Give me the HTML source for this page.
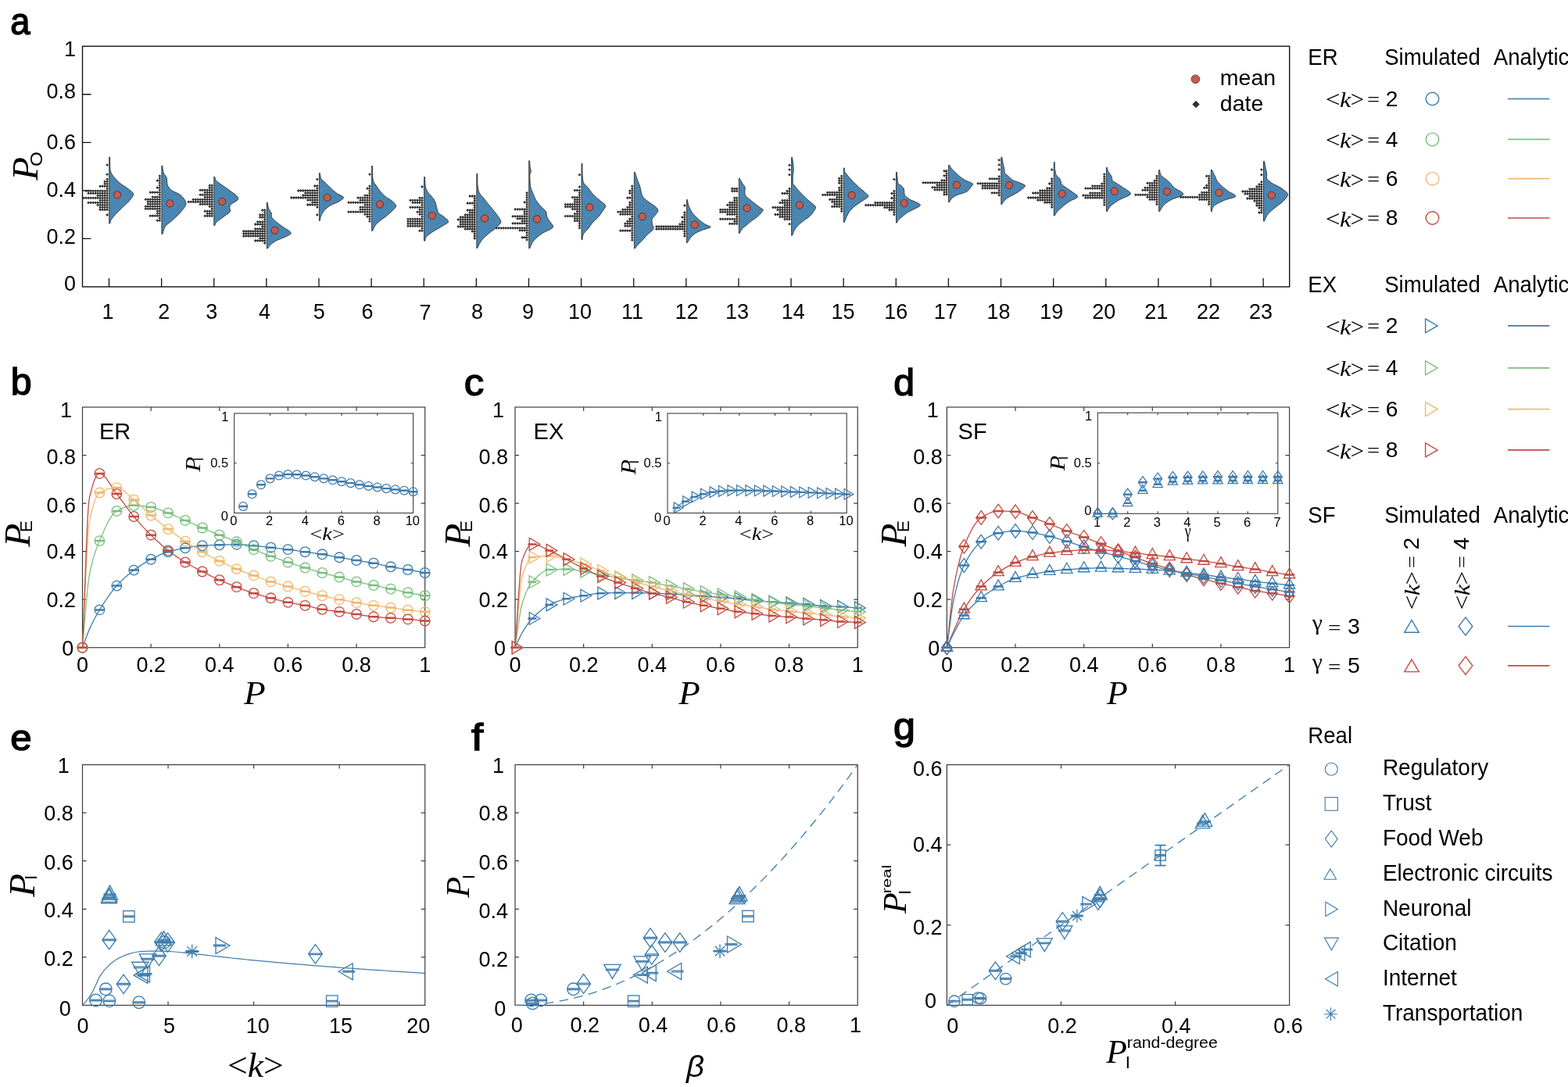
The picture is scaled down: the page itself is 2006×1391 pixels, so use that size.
<!DOCTYPE html>
<html><head><meta charset="utf-8"><title>Figure</title>
<style>
html,body{margin:0;padding:0;background:#fff;}
svg{display:block;}
.vf{fill:#4a86b1;stroke:#2e2e2e;stroke-width:0.9;stroke-linejoin:round}
.md{fill:#c95a4c;stroke:#3a2a2a;stroke-width:0.8}
.dt{fill:#333}
text{fill:#000}
</style></head><body>
<svg xmlns="http://www.w3.org/2000/svg" width="2006" height="1391" viewBox="0 0 2006 1391">
<rect width="2006" height="1391" fill="#fff"/>
<rect x="105.5" y="59.2" width="1544.2" height="307.8" fill="none" stroke="#111" stroke-width="1.4"/>
<path d="M105.5 305.44H116.5M105.5 243.88H116.5M105.5 182.32H116.5M105.5 120.76H116.5M139.5 367V356M206.62 367V356M273.74 367V356M340.86 367V356M407.98 367V356M475.1 367V356M542.22 367V356M609.34 367V356M676.46 367V356M743.58 367V356M810.7 367V356M877.82 367V356M944.94 367V356M1012.06 367V356M1079.18 367V356M1146.3 367V356M1213.42 367V356M1280.54 367V356M1347.66 367V356M1414.78 367V356M1481.9 367V356M1549.02 367V356M1616.14 367V356" stroke="#111" stroke-width="1.3" fill="none"/>
<text transform="translate(97,372.2) scale(1,1.04)" font-size="27" text-anchor="end" font-family='"Liberation Sans", Arial, sans-serif'>0</text>
<text transform="translate(97,312.3) scale(1,1.04)" font-size="27" text-anchor="end" font-family='"Liberation Sans", Arial, sans-serif'>0.2</text>
<text transform="translate(97,251.6) scale(1,1.04)" font-size="27" text-anchor="end" font-family='"Liberation Sans", Arial, sans-serif'>0.4</text>
<text transform="translate(97,190.6) scale(1,1.04)" font-size="27" text-anchor="end" font-family='"Liberation Sans", Arial, sans-serif'>0.6</text>
<text transform="translate(97,126) scale(1,1.04)" font-size="27" text-anchor="end" font-family='"Liberation Sans", Arial, sans-serif'>0.8</text>
<text transform="translate(97,71.8) scale(1,1.04)" font-size="27" text-anchor="end" font-family='"Liberation Sans", Arial, sans-serif'>1</text>
<text transform="translate(137.9,407.8) scale(1,1.04)" font-size="27" text-anchor="middle" font-family='"Liberation Sans", Arial, sans-serif'>1</text>
<text transform="translate(209.7,407.8) scale(1,1.04)" font-size="27" text-anchor="middle" font-family='"Liberation Sans", Arial, sans-serif'>2</text>
<text transform="translate(270.7,407.8) scale(1,1.04)" font-size="27" text-anchor="middle" font-family='"Liberation Sans", Arial, sans-serif'>3</text>
<text transform="translate(338.5,407.8) scale(1,1.04)" font-size="27" text-anchor="middle" font-family='"Liberation Sans", Arial, sans-serif'>4</text>
<text transform="translate(408.3,407.8) scale(1,1.04)" font-size="27" text-anchor="middle" font-family='"Liberation Sans", Arial, sans-serif'>5</text>
<text transform="translate(470.1,407.8) scale(1,1.04)" font-size="27" text-anchor="middle" font-family='"Liberation Sans", Arial, sans-serif'>6</text>
<text transform="translate(543.9,408.8) scale(1,1.04)" font-size="27" text-anchor="middle" font-family='"Liberation Sans", Arial, sans-serif'>7</text>
<text transform="translate(610.5,407.8) scale(1,1.04)" font-size="27" text-anchor="middle" font-family='"Liberation Sans", Arial, sans-serif'>8</text>
<text transform="translate(675.5,407.8) scale(1,1.04)" font-size="27" text-anchor="middle" font-family='"Liberation Sans", Arial, sans-serif'>9</text>
<text transform="translate(742.1,407.8) scale(1,1.04)" font-size="27" text-anchor="middle" font-family='"Liberation Sans", Arial, sans-serif'>10</text>
<text transform="translate(809.1,407.8) scale(1,1.04)" font-size="27" text-anchor="middle" font-family='"Liberation Sans", Arial, sans-serif'>11</text>
<text transform="translate(878.4,407.8) scale(1,1.04)" font-size="27" text-anchor="middle" font-family='"Liberation Sans", Arial, sans-serif'>12</text>
<text transform="translate(942.9,407.8) scale(1,1.04)" font-size="27" text-anchor="middle" font-family='"Liberation Sans", Arial, sans-serif'>13</text>
<text transform="translate(1014.7,407.8) scale(1,1.04)" font-size="27" text-anchor="middle" font-family='"Liberation Sans", Arial, sans-serif'>14</text>
<text transform="translate(1078.5,407.8) scale(1,1.04)" font-size="27" text-anchor="middle" font-family='"Liberation Sans", Arial, sans-serif'>15</text>
<text transform="translate(1146.3,407.8) scale(1,1.04)" font-size="27" text-anchor="middle" font-family='"Liberation Sans", Arial, sans-serif'>16</text>
<text transform="translate(1209.7,407.8) scale(1,1.04)" font-size="27" text-anchor="middle" font-family='"Liberation Sans", Arial, sans-serif'>17</text>
<text transform="translate(1277.5,407.8) scale(1,1.04)" font-size="27" text-anchor="middle" font-family='"Liberation Sans", Arial, sans-serif'>18</text>
<text transform="translate(1345.3,407.8) scale(1,1.04)" font-size="27" text-anchor="middle" font-family='"Liberation Sans", Arial, sans-serif'>19</text>
<text transform="translate(1412.3,407.8) scale(1,1.04)" font-size="27" text-anchor="middle" font-family='"Liberation Sans", Arial, sans-serif'>20</text>
<text transform="translate(1479.3,407.8) scale(1,1.04)" font-size="27" text-anchor="middle" font-family='"Liberation Sans", Arial, sans-serif'>21</text>
<text transform="translate(1545.9,407.8) scale(1,1.04)" font-size="27" text-anchor="middle" font-family='"Liberation Sans", Arial, sans-serif'>22</text>
<text transform="translate(1612.9,407.8) scale(1,1.04)" font-size="27" text-anchor="middle" font-family='"Liberation Sans", Arial, sans-serif'>23</text>
<path class="dt" d="M137.1 227.4l1.9 1.9-1.9 1.9-1.9-1.9zM137.1 230.4l1.9 1.9-1.9 1.9-1.9-1.9zM134.1 230.4l1.9 1.9-1.9 1.9-1.9-1.9zM137.1 233.4l1.9 1.9-1.9 1.9-1.9-1.9zM134.1 233.4l1.9 1.9-1.9 1.9-1.9-1.9zM137.1 236.4l1.9 1.9-1.9 1.9-1.9-1.9zM134.1 236.4l1.9 1.9-1.9 1.9-1.9-1.9zM131.1 236.4l1.9 1.9-1.9 1.9-1.9-1.9zM128.1 236.4l1.9 1.9-1.9 1.9-1.9-1.9zM137.1 239.4l1.9 1.9-1.9 1.9-1.9-1.9zM137.1 242.4l1.9 1.9-1.9 1.9-1.9-1.9zM134.1 242.4l1.9 1.9-1.9 1.9-1.9-1.9zM131.1 242.4l1.9 1.9-1.9 1.9-1.9-1.9zM128.1 242.4l1.9 1.9-1.9 1.9-1.9-1.9zM125.1 242.4l1.9 1.9-1.9 1.9-1.9-1.9zM122.1 242.4l1.9 1.9-1.9 1.9-1.9-1.9zM119.1 242.4l1.9 1.9-1.9 1.9-1.9-1.9zM116.1 242.4l1.9 1.9-1.9 1.9-1.9-1.9zM113.1 242.4l1.9 1.9-1.9 1.9-1.9-1.9zM110.1 242.4l1.9 1.9-1.9 1.9-1.9-1.9zM137.1 245.4l1.9 1.9-1.9 1.9-1.9-1.9zM134.1 245.4l1.9 1.9-1.9 1.9-1.9-1.9zM131.1 245.4l1.9 1.9-1.9 1.9-1.9-1.9zM128.1 245.4l1.9 1.9-1.9 1.9-1.9-1.9zM125.1 245.4l1.9 1.9-1.9 1.9-1.9-1.9zM122.1 245.4l1.9 1.9-1.9 1.9-1.9-1.9zM119.1 245.4l1.9 1.9-1.9 1.9-1.9-1.9zM116.1 245.4l1.9 1.9-1.9 1.9-1.9-1.9zM113.1 245.4l1.9 1.9-1.9 1.9-1.9-1.9zM137.1 248.4l1.9 1.9-1.9 1.9-1.9-1.9zM134.1 248.4l1.9 1.9-1.9 1.9-1.9-1.9zM131.1 248.4l1.9 1.9-1.9 1.9-1.9-1.9zM128.1 248.4l1.9 1.9-1.9 1.9-1.9-1.9zM125.1 248.4l1.9 1.9-1.9 1.9-1.9-1.9zM137.1 251.4l1.9 1.9-1.9 1.9-1.9-1.9zM134.1 251.4l1.9 1.9-1.9 1.9-1.9-1.9zM131.1 251.4l1.9 1.9-1.9 1.9-1.9-1.9zM128.1 251.4l1.9 1.9-1.9 1.9-1.9-1.9zM125.1 251.4l1.9 1.9-1.9 1.9-1.9-1.9zM122.1 251.4l1.9 1.9-1.9 1.9-1.9-1.9zM119.1 251.4l1.9 1.9-1.9 1.9-1.9-1.9zM116.1 251.4l1.9 1.9-1.9 1.9-1.9-1.9zM113.1 251.4l1.9 1.9-1.9 1.9-1.9-1.9zM110.1 251.4l1.9 1.9-1.9 1.9-1.9-1.9zM107.1 251.4l1.9 1.9-1.9 1.9-1.9-1.9zM137.1 254.4l1.9 1.9-1.9 1.9-1.9-1.9zM134.1 254.4l1.9 1.9-1.9 1.9-1.9-1.9zM131.1 254.4l1.9 1.9-1.9 1.9-1.9-1.9zM128.1 254.4l1.9 1.9-1.9 1.9-1.9-1.9zM137.1 257.4l1.9 1.9-1.9 1.9-1.9-1.9zM134.1 257.4l1.9 1.9-1.9 1.9-1.9-1.9zM131.1 257.4l1.9 1.9-1.9 1.9-1.9-1.9zM128.1 257.4l1.9 1.9-1.9 1.9-1.9-1.9zM125.1 257.4l1.9 1.9-1.9 1.9-1.9-1.9zM122.1 257.4l1.9 1.9-1.9 1.9-1.9-1.9zM119.1 257.4l1.9 1.9-1.9 1.9-1.9-1.9zM116.1 257.4l1.9 1.9-1.9 1.9-1.9-1.9zM113.1 257.4l1.9 1.9-1.9 1.9-1.9-1.9zM137.1 260.4l1.9 1.9-1.9 1.9-1.9-1.9zM134.1 260.4l1.9 1.9-1.9 1.9-1.9-1.9zM131.1 260.4l1.9 1.9-1.9 1.9-1.9-1.9zM128.1 260.4l1.9 1.9-1.9 1.9-1.9-1.9zM125.1 260.4l1.9 1.9-1.9 1.9-1.9-1.9zM137.1 263.4l1.9 1.9-1.9 1.9-1.9-1.9zM134.1 263.4l1.9 1.9-1.9 1.9-1.9-1.9zM131.1 263.4l1.9 1.9-1.9 1.9-1.9-1.9zM128.1 263.4l1.9 1.9-1.9 1.9-1.9-1.9zM137.1 266.4l1.9 1.9-1.9 1.9-1.9-1.9zM134.1 266.4l1.9 1.9-1.9 1.9-1.9-1.9zM131.1 266.4l1.9 1.9-1.9 1.9-1.9-1.9zM128.1 266.4l1.9 1.9-1.9 1.9-1.9-1.9zM137.1 209.2l1.9 1.9-1.9 1.9-1.9-1.9zM137.1 221.3l1.9 1.9-1.9 1.9-1.9-1.9zM137.1 273.1l1.9 1.9-1.9 1.9-1.9-1.9zM204.3 223.3l1.9 1.9-1.9 1.9-1.9-1.9zM204.3 226.3l1.9 1.9-1.9 1.9-1.9-1.9zM204.3 229.3l1.9 1.9-1.9 1.9-1.9-1.9zM201.3 229.3l1.9 1.9-1.9 1.9-1.9-1.9zM204.3 232.3l1.9 1.9-1.9 1.9-1.9-1.9zM204.3 235.3l1.9 1.9-1.9 1.9-1.9-1.9zM204.3 238.3l1.9 1.9-1.9 1.9-1.9-1.9zM201.3 238.3l1.9 1.9-1.9 1.9-1.9-1.9zM204.3 241.3l1.9 1.9-1.9 1.9-1.9-1.9zM204.3 244.3l1.9 1.9-1.9 1.9-1.9-1.9zM201.3 244.3l1.9 1.9-1.9 1.9-1.9-1.9zM198.3 244.3l1.9 1.9-1.9 1.9-1.9-1.9zM195.3 244.3l1.9 1.9-1.9 1.9-1.9-1.9zM192.3 244.3l1.9 1.9-1.9 1.9-1.9-1.9zM204.3 247.3l1.9 1.9-1.9 1.9-1.9-1.9zM204.3 250.3l1.9 1.9-1.9 1.9-1.9-1.9zM201.3 250.3l1.9 1.9-1.9 1.9-1.9-1.9zM198.3 250.3l1.9 1.9-1.9 1.9-1.9-1.9zM195.3 250.3l1.9 1.9-1.9 1.9-1.9-1.9zM204.3 253.3l1.9 1.9-1.9 1.9-1.9-1.9zM201.3 253.3l1.9 1.9-1.9 1.9-1.9-1.9zM198.3 253.3l1.9 1.9-1.9 1.9-1.9-1.9zM195.3 253.3l1.9 1.9-1.9 1.9-1.9-1.9zM192.3 253.3l1.9 1.9-1.9 1.9-1.9-1.9zM189.3 253.3l1.9 1.9-1.9 1.9-1.9-1.9zM186.3 253.3l1.9 1.9-1.9 1.9-1.9-1.9zM204.3 256.3l1.9 1.9-1.9 1.9-1.9-1.9zM201.3 256.3l1.9 1.9-1.9 1.9-1.9-1.9zM198.3 256.3l1.9 1.9-1.9 1.9-1.9-1.9zM195.3 256.3l1.9 1.9-1.9 1.9-1.9-1.9zM192.3 256.3l1.9 1.9-1.9 1.9-1.9-1.9zM189.3 256.3l1.9 1.9-1.9 1.9-1.9-1.9zM204.3 259.3l1.9 1.9-1.9 1.9-1.9-1.9zM201.3 259.3l1.9 1.9-1.9 1.9-1.9-1.9zM198.3 259.3l1.9 1.9-1.9 1.9-1.9-1.9zM195.3 259.3l1.9 1.9-1.9 1.9-1.9-1.9zM192.3 259.3l1.9 1.9-1.9 1.9-1.9-1.9zM189.3 259.3l1.9 1.9-1.9 1.9-1.9-1.9zM204.3 262.3l1.9 1.9-1.9 1.9-1.9-1.9zM201.3 262.3l1.9 1.9-1.9 1.9-1.9-1.9zM198.3 262.3l1.9 1.9-1.9 1.9-1.9-1.9zM195.3 262.3l1.9 1.9-1.9 1.9-1.9-1.9zM192.3 262.3l1.9 1.9-1.9 1.9-1.9-1.9zM189.3 262.3l1.9 1.9-1.9 1.9-1.9-1.9zM186.3 262.3l1.9 1.9-1.9 1.9-1.9-1.9zM204.3 265.3l1.9 1.9-1.9 1.9-1.9-1.9zM201.3 265.3l1.9 1.9-1.9 1.9-1.9-1.9zM198.3 265.3l1.9 1.9-1.9 1.9-1.9-1.9zM195.3 265.3l1.9 1.9-1.9 1.9-1.9-1.9zM192.3 265.3l1.9 1.9-1.9 1.9-1.9-1.9zM189.3 265.3l1.9 1.9-1.9 1.9-1.9-1.9zM186.3 265.3l1.9 1.9-1.9 1.9-1.9-1.9zM204.3 268.3l1.9 1.9-1.9 1.9-1.9-1.9zM201.3 268.3l1.9 1.9-1.9 1.9-1.9-1.9zM204.3 271.3l1.9 1.9-1.9 1.9-1.9-1.9zM201.3 271.3l1.9 1.9-1.9 1.9-1.9-1.9zM204.3 274.3l1.9 1.9-1.9 1.9-1.9-1.9zM201.3 274.3l1.9 1.9-1.9 1.9-1.9-1.9zM198.3 274.3l1.9 1.9-1.9 1.9-1.9-1.9zM195.3 274.3l1.9 1.9-1.9 1.9-1.9-1.9zM192.3 274.3l1.9 1.9-1.9 1.9-1.9-1.9zM204.3 277.3l1.9 1.9-1.9 1.9-1.9-1.9zM204.3 280.3l1.9 1.9-1.9 1.9-1.9-1.9zM201.3 280.3l1.9 1.9-1.9 1.9-1.9-1.9zM271.2 235.4l1.9 1.9-1.9 1.9-1.9-1.9zM268.2 235.4l1.9 1.9-1.9 1.9-1.9-1.9zM271.2 238.4l1.9 1.9-1.9 1.9-1.9-1.9zM268.2 238.4l1.9 1.9-1.9 1.9-1.9-1.9zM271.2 241.4l1.9 1.9-1.9 1.9-1.9-1.9zM268.2 241.4l1.9 1.9-1.9 1.9-1.9-1.9zM265.2 241.4l1.9 1.9-1.9 1.9-1.9-1.9zM262.2 241.4l1.9 1.9-1.9 1.9-1.9-1.9zM259.2 241.4l1.9 1.9-1.9 1.9-1.9-1.9zM256.2 241.4l1.9 1.9-1.9 1.9-1.9-1.9zM271.2 244.4l1.9 1.9-1.9 1.9-1.9-1.9zM268.2 244.4l1.9 1.9-1.9 1.9-1.9-1.9zM265.2 244.4l1.9 1.9-1.9 1.9-1.9-1.9zM262.2 244.4l1.9 1.9-1.9 1.9-1.9-1.9zM271.2 247.4l1.9 1.9-1.9 1.9-1.9-1.9zM268.2 247.4l1.9 1.9-1.9 1.9-1.9-1.9zM265.2 247.4l1.9 1.9-1.9 1.9-1.9-1.9zM262.2 247.4l1.9 1.9-1.9 1.9-1.9-1.9zM259.2 247.4l1.9 1.9-1.9 1.9-1.9-1.9zM256.2 247.4l1.9 1.9-1.9 1.9-1.9-1.9zM271.2 250.4l1.9 1.9-1.9 1.9-1.9-1.9zM268.2 250.4l1.9 1.9-1.9 1.9-1.9-1.9zM265.2 250.4l1.9 1.9-1.9 1.9-1.9-1.9zM262.2 250.4l1.9 1.9-1.9 1.9-1.9-1.9zM271.2 253.4l1.9 1.9-1.9 1.9-1.9-1.9zM268.2 253.4l1.9 1.9-1.9 1.9-1.9-1.9zM265.2 253.4l1.9 1.9-1.9 1.9-1.9-1.9zM262.2 253.4l1.9 1.9-1.9 1.9-1.9-1.9zM259.2 253.4l1.9 1.9-1.9 1.9-1.9-1.9zM256.2 253.4l1.9 1.9-1.9 1.9-1.9-1.9zM253.2 253.4l1.9 1.9-1.9 1.9-1.9-1.9zM250.2 253.4l1.9 1.9-1.9 1.9-1.9-1.9zM247.2 253.4l1.9 1.9-1.9 1.9-1.9-1.9zM271.2 256.4l1.9 1.9-1.9 1.9-1.9-1.9zM268.2 256.4l1.9 1.9-1.9 1.9-1.9-1.9zM265.2 256.4l1.9 1.9-1.9 1.9-1.9-1.9zM262.2 256.4l1.9 1.9-1.9 1.9-1.9-1.9zM259.2 256.4l1.9 1.9-1.9 1.9-1.9-1.9zM256.2 256.4l1.9 1.9-1.9 1.9-1.9-1.9zM253.2 256.4l1.9 1.9-1.9 1.9-1.9-1.9zM250.2 256.4l1.9 1.9-1.9 1.9-1.9-1.9zM247.2 256.4l1.9 1.9-1.9 1.9-1.9-1.9zM244.2 256.4l1.9 1.9-1.9 1.9-1.9-1.9zM241.2 256.4l1.9 1.9-1.9 1.9-1.9-1.9zM271.2 259.4l1.9 1.9-1.9 1.9-1.9-1.9zM268.2 259.4l1.9 1.9-1.9 1.9-1.9-1.9zM265.2 259.4l1.9 1.9-1.9 1.9-1.9-1.9zM262.2 259.4l1.9 1.9-1.9 1.9-1.9-1.9zM259.2 259.4l1.9 1.9-1.9 1.9-1.9-1.9zM256.2 259.4l1.9 1.9-1.9 1.9-1.9-1.9zM271.2 262.4l1.9 1.9-1.9 1.9-1.9-1.9zM268.2 262.4l1.9 1.9-1.9 1.9-1.9-1.9zM271.2 265.4l1.9 1.9-1.9 1.9-1.9-1.9zM271.2 268.4l1.9 1.9-1.9 1.9-1.9-1.9zM268.2 268.4l1.9 1.9-1.9 1.9-1.9-1.9zM265.2 268.4l1.9 1.9-1.9 1.9-1.9-1.9zM262.2 268.4l1.9 1.9-1.9 1.9-1.9-1.9zM271.2 271.4l1.9 1.9-1.9 1.9-1.9-1.9zM268.2 271.4l1.9 1.9-1.9 1.9-1.9-1.9zM265.2 271.4l1.9 1.9-1.9 1.9-1.9-1.9zM271.2 274.4l1.9 1.9-1.9 1.9-1.9-1.9zM268.2 274.4l1.9 1.9-1.9 1.9-1.9-1.9zM265.2 274.4l1.9 1.9-1.9 1.9-1.9-1.9zM262.2 274.4l1.9 1.9-1.9 1.9-1.9-1.9zM338.7 267.1l1.9 1.9-1.9 1.9-1.9-1.9zM335.7 267.1l1.9 1.9-1.9 1.9-1.9-1.9zM338.7 270.1l1.9 1.9-1.9 1.9-1.9-1.9zM338.7 273.1l1.9 1.9-1.9 1.9-1.9-1.9zM335.7 273.1l1.9 1.9-1.9 1.9-1.9-1.9zM332.7 273.1l1.9 1.9-1.9 1.9-1.9-1.9zM338.7 276.1l1.9 1.9-1.9 1.9-1.9-1.9zM335.7 276.1l1.9 1.9-1.9 1.9-1.9-1.9zM332.7 276.1l1.9 1.9-1.9 1.9-1.9-1.9zM338.7 279.1l1.9 1.9-1.9 1.9-1.9-1.9zM338.7 282.1l1.9 1.9-1.9 1.9-1.9-1.9zM335.7 282.1l1.9 1.9-1.9 1.9-1.9-1.9zM332.7 282.1l1.9 1.9-1.9 1.9-1.9-1.9zM329.7 282.1l1.9 1.9-1.9 1.9-1.9-1.9zM338.7 285.1l1.9 1.9-1.9 1.9-1.9-1.9zM335.7 285.1l1.9 1.9-1.9 1.9-1.9-1.9zM332.7 285.1l1.9 1.9-1.9 1.9-1.9-1.9zM329.7 285.1l1.9 1.9-1.9 1.9-1.9-1.9zM326.7 285.1l1.9 1.9-1.9 1.9-1.9-1.9zM338.7 288.1l1.9 1.9-1.9 1.9-1.9-1.9zM335.7 288.1l1.9 1.9-1.9 1.9-1.9-1.9zM338.7 291.1l1.9 1.9-1.9 1.9-1.9-1.9zM335.7 291.1l1.9 1.9-1.9 1.9-1.9-1.9zM332.7 291.1l1.9 1.9-1.9 1.9-1.9-1.9zM329.7 291.1l1.9 1.9-1.9 1.9-1.9-1.9zM326.7 291.1l1.9 1.9-1.9 1.9-1.9-1.9zM338.7 294.1l1.9 1.9-1.9 1.9-1.9-1.9zM335.7 294.1l1.9 1.9-1.9 1.9-1.9-1.9zM332.7 294.1l1.9 1.9-1.9 1.9-1.9-1.9zM329.7 294.1l1.9 1.9-1.9 1.9-1.9-1.9zM326.7 294.1l1.9 1.9-1.9 1.9-1.9-1.9zM323.7 294.1l1.9 1.9-1.9 1.9-1.9-1.9zM320.7 294.1l1.9 1.9-1.9 1.9-1.9-1.9zM317.7 294.1l1.9 1.9-1.9 1.9-1.9-1.9zM314.7 294.1l1.9 1.9-1.9 1.9-1.9-1.9zM311.7 294.1l1.9 1.9-1.9 1.9-1.9-1.9zM338.7 297.1l1.9 1.9-1.9 1.9-1.9-1.9zM335.7 297.1l1.9 1.9-1.9 1.9-1.9-1.9zM332.7 297.1l1.9 1.9-1.9 1.9-1.9-1.9zM329.7 297.1l1.9 1.9-1.9 1.9-1.9-1.9zM326.7 297.1l1.9 1.9-1.9 1.9-1.9-1.9zM323.7 297.1l1.9 1.9-1.9 1.9-1.9-1.9zM320.7 297.1l1.9 1.9-1.9 1.9-1.9-1.9zM317.7 297.1l1.9 1.9-1.9 1.9-1.9-1.9zM314.7 297.1l1.9 1.9-1.9 1.9-1.9-1.9zM311.7 297.1l1.9 1.9-1.9 1.9-1.9-1.9zM338.7 300.1l1.9 1.9-1.9 1.9-1.9-1.9zM335.7 300.1l1.9 1.9-1.9 1.9-1.9-1.9zM332.7 300.1l1.9 1.9-1.9 1.9-1.9-1.9zM329.7 300.1l1.9 1.9-1.9 1.9-1.9-1.9zM326.7 300.1l1.9 1.9-1.9 1.9-1.9-1.9zM323.7 300.1l1.9 1.9-1.9 1.9-1.9-1.9zM320.7 300.1l1.9 1.9-1.9 1.9-1.9-1.9zM317.7 300.1l1.9 1.9-1.9 1.9-1.9-1.9zM314.7 300.1l1.9 1.9-1.9 1.9-1.9-1.9zM311.7 300.1l1.9 1.9-1.9 1.9-1.9-1.9zM338.7 303.1l1.9 1.9-1.9 1.9-1.9-1.9zM335.7 303.1l1.9 1.9-1.9 1.9-1.9-1.9zM332.7 303.1l1.9 1.9-1.9 1.9-1.9-1.9zM338.7 306.1l1.9 1.9-1.9 1.9-1.9-1.9zM335.7 306.1l1.9 1.9-1.9 1.9-1.9-1.9zM332.7 306.1l1.9 1.9-1.9 1.9-1.9-1.9zM329.7 306.1l1.9 1.9-1.9 1.9-1.9-1.9zM326.7 306.1l1.9 1.9-1.9 1.9-1.9-1.9zM338.7 309.1l1.9 1.9-1.9 1.9-1.9-1.9zM405.8 236.1l1.9 1.9-1.9 1.9-1.9-1.9zM402.8 236.1l1.9 1.9-1.9 1.9-1.9-1.9zM405.8 239.1l1.9 1.9-1.9 1.9-1.9-1.9zM405.8 242.1l1.9 1.9-1.9 1.9-1.9-1.9zM402.8 242.1l1.9 1.9-1.9 1.9-1.9-1.9zM399.8 242.1l1.9 1.9-1.9 1.9-1.9-1.9zM396.8 242.1l1.9 1.9-1.9 1.9-1.9-1.9zM393.8 242.1l1.9 1.9-1.9 1.9-1.9-1.9zM390.8 242.1l1.9 1.9-1.9 1.9-1.9-1.9zM387.8 242.1l1.9 1.9-1.9 1.9-1.9-1.9zM384.8 242.1l1.9 1.9-1.9 1.9-1.9-1.9zM381.8 242.1l1.9 1.9-1.9 1.9-1.9-1.9zM405.8 245.1l1.9 1.9-1.9 1.9-1.9-1.9zM402.8 245.1l1.9 1.9-1.9 1.9-1.9-1.9zM399.8 245.1l1.9 1.9-1.9 1.9-1.9-1.9zM396.8 245.1l1.9 1.9-1.9 1.9-1.9-1.9zM393.8 245.1l1.9 1.9-1.9 1.9-1.9-1.9zM390.8 245.1l1.9 1.9-1.9 1.9-1.9-1.9zM405.8 248.1l1.9 1.9-1.9 1.9-1.9-1.9zM402.8 248.1l1.9 1.9-1.9 1.9-1.9-1.9zM399.8 248.1l1.9 1.9-1.9 1.9-1.9-1.9zM396.8 248.1l1.9 1.9-1.9 1.9-1.9-1.9zM393.8 248.1l1.9 1.9-1.9 1.9-1.9-1.9zM390.8 248.1l1.9 1.9-1.9 1.9-1.9-1.9zM387.8 248.1l1.9 1.9-1.9 1.9-1.9-1.9zM405.8 251.1l1.9 1.9-1.9 1.9-1.9-1.9zM402.8 251.1l1.9 1.9-1.9 1.9-1.9-1.9zM399.8 251.1l1.9 1.9-1.9 1.9-1.9-1.9zM396.8 251.1l1.9 1.9-1.9 1.9-1.9-1.9zM393.8 251.1l1.9 1.9-1.9 1.9-1.9-1.9zM390.8 251.1l1.9 1.9-1.9 1.9-1.9-1.9zM387.8 251.1l1.9 1.9-1.9 1.9-1.9-1.9zM384.8 251.1l1.9 1.9-1.9 1.9-1.9-1.9zM381.8 251.1l1.9 1.9-1.9 1.9-1.9-1.9zM378.8 251.1l1.9 1.9-1.9 1.9-1.9-1.9zM375.8 251.1l1.9 1.9-1.9 1.9-1.9-1.9zM372.8 251.1l1.9 1.9-1.9 1.9-1.9-1.9zM405.8 254.1l1.9 1.9-1.9 1.9-1.9-1.9zM402.8 254.1l1.9 1.9-1.9 1.9-1.9-1.9zM399.8 254.1l1.9 1.9-1.9 1.9-1.9-1.9zM396.8 254.1l1.9 1.9-1.9 1.9-1.9-1.9zM393.8 254.1l1.9 1.9-1.9 1.9-1.9-1.9zM405.8 257.1l1.9 1.9-1.9 1.9-1.9-1.9zM402.8 257.1l1.9 1.9-1.9 1.9-1.9-1.9zM399.8 257.1l1.9 1.9-1.9 1.9-1.9-1.9zM405.8 260.1l1.9 1.9-1.9 1.9-1.9-1.9zM402.8 260.1l1.9 1.9-1.9 1.9-1.9-1.9zM399.8 260.1l1.9 1.9-1.9 1.9-1.9-1.9zM396.8 260.1l1.9 1.9-1.9 1.9-1.9-1.9zM393.8 260.1l1.9 1.9-1.9 1.9-1.9-1.9zM405.8 263.1l1.9 1.9-1.9 1.9-1.9-1.9zM405.8 227.5l1.9 1.9-1.9 1.9-1.9-1.9zM405.8 273l1.9 1.9-1.9 1.9-1.9-1.9zM473 236.3l1.9 1.9-1.9 1.9-1.9-1.9zM473 239.3l1.9 1.9-1.9 1.9-1.9-1.9zM470 239.3l1.9 1.9-1.9 1.9-1.9-1.9zM473 242.3l1.9 1.9-1.9 1.9-1.9-1.9zM473 245.3l1.9 1.9-1.9 1.9-1.9-1.9zM473 248.3l1.9 1.9-1.9 1.9-1.9-1.9zM470 248.3l1.9 1.9-1.9 1.9-1.9-1.9zM467 248.3l1.9 1.9-1.9 1.9-1.9-1.9zM473 251.3l1.9 1.9-1.9 1.9-1.9-1.9zM470 251.3l1.9 1.9-1.9 1.9-1.9-1.9zM467 251.3l1.9 1.9-1.9 1.9-1.9-1.9zM464 251.3l1.9 1.9-1.9 1.9-1.9-1.9zM461 251.3l1.9 1.9-1.9 1.9-1.9-1.9zM458 251.3l1.9 1.9-1.9 1.9-1.9-1.9zM473 254.3l1.9 1.9-1.9 1.9-1.9-1.9zM470 254.3l1.9 1.9-1.9 1.9-1.9-1.9zM467 254.3l1.9 1.9-1.9 1.9-1.9-1.9zM464 254.3l1.9 1.9-1.9 1.9-1.9-1.9zM461 254.3l1.9 1.9-1.9 1.9-1.9-1.9zM473 257.3l1.9 1.9-1.9 1.9-1.9-1.9zM470 257.3l1.9 1.9-1.9 1.9-1.9-1.9zM467 257.3l1.9 1.9-1.9 1.9-1.9-1.9zM464 257.3l1.9 1.9-1.9 1.9-1.9-1.9zM461 257.3l1.9 1.9-1.9 1.9-1.9-1.9zM458 257.3l1.9 1.9-1.9 1.9-1.9-1.9zM455 257.3l1.9 1.9-1.9 1.9-1.9-1.9zM452 257.3l1.9 1.9-1.9 1.9-1.9-1.9zM449 257.3l1.9 1.9-1.9 1.9-1.9-1.9zM446 257.3l1.9 1.9-1.9 1.9-1.9-1.9zM473 260.3l1.9 1.9-1.9 1.9-1.9-1.9zM470 260.3l1.9 1.9-1.9 1.9-1.9-1.9zM467 260.3l1.9 1.9-1.9 1.9-1.9-1.9zM473 263.3l1.9 1.9-1.9 1.9-1.9-1.9zM470 263.3l1.9 1.9-1.9 1.9-1.9-1.9zM467 263.3l1.9 1.9-1.9 1.9-1.9-1.9zM464 263.3l1.9 1.9-1.9 1.9-1.9-1.9zM461 263.3l1.9 1.9-1.9 1.9-1.9-1.9zM473 266.3l1.9 1.9-1.9 1.9-1.9-1.9zM470 266.3l1.9 1.9-1.9 1.9-1.9-1.9zM467 266.3l1.9 1.9-1.9 1.9-1.9-1.9zM464 266.3l1.9 1.9-1.9 1.9-1.9-1.9zM461 266.3l1.9 1.9-1.9 1.9-1.9-1.9zM473 269.3l1.9 1.9-1.9 1.9-1.9-1.9zM470 269.3l1.9 1.9-1.9 1.9-1.9-1.9zM467 269.3l1.9 1.9-1.9 1.9-1.9-1.9zM464 269.3l1.9 1.9-1.9 1.9-1.9-1.9zM461 269.3l1.9 1.9-1.9 1.9-1.9-1.9zM458 269.3l1.9 1.9-1.9 1.9-1.9-1.9zM455 269.3l1.9 1.9-1.9 1.9-1.9-1.9zM452 269.3l1.9 1.9-1.9 1.9-1.9-1.9zM449 269.3l1.9 1.9-1.9 1.9-1.9-1.9zM446 269.3l1.9 1.9-1.9 1.9-1.9-1.9zM473 272.3l1.9 1.9-1.9 1.9-1.9-1.9zM470 272.3l1.9 1.9-1.9 1.9-1.9-1.9zM467 272.3l1.9 1.9-1.9 1.9-1.9-1.9zM473 275.3l1.9 1.9-1.9 1.9-1.9-1.9zM470 275.3l1.9 1.9-1.9 1.9-1.9-1.9zM473 278.3l1.9 1.9-1.9 1.9-1.9-1.9zM473 281.3l1.9 1.9-1.9 1.9-1.9-1.9zM473 221.2l1.9 1.9-1.9 1.9-1.9-1.9zM540 251.4l1.9 1.9-1.9 1.9-1.9-1.9zM537 251.4l1.9 1.9-1.9 1.9-1.9-1.9zM540 254.4l1.9 1.9-1.9 1.9-1.9-1.9zM537 254.4l1.9 1.9-1.9 1.9-1.9-1.9zM534 254.4l1.9 1.9-1.9 1.9-1.9-1.9zM531 254.4l1.9 1.9-1.9 1.9-1.9-1.9zM528 254.4l1.9 1.9-1.9 1.9-1.9-1.9zM525 254.4l1.9 1.9-1.9 1.9-1.9-1.9zM540 257.4l1.9 1.9-1.9 1.9-1.9-1.9zM537 257.4l1.9 1.9-1.9 1.9-1.9-1.9zM534 257.4l1.9 1.9-1.9 1.9-1.9-1.9zM531 257.4l1.9 1.9-1.9 1.9-1.9-1.9zM528 257.4l1.9 1.9-1.9 1.9-1.9-1.9zM540 260.4l1.9 1.9-1.9 1.9-1.9-1.9zM540 263.4l1.9 1.9-1.9 1.9-1.9-1.9zM537 263.4l1.9 1.9-1.9 1.9-1.9-1.9zM534 263.4l1.9 1.9-1.9 1.9-1.9-1.9zM531 263.4l1.9 1.9-1.9 1.9-1.9-1.9zM528 263.4l1.9 1.9-1.9 1.9-1.9-1.9zM525 263.4l1.9 1.9-1.9 1.9-1.9-1.9zM540 266.4l1.9 1.9-1.9 1.9-1.9-1.9zM537 266.4l1.9 1.9-1.9 1.9-1.9-1.9zM540 269.4l1.9 1.9-1.9 1.9-1.9-1.9zM537 269.4l1.9 1.9-1.9 1.9-1.9-1.9zM534 269.4l1.9 1.9-1.9 1.9-1.9-1.9zM540 272.4l1.9 1.9-1.9 1.9-1.9-1.9zM537 272.4l1.9 1.9-1.9 1.9-1.9-1.9zM540 275.4l1.9 1.9-1.9 1.9-1.9-1.9zM540 278.4l1.9 1.9-1.9 1.9-1.9-1.9zM537 278.4l1.9 1.9-1.9 1.9-1.9-1.9zM534 278.4l1.9 1.9-1.9 1.9-1.9-1.9zM531 278.4l1.9 1.9-1.9 1.9-1.9-1.9zM528 278.4l1.9 1.9-1.9 1.9-1.9-1.9zM525 278.4l1.9 1.9-1.9 1.9-1.9-1.9zM522 278.4l1.9 1.9-1.9 1.9-1.9-1.9zM540 281.4l1.9 1.9-1.9 1.9-1.9-1.9zM537 281.4l1.9 1.9-1.9 1.9-1.9-1.9zM534 281.4l1.9 1.9-1.9 1.9-1.9-1.9zM531 281.4l1.9 1.9-1.9 1.9-1.9-1.9zM528 281.4l1.9 1.9-1.9 1.9-1.9-1.9zM525 281.4l1.9 1.9-1.9 1.9-1.9-1.9zM522 281.4l1.9 1.9-1.9 1.9-1.9-1.9zM540 284.4l1.9 1.9-1.9 1.9-1.9-1.9zM537 284.4l1.9 1.9-1.9 1.9-1.9-1.9zM534 284.4l1.9 1.9-1.9 1.9-1.9-1.9zM531 284.4l1.9 1.9-1.9 1.9-1.9-1.9zM528 284.4l1.9 1.9-1.9 1.9-1.9-1.9zM525 284.4l1.9 1.9-1.9 1.9-1.9-1.9zM522 284.4l1.9 1.9-1.9 1.9-1.9-1.9zM540 287.4l1.9 1.9-1.9 1.9-1.9-1.9zM537 287.4l1.9 1.9-1.9 1.9-1.9-1.9zM534 287.4l1.9 1.9-1.9 1.9-1.9-1.9zM531 287.4l1.9 1.9-1.9 1.9-1.9-1.9zM528 287.4l1.9 1.9-1.9 1.9-1.9-1.9zM525 287.4l1.9 1.9-1.9 1.9-1.9-1.9zM522 287.4l1.9 1.9-1.9 1.9-1.9-1.9zM540 290.4l1.9 1.9-1.9 1.9-1.9-1.9zM540 293.4l1.9 1.9-1.9 1.9-1.9-1.9zM537 293.4l1.9 1.9-1.9 1.9-1.9-1.9zM540 237.1l1.9 1.9-1.9 1.9-1.9-1.9zM607.2 249.1l1.9 1.9-1.9 1.9-1.9-1.9zM604.2 249.1l1.9 1.9-1.9 1.9-1.9-1.9zM601.2 249.1l1.9 1.9-1.9 1.9-1.9-1.9zM607.2 252.1l1.9 1.9-1.9 1.9-1.9-1.9zM607.2 255.1l1.9 1.9-1.9 1.9-1.9-1.9zM607.2 258.1l1.9 1.9-1.9 1.9-1.9-1.9zM604.2 258.1l1.9 1.9-1.9 1.9-1.9-1.9zM601.2 258.1l1.9 1.9-1.9 1.9-1.9-1.9zM598.2 258.1l1.9 1.9-1.9 1.9-1.9-1.9zM607.2 261.1l1.9 1.9-1.9 1.9-1.9-1.9zM607.2 264.1l1.9 1.9-1.9 1.9-1.9-1.9zM607.2 267.1l1.9 1.9-1.9 1.9-1.9-1.9zM604.2 267.1l1.9 1.9-1.9 1.9-1.9-1.9zM601.2 267.1l1.9 1.9-1.9 1.9-1.9-1.9zM598.2 267.1l1.9 1.9-1.9 1.9-1.9-1.9zM607.2 270.1l1.9 1.9-1.9 1.9-1.9-1.9zM604.2 270.1l1.9 1.9-1.9 1.9-1.9-1.9zM601.2 270.1l1.9 1.9-1.9 1.9-1.9-1.9zM607.2 273.1l1.9 1.9-1.9 1.9-1.9-1.9zM604.2 273.1l1.9 1.9-1.9 1.9-1.9-1.9zM601.2 273.1l1.9 1.9-1.9 1.9-1.9-1.9zM598.2 273.1l1.9 1.9-1.9 1.9-1.9-1.9zM595.2 273.1l1.9 1.9-1.9 1.9-1.9-1.9zM607.2 276.1l1.9 1.9-1.9 1.9-1.9-1.9zM604.2 276.1l1.9 1.9-1.9 1.9-1.9-1.9zM601.2 276.1l1.9 1.9-1.9 1.9-1.9-1.9zM598.2 276.1l1.9 1.9-1.9 1.9-1.9-1.9zM595.2 276.1l1.9 1.9-1.9 1.9-1.9-1.9zM592.2 276.1l1.9 1.9-1.9 1.9-1.9-1.9zM589.2 276.1l1.9 1.9-1.9 1.9-1.9-1.9zM607.2 279.1l1.9 1.9-1.9 1.9-1.9-1.9zM604.2 279.1l1.9 1.9-1.9 1.9-1.9-1.9zM601.2 279.1l1.9 1.9-1.9 1.9-1.9-1.9zM598.2 279.1l1.9 1.9-1.9 1.9-1.9-1.9zM595.2 279.1l1.9 1.9-1.9 1.9-1.9-1.9zM592.2 279.1l1.9 1.9-1.9 1.9-1.9-1.9zM589.2 279.1l1.9 1.9-1.9 1.9-1.9-1.9zM586.2 279.1l1.9 1.9-1.9 1.9-1.9-1.9zM607.2 282.1l1.9 1.9-1.9 1.9-1.9-1.9zM604.2 282.1l1.9 1.9-1.9 1.9-1.9-1.9zM601.2 282.1l1.9 1.9-1.9 1.9-1.9-1.9zM598.2 282.1l1.9 1.9-1.9 1.9-1.9-1.9zM595.2 282.1l1.9 1.9-1.9 1.9-1.9-1.9zM592.2 282.1l1.9 1.9-1.9 1.9-1.9-1.9zM589.2 282.1l1.9 1.9-1.9 1.9-1.9-1.9zM607.2 285.1l1.9 1.9-1.9 1.9-1.9-1.9zM604.2 285.1l1.9 1.9-1.9 1.9-1.9-1.9zM601.2 285.1l1.9 1.9-1.9 1.9-1.9-1.9zM598.2 285.1l1.9 1.9-1.9 1.9-1.9-1.9zM595.2 285.1l1.9 1.9-1.9 1.9-1.9-1.9zM592.2 285.1l1.9 1.9-1.9 1.9-1.9-1.9zM589.2 285.1l1.9 1.9-1.9 1.9-1.9-1.9zM607.2 288.1l1.9 1.9-1.9 1.9-1.9-1.9zM604.2 288.1l1.9 1.9-1.9 1.9-1.9-1.9zM601.2 288.1l1.9 1.9-1.9 1.9-1.9-1.9zM598.2 288.1l1.9 1.9-1.9 1.9-1.9-1.9zM595.2 288.1l1.9 1.9-1.9 1.9-1.9-1.9zM592.2 288.1l1.9 1.9-1.9 1.9-1.9-1.9zM589.2 288.1l1.9 1.9-1.9 1.9-1.9-1.9zM586.2 288.1l1.9 1.9-1.9 1.9-1.9-1.9zM607.2 291.1l1.9 1.9-1.9 1.9-1.9-1.9zM604.2 291.1l1.9 1.9-1.9 1.9-1.9-1.9zM601.2 291.1l1.9 1.9-1.9 1.9-1.9-1.9zM598.2 291.1l1.9 1.9-1.9 1.9-1.9-1.9zM595.2 291.1l1.9 1.9-1.9 1.9-1.9-1.9zM607.2 294.1l1.9 1.9-1.9 1.9-1.9-1.9zM604.2 294.1l1.9 1.9-1.9 1.9-1.9-1.9zM607.2 297.1l1.9 1.9-1.9 1.9-1.9-1.9zM607.2 300.1l1.9 1.9-1.9 1.9-1.9-1.9zM607.2 303.1l1.9 1.9-1.9 1.9-1.9-1.9zM674.1 244.9l1.9 1.9-1.9 1.9-1.9-1.9zM674.1 247.9l1.9 1.9-1.9 1.9-1.9-1.9zM674.1 250.9l1.9 1.9-1.9 1.9-1.9-1.9zM674.1 253.9l1.9 1.9-1.9 1.9-1.9-1.9zM674.1 256.9l1.9 1.9-1.9 1.9-1.9-1.9zM671.1 256.9l1.9 1.9-1.9 1.9-1.9-1.9zM674.1 259.9l1.9 1.9-1.9 1.9-1.9-1.9zM674.1 262.9l1.9 1.9-1.9 1.9-1.9-1.9zM674.1 265.9l1.9 1.9-1.9 1.9-1.9-1.9zM671.1 265.9l1.9 1.9-1.9 1.9-1.9-1.9zM668.1 265.9l1.9 1.9-1.9 1.9-1.9-1.9zM665.1 265.9l1.9 1.9-1.9 1.9-1.9-1.9zM662.1 265.9l1.9 1.9-1.9 1.9-1.9-1.9zM659.1 265.9l1.9 1.9-1.9 1.9-1.9-1.9zM674.1 268.9l1.9 1.9-1.9 1.9-1.9-1.9zM671.1 268.9l1.9 1.9-1.9 1.9-1.9-1.9zM674.1 271.9l1.9 1.9-1.9 1.9-1.9-1.9zM671.1 271.9l1.9 1.9-1.9 1.9-1.9-1.9zM674.1 274.9l1.9 1.9-1.9 1.9-1.9-1.9zM671.1 274.9l1.9 1.9-1.9 1.9-1.9-1.9zM668.1 274.9l1.9 1.9-1.9 1.9-1.9-1.9zM665.1 274.9l1.9 1.9-1.9 1.9-1.9-1.9zM662.1 274.9l1.9 1.9-1.9 1.9-1.9-1.9zM659.1 274.9l1.9 1.9-1.9 1.9-1.9-1.9zM656.1 274.9l1.9 1.9-1.9 1.9-1.9-1.9zM674.1 277.9l1.9 1.9-1.9 1.9-1.9-1.9zM671.1 277.9l1.9 1.9-1.9 1.9-1.9-1.9zM668.1 277.9l1.9 1.9-1.9 1.9-1.9-1.9zM665.1 277.9l1.9 1.9-1.9 1.9-1.9-1.9zM662.1 277.9l1.9 1.9-1.9 1.9-1.9-1.9zM674.1 280.9l1.9 1.9-1.9 1.9-1.9-1.9zM671.1 280.9l1.9 1.9-1.9 1.9-1.9-1.9zM668.1 280.9l1.9 1.9-1.9 1.9-1.9-1.9zM674.1 283.9l1.9 1.9-1.9 1.9-1.9-1.9zM671.1 283.9l1.9 1.9-1.9 1.9-1.9-1.9zM668.1 283.9l1.9 1.9-1.9 1.9-1.9-1.9zM665.1 283.9l1.9 1.9-1.9 1.9-1.9-1.9zM662.1 283.9l1.9 1.9-1.9 1.9-1.9-1.9zM659.1 283.9l1.9 1.9-1.9 1.9-1.9-1.9zM656.1 283.9l1.9 1.9-1.9 1.9-1.9-1.9zM674.1 286.9l1.9 1.9-1.9 1.9-1.9-1.9zM674.1 289.9l1.9 1.9-1.9 1.9-1.9-1.9zM671.1 289.9l1.9 1.9-1.9 1.9-1.9-1.9zM668.1 289.9l1.9 1.9-1.9 1.9-1.9-1.9zM665.1 289.9l1.9 1.9-1.9 1.9-1.9-1.9zM662.1 289.9l1.9 1.9-1.9 1.9-1.9-1.9zM659.1 289.9l1.9 1.9-1.9 1.9-1.9-1.9zM656.1 289.9l1.9 1.9-1.9 1.9-1.9-1.9zM653.1 289.9l1.9 1.9-1.9 1.9-1.9-1.9zM650.1 289.9l1.9 1.9-1.9 1.9-1.9-1.9zM647.1 289.9l1.9 1.9-1.9 1.9-1.9-1.9zM644.1 289.9l1.9 1.9-1.9 1.9-1.9-1.9zM641.1 289.9l1.9 1.9-1.9 1.9-1.9-1.9zM638.1 289.9l1.9 1.9-1.9 1.9-1.9-1.9zM635.1 289.9l1.9 1.9-1.9 1.9-1.9-1.9zM632.1 289.9l1.9 1.9-1.9 1.9-1.9-1.9zM629.1 289.9l1.9 1.9-1.9 1.9-1.9-1.9zM626.1 289.9l1.9 1.9-1.9 1.9-1.9-1.9zM623.1 289.9l1.9 1.9-1.9 1.9-1.9-1.9zM620.1 289.9l1.9 1.9-1.9 1.9-1.9-1.9zM617.1 289.9l1.9 1.9-1.9 1.9-1.9-1.9zM614.1 289.9l1.9 1.9-1.9 1.9-1.9-1.9zM611.1 289.9l1.9 1.9-1.9 1.9-1.9-1.9zM674.1 292.9l1.9 1.9-1.9 1.9-1.9-1.9zM671.1 292.9l1.9 1.9-1.9 1.9-1.9-1.9zM668.1 292.9l1.9 1.9-1.9 1.9-1.9-1.9zM665.1 292.9l1.9 1.9-1.9 1.9-1.9-1.9zM674.1 295.9l1.9 1.9-1.9 1.9-1.9-1.9zM674.1 298.9l1.9 1.9-1.9 1.9-1.9-1.9zM674.1 301.9l1.9 1.9-1.9 1.9-1.9-1.9zM671.1 301.9l1.9 1.9-1.9 1.9-1.9-1.9zM668.1 301.9l1.9 1.9-1.9 1.9-1.9-1.9zM674.1 304.9l1.9 1.9-1.9 1.9-1.9-1.9zM741.4 241.7l1.9 1.9-1.9 1.9-1.9-1.9zM738.4 241.7l1.9 1.9-1.9 1.9-1.9-1.9zM735.4 241.7l1.9 1.9-1.9 1.9-1.9-1.9zM741.4 244.7l1.9 1.9-1.9 1.9-1.9-1.9zM741.4 247.7l1.9 1.9-1.9 1.9-1.9-1.9zM741.4 250.7l1.9 1.9-1.9 1.9-1.9-1.9zM738.4 250.7l1.9 1.9-1.9 1.9-1.9-1.9zM735.4 250.7l1.9 1.9-1.9 1.9-1.9-1.9zM732.4 250.7l1.9 1.9-1.9 1.9-1.9-1.9zM741.4 253.7l1.9 1.9-1.9 1.9-1.9-1.9zM738.4 253.7l1.9 1.9-1.9 1.9-1.9-1.9zM735.4 253.7l1.9 1.9-1.9 1.9-1.9-1.9zM741.4 256.7l1.9 1.9-1.9 1.9-1.9-1.9zM738.4 256.7l1.9 1.9-1.9 1.9-1.9-1.9zM735.4 256.7l1.9 1.9-1.9 1.9-1.9-1.9zM741.4 259.7l1.9 1.9-1.9 1.9-1.9-1.9zM738.4 259.7l1.9 1.9-1.9 1.9-1.9-1.9zM735.4 259.7l1.9 1.9-1.9 1.9-1.9-1.9zM732.4 259.7l1.9 1.9-1.9 1.9-1.9-1.9zM729.4 259.7l1.9 1.9-1.9 1.9-1.9-1.9zM726.4 259.7l1.9 1.9-1.9 1.9-1.9-1.9zM723.4 259.7l1.9 1.9-1.9 1.9-1.9-1.9zM741.4 262.7l1.9 1.9-1.9 1.9-1.9-1.9zM738.4 262.7l1.9 1.9-1.9 1.9-1.9-1.9zM735.4 262.7l1.9 1.9-1.9 1.9-1.9-1.9zM732.4 262.7l1.9 1.9-1.9 1.9-1.9-1.9zM729.4 262.7l1.9 1.9-1.9 1.9-1.9-1.9zM726.4 262.7l1.9 1.9-1.9 1.9-1.9-1.9zM723.4 262.7l1.9 1.9-1.9 1.9-1.9-1.9zM741.4 265.7l1.9 1.9-1.9 1.9-1.9-1.9zM738.4 265.7l1.9 1.9-1.9 1.9-1.9-1.9zM735.4 265.7l1.9 1.9-1.9 1.9-1.9-1.9zM732.4 265.7l1.9 1.9-1.9 1.9-1.9-1.9zM741.4 268.7l1.9 1.9-1.9 1.9-1.9-1.9zM738.4 268.7l1.9 1.9-1.9 1.9-1.9-1.9zM741.4 271.7l1.9 1.9-1.9 1.9-1.9-1.9zM738.4 271.7l1.9 1.9-1.9 1.9-1.9-1.9zM735.4 271.7l1.9 1.9-1.9 1.9-1.9-1.9zM741.4 274.7l1.9 1.9-1.9 1.9-1.9-1.9zM738.4 274.7l1.9 1.9-1.9 1.9-1.9-1.9zM735.4 274.7l1.9 1.9-1.9 1.9-1.9-1.9zM732.4 274.7l1.9 1.9-1.9 1.9-1.9-1.9zM729.4 274.7l1.9 1.9-1.9 1.9-1.9-1.9zM726.4 274.7l1.9 1.9-1.9 1.9-1.9-1.9zM723.4 274.7l1.9 1.9-1.9 1.9-1.9-1.9zM741.4 277.7l1.9 1.9-1.9 1.9-1.9-1.9zM738.4 277.7l1.9 1.9-1.9 1.9-1.9-1.9zM735.4 277.7l1.9 1.9-1.9 1.9-1.9-1.9zM741.4 280.7l1.9 1.9-1.9 1.9-1.9-1.9zM738.4 280.7l1.9 1.9-1.9 1.9-1.9-1.9zM735.4 280.7l1.9 1.9-1.9 1.9-1.9-1.9zM741.4 283.7l1.9 1.9-1.9 1.9-1.9-1.9zM741.4 286.7l1.9 1.9-1.9 1.9-1.9-1.9zM741.4 289.7l1.9 1.9-1.9 1.9-1.9-1.9zM741.4 221.8l1.9 1.9-1.9 1.9-1.9-1.9zM741.4 237.2l1.9 1.9-1.9 1.9-1.9-1.9zM808.8 236.3l1.9 1.9-1.9 1.9-1.9-1.9zM808.8 239.3l1.9 1.9-1.9 1.9-1.9-1.9zM808.8 242.3l1.9 1.9-1.9 1.9-1.9-1.9zM805.8 242.3l1.9 1.9-1.9 1.9-1.9-1.9zM808.8 245.3l1.9 1.9-1.9 1.9-1.9-1.9zM805.8 245.3l1.9 1.9-1.9 1.9-1.9-1.9zM808.8 248.3l1.9 1.9-1.9 1.9-1.9-1.9zM808.8 251.3l1.9 1.9-1.9 1.9-1.9-1.9zM805.8 251.3l1.9 1.9-1.9 1.9-1.9-1.9zM802.8 251.3l1.9 1.9-1.9 1.9-1.9-1.9zM808.8 254.3l1.9 1.9-1.9 1.9-1.9-1.9zM808.8 257.3l1.9 1.9-1.9 1.9-1.9-1.9zM805.8 257.3l1.9 1.9-1.9 1.9-1.9-1.9zM808.8 260.3l1.9 1.9-1.9 1.9-1.9-1.9zM805.8 260.3l1.9 1.9-1.9 1.9-1.9-1.9zM808.8 263.3l1.9 1.9-1.9 1.9-1.9-1.9zM805.8 263.3l1.9 1.9-1.9 1.9-1.9-1.9zM802.8 263.3l1.9 1.9-1.9 1.9-1.9-1.9zM808.8 266.3l1.9 1.9-1.9 1.9-1.9-1.9zM805.8 266.3l1.9 1.9-1.9 1.9-1.9-1.9zM802.8 266.3l1.9 1.9-1.9 1.9-1.9-1.9zM799.8 266.3l1.9 1.9-1.9 1.9-1.9-1.9zM796.8 266.3l1.9 1.9-1.9 1.9-1.9-1.9zM808.8 269.3l1.9 1.9-1.9 1.9-1.9-1.9zM805.8 269.3l1.9 1.9-1.9 1.9-1.9-1.9zM802.8 269.3l1.9 1.9-1.9 1.9-1.9-1.9zM799.8 269.3l1.9 1.9-1.9 1.9-1.9-1.9zM796.8 269.3l1.9 1.9-1.9 1.9-1.9-1.9zM793.8 269.3l1.9 1.9-1.9 1.9-1.9-1.9zM790.8 269.3l1.9 1.9-1.9 1.9-1.9-1.9zM808.8 272.3l1.9 1.9-1.9 1.9-1.9-1.9zM805.8 272.3l1.9 1.9-1.9 1.9-1.9-1.9zM802.8 272.3l1.9 1.9-1.9 1.9-1.9-1.9zM799.8 272.3l1.9 1.9-1.9 1.9-1.9-1.9zM796.8 272.3l1.9 1.9-1.9 1.9-1.9-1.9zM793.8 272.3l1.9 1.9-1.9 1.9-1.9-1.9zM808.8 275.3l1.9 1.9-1.9 1.9-1.9-1.9zM808.8 278.3l1.9 1.9-1.9 1.9-1.9-1.9zM805.8 278.3l1.9 1.9-1.9 1.9-1.9-1.9zM808.8 281.3l1.9 1.9-1.9 1.9-1.9-1.9zM805.8 281.3l1.9 1.9-1.9 1.9-1.9-1.9zM802.8 281.3l1.9 1.9-1.9 1.9-1.9-1.9zM808.8 284.3l1.9 1.9-1.9 1.9-1.9-1.9zM805.8 284.3l1.9 1.9-1.9 1.9-1.9-1.9zM802.8 284.3l1.9 1.9-1.9 1.9-1.9-1.9zM799.8 284.3l1.9 1.9-1.9 1.9-1.9-1.9zM808.8 287.3l1.9 1.9-1.9 1.9-1.9-1.9zM805.8 287.3l1.9 1.9-1.9 1.9-1.9-1.9zM802.8 287.3l1.9 1.9-1.9 1.9-1.9-1.9zM799.8 287.3l1.9 1.9-1.9 1.9-1.9-1.9zM808.8 290.3l1.9 1.9-1.9 1.9-1.9-1.9zM808.8 293.3l1.9 1.9-1.9 1.9-1.9-1.9zM805.8 293.3l1.9 1.9-1.9 1.9-1.9-1.9zM802.8 293.3l1.9 1.9-1.9 1.9-1.9-1.9zM799.8 293.3l1.9 1.9-1.9 1.9-1.9-1.9zM796.8 293.3l1.9 1.9-1.9 1.9-1.9-1.9zM793.8 293.3l1.9 1.9-1.9 1.9-1.9-1.9zM808.8 296.3l1.9 1.9-1.9 1.9-1.9-1.9zM808.8 299.3l1.9 1.9-1.9 1.9-1.9-1.9zM808.8 302.3l1.9 1.9-1.9 1.9-1.9-1.9zM808.8 305.3l1.9 1.9-1.9 1.9-1.9-1.9zM875.9 270.1l1.9 1.9-1.9 1.9-1.9-1.9zM875.9 273.1l1.9 1.9-1.9 1.9-1.9-1.9zM875.9 276.1l1.9 1.9-1.9 1.9-1.9-1.9zM872.9 276.1l1.9 1.9-1.9 1.9-1.9-1.9zM875.9 279.1l1.9 1.9-1.9 1.9-1.9-1.9zM875.9 282.1l1.9 1.9-1.9 1.9-1.9-1.9zM872.9 282.1l1.9 1.9-1.9 1.9-1.9-1.9zM875.9 285.1l1.9 1.9-1.9 1.9-1.9-1.9zM872.9 285.1l1.9 1.9-1.9 1.9-1.9-1.9zM869.9 285.1l1.9 1.9-1.9 1.9-1.9-1.9zM875.9 288.1l1.9 1.9-1.9 1.9-1.9-1.9zM872.9 288.1l1.9 1.9-1.9 1.9-1.9-1.9zM869.9 288.1l1.9 1.9-1.9 1.9-1.9-1.9zM866.9 288.1l1.9 1.9-1.9 1.9-1.9-1.9zM863.9 288.1l1.9 1.9-1.9 1.9-1.9-1.9zM860.9 288.1l1.9 1.9-1.9 1.9-1.9-1.9zM857.9 288.1l1.9 1.9-1.9 1.9-1.9-1.9zM854.9 288.1l1.9 1.9-1.9 1.9-1.9-1.9zM851.9 288.1l1.9 1.9-1.9 1.9-1.9-1.9zM848.9 288.1l1.9 1.9-1.9 1.9-1.9-1.9zM845.9 288.1l1.9 1.9-1.9 1.9-1.9-1.9zM842.9 288.1l1.9 1.9-1.9 1.9-1.9-1.9zM839.9 288.1l1.9 1.9-1.9 1.9-1.9-1.9zM875.9 291.1l1.9 1.9-1.9 1.9-1.9-1.9zM872.9 291.1l1.9 1.9-1.9 1.9-1.9-1.9zM869.9 291.1l1.9 1.9-1.9 1.9-1.9-1.9zM866.9 291.1l1.9 1.9-1.9 1.9-1.9-1.9zM863.9 291.1l1.9 1.9-1.9 1.9-1.9-1.9zM860.9 291.1l1.9 1.9-1.9 1.9-1.9-1.9zM857.9 291.1l1.9 1.9-1.9 1.9-1.9-1.9zM854.9 291.1l1.9 1.9-1.9 1.9-1.9-1.9zM851.9 291.1l1.9 1.9-1.9 1.9-1.9-1.9zM848.9 291.1l1.9 1.9-1.9 1.9-1.9-1.9zM845.9 291.1l1.9 1.9-1.9 1.9-1.9-1.9zM842.9 291.1l1.9 1.9-1.9 1.9-1.9-1.9zM839.9 291.1l1.9 1.9-1.9 1.9-1.9-1.9zM875.9 294.1l1.9 1.9-1.9 1.9-1.9-1.9zM875.9 297.1l1.9 1.9-1.9 1.9-1.9-1.9zM875.9 300.1l1.9 1.9-1.9 1.9-1.9-1.9zM875.9 261.1l1.9 1.9-1.9 1.9-1.9-1.9zM942.7 251.4l1.9 1.9-1.9 1.9-1.9-1.9zM939.7 251.4l1.9 1.9-1.9 1.9-1.9-1.9zM942.7 254.4l1.9 1.9-1.9 1.9-1.9-1.9zM939.7 254.4l1.9 1.9-1.9 1.9-1.9-1.9zM942.7 257.4l1.9 1.9-1.9 1.9-1.9-1.9zM939.7 257.4l1.9 1.9-1.9 1.9-1.9-1.9zM936.7 257.4l1.9 1.9-1.9 1.9-1.9-1.9zM933.7 257.4l1.9 1.9-1.9 1.9-1.9-1.9zM942.7 260.4l1.9 1.9-1.9 1.9-1.9-1.9zM939.7 260.4l1.9 1.9-1.9 1.9-1.9-1.9zM936.7 260.4l1.9 1.9-1.9 1.9-1.9-1.9zM933.7 260.4l1.9 1.9-1.9 1.9-1.9-1.9zM930.7 260.4l1.9 1.9-1.9 1.9-1.9-1.9zM942.7 263.4l1.9 1.9-1.9 1.9-1.9-1.9zM939.7 263.4l1.9 1.9-1.9 1.9-1.9-1.9zM936.7 263.4l1.9 1.9-1.9 1.9-1.9-1.9zM933.7 263.4l1.9 1.9-1.9 1.9-1.9-1.9zM942.7 266.4l1.9 1.9-1.9 1.9-1.9-1.9zM939.7 266.4l1.9 1.9-1.9 1.9-1.9-1.9zM936.7 266.4l1.9 1.9-1.9 1.9-1.9-1.9zM933.7 266.4l1.9 1.9-1.9 1.9-1.9-1.9zM930.7 266.4l1.9 1.9-1.9 1.9-1.9-1.9zM927.7 266.4l1.9 1.9-1.9 1.9-1.9-1.9zM924.7 266.4l1.9 1.9-1.9 1.9-1.9-1.9zM921.7 266.4l1.9 1.9-1.9 1.9-1.9-1.9zM942.7 269.4l1.9 1.9-1.9 1.9-1.9-1.9zM939.7 269.4l1.9 1.9-1.9 1.9-1.9-1.9zM936.7 269.4l1.9 1.9-1.9 1.9-1.9-1.9zM933.7 269.4l1.9 1.9-1.9 1.9-1.9-1.9zM930.7 269.4l1.9 1.9-1.9 1.9-1.9-1.9zM927.7 269.4l1.9 1.9-1.9 1.9-1.9-1.9zM924.7 269.4l1.9 1.9-1.9 1.9-1.9-1.9zM921.7 269.4l1.9 1.9-1.9 1.9-1.9-1.9zM942.7 272.4l1.9 1.9-1.9 1.9-1.9-1.9zM939.7 272.4l1.9 1.9-1.9 1.9-1.9-1.9zM936.7 272.4l1.9 1.9-1.9 1.9-1.9-1.9zM933.7 272.4l1.9 1.9-1.9 1.9-1.9-1.9zM930.7 272.4l1.9 1.9-1.9 1.9-1.9-1.9zM942.7 275.4l1.9 1.9-1.9 1.9-1.9-1.9zM942.7 278.4l1.9 1.9-1.9 1.9-1.9-1.9zM939.7 278.4l1.9 1.9-1.9 1.9-1.9-1.9zM936.7 278.4l1.9 1.9-1.9 1.9-1.9-1.9zM933.7 278.4l1.9 1.9-1.9 1.9-1.9-1.9zM930.7 278.4l1.9 1.9-1.9 1.9-1.9-1.9zM927.7 278.4l1.9 1.9-1.9 1.9-1.9-1.9zM924.7 278.4l1.9 1.9-1.9 1.9-1.9-1.9zM921.7 278.4l1.9 1.9-1.9 1.9-1.9-1.9zM942.7 281.4l1.9 1.9-1.9 1.9-1.9-1.9zM939.7 281.4l1.9 1.9-1.9 1.9-1.9-1.9zM942.7 284.4l1.9 1.9-1.9 1.9-1.9-1.9zM939.7 284.4l1.9 1.9-1.9 1.9-1.9-1.9zM936.7 284.4l1.9 1.9-1.9 1.9-1.9-1.9zM933.7 284.4l1.9 1.9-1.9 1.9-1.9-1.9zM942.7 239.6l1.9 1.9-1.9 1.9-1.9-1.9zM939.7 239.6l1.9 1.9-1.9 1.9-1.9-1.9zM936.7 239.6l1.9 1.9-1.9 1.9-1.9-1.9zM942.7 242.6l1.9 1.9-1.9 1.9-1.9-1.9zM939.7 242.6l1.9 1.9-1.9 1.9-1.9-1.9zM936.7 242.6l1.9 1.9-1.9 1.9-1.9-1.9zM1010 239.6l1.9 1.9-1.9 1.9-1.9-1.9zM1010 242.6l1.9 1.9-1.9 1.9-1.9-1.9zM1007 242.6l1.9 1.9-1.9 1.9-1.9-1.9zM1010 245.6l1.9 1.9-1.9 1.9-1.9-1.9zM1007 245.6l1.9 1.9-1.9 1.9-1.9-1.9zM1004 245.6l1.9 1.9-1.9 1.9-1.9-1.9zM1001 245.6l1.9 1.9-1.9 1.9-1.9-1.9zM1010 248.6l1.9 1.9-1.9 1.9-1.9-1.9zM1010 251.6l1.9 1.9-1.9 1.9-1.9-1.9zM1010 254.6l1.9 1.9-1.9 1.9-1.9-1.9zM1007 254.6l1.9 1.9-1.9 1.9-1.9-1.9zM1004 254.6l1.9 1.9-1.9 1.9-1.9-1.9zM1001 254.6l1.9 1.9-1.9 1.9-1.9-1.9zM1010 257.6l1.9 1.9-1.9 1.9-1.9-1.9zM1007 257.6l1.9 1.9-1.9 1.9-1.9-1.9zM1004 257.6l1.9 1.9-1.9 1.9-1.9-1.9zM1001 257.6l1.9 1.9-1.9 1.9-1.9-1.9zM998 257.6l1.9 1.9-1.9 1.9-1.9-1.9zM1010 260.6l1.9 1.9-1.9 1.9-1.9-1.9zM1007 260.6l1.9 1.9-1.9 1.9-1.9-1.9zM1004 260.6l1.9 1.9-1.9 1.9-1.9-1.9zM1010 263.6l1.9 1.9-1.9 1.9-1.9-1.9zM1007 263.6l1.9 1.9-1.9 1.9-1.9-1.9zM1004 263.6l1.9 1.9-1.9 1.9-1.9-1.9zM1001 263.6l1.9 1.9-1.9 1.9-1.9-1.9zM998 263.6l1.9 1.9-1.9 1.9-1.9-1.9zM995 263.6l1.9 1.9-1.9 1.9-1.9-1.9zM992 263.6l1.9 1.9-1.9 1.9-1.9-1.9zM989 263.6l1.9 1.9-1.9 1.9-1.9-1.9zM1010 266.6l1.9 1.9-1.9 1.9-1.9-1.9zM1007 266.6l1.9 1.9-1.9 1.9-1.9-1.9zM1004 266.6l1.9 1.9-1.9 1.9-1.9-1.9zM1001 266.6l1.9 1.9-1.9 1.9-1.9-1.9zM998 266.6l1.9 1.9-1.9 1.9-1.9-1.9zM995 266.6l1.9 1.9-1.9 1.9-1.9-1.9zM1010 269.6l1.9 1.9-1.9 1.9-1.9-1.9zM1007 269.6l1.9 1.9-1.9 1.9-1.9-1.9zM1004 269.6l1.9 1.9-1.9 1.9-1.9-1.9zM1001 269.6l1.9 1.9-1.9 1.9-1.9-1.9zM998 269.6l1.9 1.9-1.9 1.9-1.9-1.9zM1010 272.6l1.9 1.9-1.9 1.9-1.9-1.9zM1007 272.6l1.9 1.9-1.9 1.9-1.9-1.9zM1004 272.6l1.9 1.9-1.9 1.9-1.9-1.9zM1001 272.6l1.9 1.9-1.9 1.9-1.9-1.9zM998 272.6l1.9 1.9-1.9 1.9-1.9-1.9zM995 272.6l1.9 1.9-1.9 1.9-1.9-1.9zM992 272.6l1.9 1.9-1.9 1.9-1.9-1.9zM1010 275.6l1.9 1.9-1.9 1.9-1.9-1.9zM1007 275.6l1.9 1.9-1.9 1.9-1.9-1.9zM1004 275.6l1.9 1.9-1.9 1.9-1.9-1.9zM1001 275.6l1.9 1.9-1.9 1.9-1.9-1.9zM998 275.6l1.9 1.9-1.9 1.9-1.9-1.9zM1010 278.6l1.9 1.9-1.9 1.9-1.9-1.9zM1007 278.6l1.9 1.9-1.9 1.9-1.9-1.9zM1004 278.6l1.9 1.9-1.9 1.9-1.9-1.9zM1010 209.4l1.9 1.9-1.9 1.9-1.9-1.9zM1010 215.3l1.9 1.9-1.9 1.9-1.9-1.9zM1010 221.8l1.9 1.9-1.9 1.9-1.9-1.9zM1010 284.8l1.9 1.9-1.9 1.9-1.9-1.9zM1076.7 223.4l1.9 1.9-1.9 1.9-1.9-1.9zM1076.7 226.4l1.9 1.9-1.9 1.9-1.9-1.9zM1073.7 226.4l1.9 1.9-1.9 1.9-1.9-1.9zM1076.7 229.4l1.9 1.9-1.9 1.9-1.9-1.9zM1073.7 229.4l1.9 1.9-1.9 1.9-1.9-1.9zM1076.7 232.4l1.9 1.9-1.9 1.9-1.9-1.9zM1073.7 232.4l1.9 1.9-1.9 1.9-1.9-1.9zM1076.7 235.4l1.9 1.9-1.9 1.9-1.9-1.9zM1076.7 238.4l1.9 1.9-1.9 1.9-1.9-1.9zM1073.7 238.4l1.9 1.9-1.9 1.9-1.9-1.9zM1076.7 241.4l1.9 1.9-1.9 1.9-1.9-1.9zM1073.7 241.4l1.9 1.9-1.9 1.9-1.9-1.9zM1076.7 244.4l1.9 1.9-1.9 1.9-1.9-1.9zM1073.7 244.4l1.9 1.9-1.9 1.9-1.9-1.9zM1070.7 244.4l1.9 1.9-1.9 1.9-1.9-1.9zM1067.7 244.4l1.9 1.9-1.9 1.9-1.9-1.9zM1064.7 244.4l1.9 1.9-1.9 1.9-1.9-1.9zM1061.7 244.4l1.9 1.9-1.9 1.9-1.9-1.9zM1058.7 244.4l1.9 1.9-1.9 1.9-1.9-1.9zM1076.7 247.4l1.9 1.9-1.9 1.9-1.9-1.9zM1073.7 247.4l1.9 1.9-1.9 1.9-1.9-1.9zM1070.7 247.4l1.9 1.9-1.9 1.9-1.9-1.9zM1067.7 247.4l1.9 1.9-1.9 1.9-1.9-1.9zM1064.7 247.4l1.9 1.9-1.9 1.9-1.9-1.9zM1061.7 247.4l1.9 1.9-1.9 1.9-1.9-1.9zM1058.7 247.4l1.9 1.9-1.9 1.9-1.9-1.9zM1055.7 247.4l1.9 1.9-1.9 1.9-1.9-1.9zM1052.7 247.4l1.9 1.9-1.9 1.9-1.9-1.9zM1076.7 250.4l1.9 1.9-1.9 1.9-1.9-1.9zM1073.7 250.4l1.9 1.9-1.9 1.9-1.9-1.9zM1070.7 250.4l1.9 1.9-1.9 1.9-1.9-1.9zM1076.7 253.4l1.9 1.9-1.9 1.9-1.9-1.9zM1073.7 253.4l1.9 1.9-1.9 1.9-1.9-1.9zM1070.7 253.4l1.9 1.9-1.9 1.9-1.9-1.9zM1067.7 253.4l1.9 1.9-1.9 1.9-1.9-1.9zM1064.7 253.4l1.9 1.9-1.9 1.9-1.9-1.9zM1061.7 253.4l1.9 1.9-1.9 1.9-1.9-1.9zM1076.7 256.4l1.9 1.9-1.9 1.9-1.9-1.9zM1073.7 256.4l1.9 1.9-1.9 1.9-1.9-1.9zM1070.7 256.4l1.9 1.9-1.9 1.9-1.9-1.9zM1067.7 256.4l1.9 1.9-1.9 1.9-1.9-1.9zM1064.7 256.4l1.9 1.9-1.9 1.9-1.9-1.9zM1076.7 259.4l1.9 1.9-1.9 1.9-1.9-1.9zM1073.7 259.4l1.9 1.9-1.9 1.9-1.9-1.9zM1070.7 259.4l1.9 1.9-1.9 1.9-1.9-1.9zM1067.7 259.4l1.9 1.9-1.9 1.9-1.9-1.9zM1076.7 262.4l1.9 1.9-1.9 1.9-1.9-1.9zM1073.7 262.4l1.9 1.9-1.9 1.9-1.9-1.9zM1070.7 262.4l1.9 1.9-1.9 1.9-1.9-1.9zM1067.7 262.4l1.9 1.9-1.9 1.9-1.9-1.9zM1064.7 262.4l1.9 1.9-1.9 1.9-1.9-1.9zM1076.7 265.4l1.9 1.9-1.9 1.9-1.9-1.9zM1076.7 268.4l1.9 1.9-1.9 1.9-1.9-1.9zM1143.9 242.6l1.9 1.9-1.9 1.9-1.9-1.9zM1143.9 245.6l1.9 1.9-1.9 1.9-1.9-1.9zM1140.9 245.6l1.9 1.9-1.9 1.9-1.9-1.9zM1143.9 248.6l1.9 1.9-1.9 1.9-1.9-1.9zM1143.9 251.6l1.9 1.9-1.9 1.9-1.9-1.9zM1140.9 251.6l1.9 1.9-1.9 1.9-1.9-1.9zM1143.9 254.6l1.9 1.9-1.9 1.9-1.9-1.9zM1143.9 257.6l1.9 1.9-1.9 1.9-1.9-1.9zM1140.9 257.6l1.9 1.9-1.9 1.9-1.9-1.9zM1137.9 257.6l1.9 1.9-1.9 1.9-1.9-1.9zM1134.9 257.6l1.9 1.9-1.9 1.9-1.9-1.9zM1131.9 257.6l1.9 1.9-1.9 1.9-1.9-1.9zM1128.9 257.6l1.9 1.9-1.9 1.9-1.9-1.9zM1125.9 257.6l1.9 1.9-1.9 1.9-1.9-1.9zM1122.9 257.6l1.9 1.9-1.9 1.9-1.9-1.9zM1119.9 257.6l1.9 1.9-1.9 1.9-1.9-1.9zM1143.9 260.6l1.9 1.9-1.9 1.9-1.9-1.9zM1140.9 260.6l1.9 1.9-1.9 1.9-1.9-1.9zM1137.9 260.6l1.9 1.9-1.9 1.9-1.9-1.9zM1134.9 260.6l1.9 1.9-1.9 1.9-1.9-1.9zM1131.9 260.6l1.9 1.9-1.9 1.9-1.9-1.9zM1128.9 260.6l1.9 1.9-1.9 1.9-1.9-1.9zM1125.9 260.6l1.9 1.9-1.9 1.9-1.9-1.9zM1122.9 260.6l1.9 1.9-1.9 1.9-1.9-1.9zM1119.9 260.6l1.9 1.9-1.9 1.9-1.9-1.9zM1116.9 260.6l1.9 1.9-1.9 1.9-1.9-1.9zM1113.9 260.6l1.9 1.9-1.9 1.9-1.9-1.9zM1110.9 260.6l1.9 1.9-1.9 1.9-1.9-1.9zM1107.9 260.6l1.9 1.9-1.9 1.9-1.9-1.9zM1143.9 263.6l1.9 1.9-1.9 1.9-1.9-1.9zM1140.9 263.6l1.9 1.9-1.9 1.9-1.9-1.9zM1137.9 263.6l1.9 1.9-1.9 1.9-1.9-1.9zM1134.9 263.6l1.9 1.9-1.9 1.9-1.9-1.9zM1131.9 263.6l1.9 1.9-1.9 1.9-1.9-1.9zM1143.9 266.6l1.9 1.9-1.9 1.9-1.9-1.9zM1140.9 266.6l1.9 1.9-1.9 1.9-1.9-1.9zM1137.9 266.6l1.9 1.9-1.9 1.9-1.9-1.9zM1143.9 269.6l1.9 1.9-1.9 1.9-1.9-1.9zM1143.9 272.6l1.9 1.9-1.9 1.9-1.9-1.9zM1143.9 227.7l1.9 1.9-1.9 1.9-1.9-1.9zM1211 216.9l1.9 1.9-1.9 1.9-1.9-1.9zM1208 216.9l1.9 1.9-1.9 1.9-1.9-1.9zM1211 219.9l1.9 1.9-1.9 1.9-1.9-1.9zM1211 222.9l1.9 1.9-1.9 1.9-1.9-1.9zM1208 222.9l1.9 1.9-1.9 1.9-1.9-1.9zM1211 225.9l1.9 1.9-1.9 1.9-1.9-1.9zM1211 228.9l1.9 1.9-1.9 1.9-1.9-1.9zM1208 228.9l1.9 1.9-1.9 1.9-1.9-1.9zM1205 228.9l1.9 1.9-1.9 1.9-1.9-1.9zM1211 231.9l1.9 1.9-1.9 1.9-1.9-1.9zM1208 231.9l1.9 1.9-1.9 1.9-1.9-1.9zM1205 231.9l1.9 1.9-1.9 1.9-1.9-1.9zM1202 231.9l1.9 1.9-1.9 1.9-1.9-1.9zM1199 231.9l1.9 1.9-1.9 1.9-1.9-1.9zM1196 231.9l1.9 1.9-1.9 1.9-1.9-1.9zM1193 231.9l1.9 1.9-1.9 1.9-1.9-1.9zM1190 231.9l1.9 1.9-1.9 1.9-1.9-1.9zM1187 231.9l1.9 1.9-1.9 1.9-1.9-1.9zM1184 231.9l1.9 1.9-1.9 1.9-1.9-1.9zM1181 231.9l1.9 1.9-1.9 1.9-1.9-1.9zM1211 234.9l1.9 1.9-1.9 1.9-1.9-1.9zM1208 234.9l1.9 1.9-1.9 1.9-1.9-1.9zM1205 234.9l1.9 1.9-1.9 1.9-1.9-1.9zM1202 234.9l1.9 1.9-1.9 1.9-1.9-1.9zM1199 234.9l1.9 1.9-1.9 1.9-1.9-1.9zM1211 237.9l1.9 1.9-1.9 1.9-1.9-1.9zM1208 237.9l1.9 1.9-1.9 1.9-1.9-1.9zM1205 237.9l1.9 1.9-1.9 1.9-1.9-1.9zM1202 237.9l1.9 1.9-1.9 1.9-1.9-1.9zM1199 237.9l1.9 1.9-1.9 1.9-1.9-1.9zM1196 237.9l1.9 1.9-1.9 1.9-1.9-1.9zM1193 237.9l1.9 1.9-1.9 1.9-1.9-1.9zM1211 240.9l1.9 1.9-1.9 1.9-1.9-1.9zM1208 240.9l1.9 1.9-1.9 1.9-1.9-1.9zM1205 240.9l1.9 1.9-1.9 1.9-1.9-1.9zM1202 240.9l1.9 1.9-1.9 1.9-1.9-1.9zM1199 240.9l1.9 1.9-1.9 1.9-1.9-1.9zM1196 240.9l1.9 1.9-1.9 1.9-1.9-1.9zM1211 243.9l1.9 1.9-1.9 1.9-1.9-1.9zM1208 243.9l1.9 1.9-1.9 1.9-1.9-1.9zM1211 246.9l1.9 1.9-1.9 1.9-1.9-1.9zM1208 246.9l1.9 1.9-1.9 1.9-1.9-1.9zM1278.2 223.9l1.9 1.9-1.9 1.9-1.9-1.9zM1278.2 226.9l1.9 1.9-1.9 1.9-1.9-1.9zM1275.2 226.9l1.9 1.9-1.9 1.9-1.9-1.9zM1272.2 226.9l1.9 1.9-1.9 1.9-1.9-1.9zM1269.2 226.9l1.9 1.9-1.9 1.9-1.9-1.9zM1266.2 226.9l1.9 1.9-1.9 1.9-1.9-1.9zM1278.2 229.9l1.9 1.9-1.9 1.9-1.9-1.9zM1278.2 232.9l1.9 1.9-1.9 1.9-1.9-1.9zM1275.2 232.9l1.9 1.9-1.9 1.9-1.9-1.9zM1272.2 232.9l1.9 1.9-1.9 1.9-1.9-1.9zM1269.2 232.9l1.9 1.9-1.9 1.9-1.9-1.9zM1266.2 232.9l1.9 1.9-1.9 1.9-1.9-1.9zM1263.2 232.9l1.9 1.9-1.9 1.9-1.9-1.9zM1260.2 232.9l1.9 1.9-1.9 1.9-1.9-1.9zM1257.2 232.9l1.9 1.9-1.9 1.9-1.9-1.9zM1254.2 232.9l1.9 1.9-1.9 1.9-1.9-1.9zM1251.2 232.9l1.9 1.9-1.9 1.9-1.9-1.9zM1278.2 235.9l1.9 1.9-1.9 1.9-1.9-1.9zM1275.2 235.9l1.9 1.9-1.9 1.9-1.9-1.9zM1272.2 235.9l1.9 1.9-1.9 1.9-1.9-1.9zM1269.2 235.9l1.9 1.9-1.9 1.9-1.9-1.9zM1266.2 235.9l1.9 1.9-1.9 1.9-1.9-1.9zM1263.2 235.9l1.9 1.9-1.9 1.9-1.9-1.9zM1260.2 235.9l1.9 1.9-1.9 1.9-1.9-1.9zM1257.2 235.9l1.9 1.9-1.9 1.9-1.9-1.9zM1278.2 238.9l1.9 1.9-1.9 1.9-1.9-1.9zM1275.2 238.9l1.9 1.9-1.9 1.9-1.9-1.9zM1272.2 238.9l1.9 1.9-1.9 1.9-1.9-1.9zM1269.2 238.9l1.9 1.9-1.9 1.9-1.9-1.9zM1266.2 238.9l1.9 1.9-1.9 1.9-1.9-1.9zM1263.2 238.9l1.9 1.9-1.9 1.9-1.9-1.9zM1260.2 238.9l1.9 1.9-1.9 1.9-1.9-1.9zM1257.2 238.9l1.9 1.9-1.9 1.9-1.9-1.9zM1278.2 241.9l1.9 1.9-1.9 1.9-1.9-1.9zM1278.2 244.9l1.9 1.9-1.9 1.9-1.9-1.9zM1275.2 244.9l1.9 1.9-1.9 1.9-1.9-1.9zM1272.2 244.9l1.9 1.9-1.9 1.9-1.9-1.9zM1269.2 244.9l1.9 1.9-1.9 1.9-1.9-1.9zM1278.2 247.9l1.9 1.9-1.9 1.9-1.9-1.9zM1278.2 202.9l1.9 1.9-1.9 1.9-1.9-1.9zM1278.2 209l1.9 1.9-1.9 1.9-1.9-1.9zM1278.2 215l1.9 1.9-1.9 1.9-1.9-1.9zM1345.7 227.1l1.9 1.9-1.9 1.9-1.9-1.9zM1345.7 230.1l1.9 1.9-1.9 1.9-1.9-1.9zM1345.7 233.1l1.9 1.9-1.9 1.9-1.9-1.9zM1342.7 233.1l1.9 1.9-1.9 1.9-1.9-1.9zM1345.7 236.1l1.9 1.9-1.9 1.9-1.9-1.9zM1345.7 239.1l1.9 1.9-1.9 1.9-1.9-1.9zM1342.7 239.1l1.9 1.9-1.9 1.9-1.9-1.9zM1339.7 239.1l1.9 1.9-1.9 1.9-1.9-1.9zM1345.7 242.1l1.9 1.9-1.9 1.9-1.9-1.9zM1342.7 242.1l1.9 1.9-1.9 1.9-1.9-1.9zM1339.7 242.1l1.9 1.9-1.9 1.9-1.9-1.9zM1336.7 242.1l1.9 1.9-1.9 1.9-1.9-1.9zM1333.7 242.1l1.9 1.9-1.9 1.9-1.9-1.9zM1330.7 242.1l1.9 1.9-1.9 1.9-1.9-1.9zM1345.7 245.1l1.9 1.9-1.9 1.9-1.9-1.9zM1342.7 245.1l1.9 1.9-1.9 1.9-1.9-1.9zM1339.7 245.1l1.9 1.9-1.9 1.9-1.9-1.9zM1336.7 245.1l1.9 1.9-1.9 1.9-1.9-1.9zM1333.7 245.1l1.9 1.9-1.9 1.9-1.9-1.9zM1330.7 245.1l1.9 1.9-1.9 1.9-1.9-1.9zM1327.7 245.1l1.9 1.9-1.9 1.9-1.9-1.9zM1324.7 245.1l1.9 1.9-1.9 1.9-1.9-1.9zM1321.7 245.1l1.9 1.9-1.9 1.9-1.9-1.9zM1345.7 248.1l1.9 1.9-1.9 1.9-1.9-1.9zM1342.7 248.1l1.9 1.9-1.9 1.9-1.9-1.9zM1339.7 248.1l1.9 1.9-1.9 1.9-1.9-1.9zM1336.7 248.1l1.9 1.9-1.9 1.9-1.9-1.9zM1333.7 248.1l1.9 1.9-1.9 1.9-1.9-1.9zM1330.7 248.1l1.9 1.9-1.9 1.9-1.9-1.9zM1345.7 251.1l1.9 1.9-1.9 1.9-1.9-1.9zM1342.7 251.1l1.9 1.9-1.9 1.9-1.9-1.9zM1339.7 251.1l1.9 1.9-1.9 1.9-1.9-1.9zM1336.7 251.1l1.9 1.9-1.9 1.9-1.9-1.9zM1333.7 251.1l1.9 1.9-1.9 1.9-1.9-1.9zM1330.7 251.1l1.9 1.9-1.9 1.9-1.9-1.9zM1327.7 251.1l1.9 1.9-1.9 1.9-1.9-1.9zM1324.7 251.1l1.9 1.9-1.9 1.9-1.9-1.9zM1321.7 251.1l1.9 1.9-1.9 1.9-1.9-1.9zM1318.7 251.1l1.9 1.9-1.9 1.9-1.9-1.9zM1315.7 251.1l1.9 1.9-1.9 1.9-1.9-1.9zM1345.7 254.1l1.9 1.9-1.9 1.9-1.9-1.9zM1342.7 254.1l1.9 1.9-1.9 1.9-1.9-1.9zM1339.7 254.1l1.9 1.9-1.9 1.9-1.9-1.9zM1336.7 254.1l1.9 1.9-1.9 1.9-1.9-1.9zM1333.7 254.1l1.9 1.9-1.9 1.9-1.9-1.9zM1330.7 254.1l1.9 1.9-1.9 1.9-1.9-1.9zM1327.7 254.1l1.9 1.9-1.9 1.9-1.9-1.9zM1345.7 257.1l1.9 1.9-1.9 1.9-1.9-1.9zM1342.7 257.1l1.9 1.9-1.9 1.9-1.9-1.9zM1339.7 257.1l1.9 1.9-1.9 1.9-1.9-1.9zM1336.7 257.1l1.9 1.9-1.9 1.9-1.9-1.9zM1345.7 260.1l1.9 1.9-1.9 1.9-1.9-1.9zM1345.7 263.1l1.9 1.9-1.9 1.9-1.9-1.9zM1345.7 215.3l1.9 1.9-1.9 1.9-1.9-1.9zM1412.8 221.2l1.9 1.9-1.9 1.9-1.9-1.9zM1412.8 224.2l1.9 1.9-1.9 1.9-1.9-1.9zM1412.8 227.2l1.9 1.9-1.9 1.9-1.9-1.9zM1412.8 230.2l1.9 1.9-1.9 1.9-1.9-1.9zM1412.8 233.2l1.9 1.9-1.9 1.9-1.9-1.9zM1409.8 233.2l1.9 1.9-1.9 1.9-1.9-1.9zM1412.8 236.2l1.9 1.9-1.9 1.9-1.9-1.9zM1409.8 236.2l1.9 1.9-1.9 1.9-1.9-1.9zM1406.8 236.2l1.9 1.9-1.9 1.9-1.9-1.9zM1403.8 236.2l1.9 1.9-1.9 1.9-1.9-1.9zM1400.8 236.2l1.9 1.9-1.9 1.9-1.9-1.9zM1397.8 236.2l1.9 1.9-1.9 1.9-1.9-1.9zM1412.8 239.2l1.9 1.9-1.9 1.9-1.9-1.9zM1409.8 239.2l1.9 1.9-1.9 1.9-1.9-1.9zM1406.8 239.2l1.9 1.9-1.9 1.9-1.9-1.9zM1403.8 239.2l1.9 1.9-1.9 1.9-1.9-1.9zM1400.8 239.2l1.9 1.9-1.9 1.9-1.9-1.9zM1397.8 239.2l1.9 1.9-1.9 1.9-1.9-1.9zM1394.8 239.2l1.9 1.9-1.9 1.9-1.9-1.9zM1391.8 239.2l1.9 1.9-1.9 1.9-1.9-1.9zM1388.8 239.2l1.9 1.9-1.9 1.9-1.9-1.9zM1412.8 242.2l1.9 1.9-1.9 1.9-1.9-1.9zM1409.8 242.2l1.9 1.9-1.9 1.9-1.9-1.9zM1412.8 245.2l1.9 1.9-1.9 1.9-1.9-1.9zM1409.8 245.2l1.9 1.9-1.9 1.9-1.9-1.9zM1406.8 245.2l1.9 1.9-1.9 1.9-1.9-1.9zM1403.8 245.2l1.9 1.9-1.9 1.9-1.9-1.9zM1400.8 245.2l1.9 1.9-1.9 1.9-1.9-1.9zM1397.8 245.2l1.9 1.9-1.9 1.9-1.9-1.9zM1394.8 245.2l1.9 1.9-1.9 1.9-1.9-1.9zM1412.8 248.2l1.9 1.9-1.9 1.9-1.9-1.9zM1409.8 248.2l1.9 1.9-1.9 1.9-1.9-1.9zM1406.8 248.2l1.9 1.9-1.9 1.9-1.9-1.9zM1403.8 248.2l1.9 1.9-1.9 1.9-1.9-1.9zM1400.8 248.2l1.9 1.9-1.9 1.9-1.9-1.9zM1397.8 248.2l1.9 1.9-1.9 1.9-1.9-1.9zM1394.8 248.2l1.9 1.9-1.9 1.9-1.9-1.9zM1391.8 248.2l1.9 1.9-1.9 1.9-1.9-1.9zM1388.8 248.2l1.9 1.9-1.9 1.9-1.9-1.9zM1385.8 248.2l1.9 1.9-1.9 1.9-1.9-1.9zM1412.8 251.2l1.9 1.9-1.9 1.9-1.9-1.9zM1409.8 251.2l1.9 1.9-1.9 1.9-1.9-1.9zM1406.8 251.2l1.9 1.9-1.9 1.9-1.9-1.9zM1403.8 251.2l1.9 1.9-1.9 1.9-1.9-1.9zM1400.8 251.2l1.9 1.9-1.9 1.9-1.9-1.9zM1397.8 251.2l1.9 1.9-1.9 1.9-1.9-1.9zM1394.8 251.2l1.9 1.9-1.9 1.9-1.9-1.9zM1391.8 251.2l1.9 1.9-1.9 1.9-1.9-1.9zM1388.8 251.2l1.9 1.9-1.9 1.9-1.9-1.9zM1412.8 254.2l1.9 1.9-1.9 1.9-1.9-1.9zM1412.8 257.2l1.9 1.9-1.9 1.9-1.9-1.9zM1412.8 260.2l1.9 1.9-1.9 1.9-1.9-1.9zM1480 223.4l1.9 1.9-1.9 1.9-1.9-1.9zM1480 226.4l1.9 1.9-1.9 1.9-1.9-1.9zM1480 229.4l1.9 1.9-1.9 1.9-1.9-1.9zM1477 229.4l1.9 1.9-1.9 1.9-1.9-1.9zM1480 232.4l1.9 1.9-1.9 1.9-1.9-1.9zM1477 232.4l1.9 1.9-1.9 1.9-1.9-1.9zM1474 232.4l1.9 1.9-1.9 1.9-1.9-1.9zM1471 232.4l1.9 1.9-1.9 1.9-1.9-1.9zM1468 232.4l1.9 1.9-1.9 1.9-1.9-1.9zM1480 235.4l1.9 1.9-1.9 1.9-1.9-1.9zM1477 235.4l1.9 1.9-1.9 1.9-1.9-1.9zM1474 235.4l1.9 1.9-1.9 1.9-1.9-1.9zM1471 235.4l1.9 1.9-1.9 1.9-1.9-1.9zM1480 238.4l1.9 1.9-1.9 1.9-1.9-1.9zM1477 238.4l1.9 1.9-1.9 1.9-1.9-1.9zM1474 238.4l1.9 1.9-1.9 1.9-1.9-1.9zM1471 238.4l1.9 1.9-1.9 1.9-1.9-1.9zM1468 238.4l1.9 1.9-1.9 1.9-1.9-1.9zM1465 238.4l1.9 1.9-1.9 1.9-1.9-1.9zM1480 241.4l1.9 1.9-1.9 1.9-1.9-1.9zM1477 241.4l1.9 1.9-1.9 1.9-1.9-1.9zM1474 241.4l1.9 1.9-1.9 1.9-1.9-1.9zM1471 241.4l1.9 1.9-1.9 1.9-1.9-1.9zM1468 241.4l1.9 1.9-1.9 1.9-1.9-1.9zM1465 241.4l1.9 1.9-1.9 1.9-1.9-1.9zM1462 241.4l1.9 1.9-1.9 1.9-1.9-1.9zM1480 244.4l1.9 1.9-1.9 1.9-1.9-1.9zM1477 244.4l1.9 1.9-1.9 1.9-1.9-1.9zM1474 244.4l1.9 1.9-1.9 1.9-1.9-1.9zM1471 244.4l1.9 1.9-1.9 1.9-1.9-1.9zM1480 247.4l1.9 1.9-1.9 1.9-1.9-1.9zM1477 247.4l1.9 1.9-1.9 1.9-1.9-1.9zM1474 247.4l1.9 1.9-1.9 1.9-1.9-1.9zM1471 247.4l1.9 1.9-1.9 1.9-1.9-1.9zM1468 247.4l1.9 1.9-1.9 1.9-1.9-1.9zM1465 247.4l1.9 1.9-1.9 1.9-1.9-1.9zM1462 247.4l1.9 1.9-1.9 1.9-1.9-1.9zM1459 247.4l1.9 1.9-1.9 1.9-1.9-1.9zM1456 247.4l1.9 1.9-1.9 1.9-1.9-1.9zM1453 247.4l1.9 1.9-1.9 1.9-1.9-1.9zM1480 250.4l1.9 1.9-1.9 1.9-1.9-1.9zM1477 250.4l1.9 1.9-1.9 1.9-1.9-1.9zM1474 250.4l1.9 1.9-1.9 1.9-1.9-1.9zM1471 250.4l1.9 1.9-1.9 1.9-1.9-1.9zM1468 250.4l1.9 1.9-1.9 1.9-1.9-1.9zM1480 253.4l1.9 1.9-1.9 1.9-1.9-1.9zM1477 253.4l1.9 1.9-1.9 1.9-1.9-1.9zM1474 253.4l1.9 1.9-1.9 1.9-1.9-1.9zM1471 253.4l1.9 1.9-1.9 1.9-1.9-1.9zM1480 256.4l1.9 1.9-1.9 1.9-1.9-1.9zM1480 259.4l1.9 1.9-1.9 1.9-1.9-1.9zM1546.7 223.4l1.9 1.9-1.9 1.9-1.9-1.9zM1543.7 223.4l1.9 1.9-1.9 1.9-1.9-1.9zM1546.7 226.4l1.9 1.9-1.9 1.9-1.9-1.9zM1546.7 229.4l1.9 1.9-1.9 1.9-1.9-1.9zM1546.7 232.4l1.9 1.9-1.9 1.9-1.9-1.9zM1546.7 235.4l1.9 1.9-1.9 1.9-1.9-1.9zM1543.7 235.4l1.9 1.9-1.9 1.9-1.9-1.9zM1546.7 238.4l1.9 1.9-1.9 1.9-1.9-1.9zM1543.7 238.4l1.9 1.9-1.9 1.9-1.9-1.9zM1540.7 238.4l1.9 1.9-1.9 1.9-1.9-1.9zM1546.7 241.4l1.9 1.9-1.9 1.9-1.9-1.9zM1546.7 244.4l1.9 1.9-1.9 1.9-1.9-1.9zM1543.7 244.4l1.9 1.9-1.9 1.9-1.9-1.9zM1540.7 244.4l1.9 1.9-1.9 1.9-1.9-1.9zM1537.7 244.4l1.9 1.9-1.9 1.9-1.9-1.9zM1546.7 247.4l1.9 1.9-1.9 1.9-1.9-1.9zM1543.7 247.4l1.9 1.9-1.9 1.9-1.9-1.9zM1540.7 247.4l1.9 1.9-1.9 1.9-1.9-1.9zM1537.7 247.4l1.9 1.9-1.9 1.9-1.9-1.9zM1534.7 247.4l1.9 1.9-1.9 1.9-1.9-1.9zM1546.7 250.4l1.9 1.9-1.9 1.9-1.9-1.9zM1543.7 250.4l1.9 1.9-1.9 1.9-1.9-1.9zM1540.7 250.4l1.9 1.9-1.9 1.9-1.9-1.9zM1537.7 250.4l1.9 1.9-1.9 1.9-1.9-1.9zM1534.7 250.4l1.9 1.9-1.9 1.9-1.9-1.9zM1531.7 250.4l1.9 1.9-1.9 1.9-1.9-1.9zM1528.7 250.4l1.9 1.9-1.9 1.9-1.9-1.9zM1525.7 250.4l1.9 1.9-1.9 1.9-1.9-1.9zM1522.7 250.4l1.9 1.9-1.9 1.9-1.9-1.9zM1519.7 250.4l1.9 1.9-1.9 1.9-1.9-1.9zM1516.7 250.4l1.9 1.9-1.9 1.9-1.9-1.9zM1513.7 250.4l1.9 1.9-1.9 1.9-1.9-1.9zM1510.7 250.4l1.9 1.9-1.9 1.9-1.9-1.9zM1546.7 253.4l1.9 1.9-1.9 1.9-1.9-1.9zM1543.7 253.4l1.9 1.9-1.9 1.9-1.9-1.9zM1540.7 253.4l1.9 1.9-1.9 1.9-1.9-1.9zM1537.7 253.4l1.9 1.9-1.9 1.9-1.9-1.9zM1534.7 253.4l1.9 1.9-1.9 1.9-1.9-1.9zM1546.7 256.4l1.9 1.9-1.9 1.9-1.9-1.9zM1546.7 259.4l1.9 1.9-1.9 1.9-1.9-1.9zM1613.9 234.1l1.9 1.9-1.9 1.9-1.9-1.9zM1610.9 234.1l1.9 1.9-1.9 1.9-1.9-1.9zM1613.9 237.1l1.9 1.9-1.9 1.9-1.9-1.9zM1610.9 237.1l1.9 1.9-1.9 1.9-1.9-1.9zM1607.9 237.1l1.9 1.9-1.9 1.9-1.9-1.9zM1613.9 240.1l1.9 1.9-1.9 1.9-1.9-1.9zM1610.9 240.1l1.9 1.9-1.9 1.9-1.9-1.9zM1607.9 240.1l1.9 1.9-1.9 1.9-1.9-1.9zM1604.9 240.1l1.9 1.9-1.9 1.9-1.9-1.9zM1601.9 240.1l1.9 1.9-1.9 1.9-1.9-1.9zM1598.9 240.1l1.9 1.9-1.9 1.9-1.9-1.9zM1613.9 243.1l1.9 1.9-1.9 1.9-1.9-1.9zM1610.9 243.1l1.9 1.9-1.9 1.9-1.9-1.9zM1607.9 243.1l1.9 1.9-1.9 1.9-1.9-1.9zM1604.9 243.1l1.9 1.9-1.9 1.9-1.9-1.9zM1601.9 243.1l1.9 1.9-1.9 1.9-1.9-1.9zM1598.9 243.1l1.9 1.9-1.9 1.9-1.9-1.9zM1595.9 243.1l1.9 1.9-1.9 1.9-1.9-1.9zM1592.9 243.1l1.9 1.9-1.9 1.9-1.9-1.9zM1589.9 243.1l1.9 1.9-1.9 1.9-1.9-1.9zM1613.9 246.1l1.9 1.9-1.9 1.9-1.9-1.9zM1610.9 246.1l1.9 1.9-1.9 1.9-1.9-1.9zM1607.9 246.1l1.9 1.9-1.9 1.9-1.9-1.9zM1604.9 246.1l1.9 1.9-1.9 1.9-1.9-1.9zM1601.9 246.1l1.9 1.9-1.9 1.9-1.9-1.9zM1598.9 246.1l1.9 1.9-1.9 1.9-1.9-1.9zM1595.9 246.1l1.9 1.9-1.9 1.9-1.9-1.9zM1592.9 246.1l1.9 1.9-1.9 1.9-1.9-1.9zM1613.9 249.1l1.9 1.9-1.9 1.9-1.9-1.9zM1610.9 249.1l1.9 1.9-1.9 1.9-1.9-1.9zM1607.9 249.1l1.9 1.9-1.9 1.9-1.9-1.9zM1604.9 249.1l1.9 1.9-1.9 1.9-1.9-1.9zM1601.9 249.1l1.9 1.9-1.9 1.9-1.9-1.9zM1598.9 249.1l1.9 1.9-1.9 1.9-1.9-1.9zM1613.9 252.1l1.9 1.9-1.9 1.9-1.9-1.9zM1610.9 252.1l1.9 1.9-1.9 1.9-1.9-1.9zM1607.9 252.1l1.9 1.9-1.9 1.9-1.9-1.9zM1604.9 252.1l1.9 1.9-1.9 1.9-1.9-1.9zM1601.9 252.1l1.9 1.9-1.9 1.9-1.9-1.9zM1598.9 252.1l1.9 1.9-1.9 1.9-1.9-1.9zM1595.9 252.1l1.9 1.9-1.9 1.9-1.9-1.9zM1613.9 255.1l1.9 1.9-1.9 1.9-1.9-1.9zM1610.9 255.1l1.9 1.9-1.9 1.9-1.9-1.9zM1607.9 255.1l1.9 1.9-1.9 1.9-1.9-1.9zM1604.9 255.1l1.9 1.9-1.9 1.9-1.9-1.9zM1613.9 258.1l1.9 1.9-1.9 1.9-1.9-1.9zM1610.9 258.1l1.9 1.9-1.9 1.9-1.9-1.9zM1607.9 258.1l1.9 1.9-1.9 1.9-1.9-1.9zM1613.9 261.1l1.9 1.9-1.9 1.9-1.9-1.9zM1610.9 261.1l1.9 1.9-1.9 1.9-1.9-1.9zM1607.9 261.1l1.9 1.9-1.9 1.9-1.9-1.9zM1613.9 264.1l1.9 1.9-1.9 1.9-1.9-1.9zM1610.9 264.1l1.9 1.9-1.9 1.9-1.9-1.9zM1613.9 267.1l1.9 1.9-1.9 1.9-1.9-1.9zM1613.9 270.1l1.9 1.9-1.9 1.9-1.9-1.9zM1610.9 270.1l1.9 1.9-1.9 1.9-1.9-1.9zM1613.9 215.3l1.9 1.9-1.9 1.9-1.9-1.9zM1613.9 221.8l1.9 1.9-1.9 1.9-1.9-1.9zM1613.9 230.9l1.9 1.9-1.9 1.9-1.9-1.9z"/>
<path d="M139.7 201.1 L140.7 201.1 L140.7 202.52 L140.7 203.93 L140.7 205.35 L140.7 206.77 L140.7 208.18 L140.7 209.6 L140.71 211.02 L140.74 212.43 L140.77 213.85 L140.81 215.27 L140.96 216.68 L141.24 218.1 L141.61 219.52 L142.05 220.93 L142.74 222.35 L143.65 223.77 L144.71 225.18 L145.86 226.6 L147.05 228.02 L148.28 229.43 L149.66 230.85 L151.17 232.27 L152.77 233.68 L154.46 235.1 L156.31 236.52 L158.41 237.93 L160.6 239.35 L162.7 240.77 L164.56 242.18 L166.34 243.6 L168.18 245.02 L169.73 246.43 L170.61 247.85 L170.6 249.27 L170.06 250.68 L169.19 252.1 L168.13 253.52 L167.04 254.93 L165.98 256.35 L164.74 257.77 L163.36 259.18 L161.89 260.6 L160.37 262.02 L158.84 263.43 L157.35 264.85 L155.93 266.27 L154.49 267.68 L153.02 269.1 L151.56 270.52 L150.13 271.93 L148.74 273.35 L147.43 274.77 L146.19 276.18 L144.93 277.6 L143.72 279.02 L142.66 280.43 L141.86 281.85 L141.36 283.27 L140.98 284.68 L140.7 286.1 L139.7 286.1Z" class="vf"/>
<circle cx="150" cy="249.4" r="4.6" class="md"/>
<path d="M206.9 212.1 L207.9 212.1 L207.96 213.56 L208.11 215.01 L208.25 216.47 L208.43 217.93 L208.65 219.38 L208.99 220.84 L209.76 222.3 L210.83 223.75 L211.95 225.21 L212.88 226.67 L213.39 228.12 L213.53 229.58 L213.62 231.04 L213.68 232.49 L213.77 233.95 L213.91 235.41 L214.3 236.86 L214.99 238.32 L215.91 239.78 L217.02 241.23 L218.28 242.69 L220.39 244.15 L223.25 245.6 L226.37 247.06 L229.27 248.52 L231.46 249.97 L232.82 251.43 L234.08 252.89 L235.25 254.34 L236.26 255.8 L237.08 257.26 L237.64 258.71 L237.89 260.17 L237.77 261.63 L237.28 263.08 L236.48 264.54 L235.47 266 L234.33 267.45 L233.15 268.91 L232 270.37 L230.84 271.82 L229.53 273.28 L228.1 274.74 L226.59 276.19 L225.04 277.65 L223.48 279.11 L221.94 280.56 L220.31 282.02 L218.51 283.48 L216.66 284.93 L214.85 286.39 L213.21 287.85 L211.85 289.3 L210.87 290.76 L210.19 292.22 L209.63 293.67 L209.15 295.13 L208.71 296.59 L208.28 298.04 L207.9 299.5 L206.9 299.5Z" class="vf"/>
<circle cx="217.2" cy="260.3" r="4.6" class="md"/>
<path d="M273.8 226.2 L274.8 226.2 L274.97 227.24 L275.22 228.28 L275.52 229.32 L275.93 230.36 L276.7 231.4 L277.87 232.44 L279.27 233.48 L280.75 234.52 L282.14 235.56 L283.57 236.6 L285.09 237.64 L286.66 238.68 L288.22 239.72 L289.74 240.76 L291.16 241.8 L292.49 242.84 L293.89 243.88 L295.36 244.92 L296.86 245.96 L298.34 247 L299.77 248.04 L301.1 249.08 L302.29 250.12 L303.29 251.16 L304.07 252.2 L304.59 253.24 L304.8 254.28 L304.48 255.32 L303.48 256.36 L302 257.4 L300.25 258.44 L298.44 259.48 L296.78 260.52 L295.49 261.56 L294.76 262.6 L294.33 263.64 L293.99 264.68 L293.81 265.72 L293.92 266.76 L294.32 267.8 L294.71 268.84 L294.76 269.88 L294.31 270.92 L293.42 271.96 L292.22 273 L290.8 274.04 L289.27 275.08 L287.75 276.12 L286.34 277.16 L285.06 278.2 L283.66 279.24 L282.16 280.28 L280.64 281.32 L279.19 282.36 L277.87 283.4 L276.77 284.44 L275.97 285.48 L275.46 286.52 L275.08 287.56 L274.8 288.6 L273.8 288.6Z" class="vf"/>
<circle cx="284.1" cy="258" r="4.6" class="md"/>
<path d="M341.3 259.2 L342.3 259.2 L342.36 260.18 L342.51 261.16 L342.65 262.14 L342.8 263.12 L342.97 264.1 L343.17 265.08 L343.42 266.06 L343.76 267.04 L344.21 268.02 L344.74 269 L345.29 269.98 L346.03 270.96 L346.86 271.94 L347.3 272.92 L347.3 273.9 L347.3 274.88 L347.3 275.86 L347.3 276.84 L347.48 277.82 L348.08 278.8 L348.98 279.78 L350.01 280.76 L351.04 281.74 L352.03 282.72 L353.11 283.7 L354.3 284.68 L355.55 285.66 L356.85 286.64 L358.16 287.62 L359.48 288.6 L360.76 289.58 L362.05 290.56 L363.54 291.54 L365.17 292.52 L366.84 293.5 L368.44 294.48 L369.89 295.46 L371.08 296.44 L371.91 297.42 L372.29 298.4 L371.93 299.38 L370.64 300.36 L368.76 301.34 L366.68 302.32 L364.7 303.3 L362.42 304.28 L359.86 305.26 L357.26 306.24 L354.87 307.22 L352.95 308.2 L351.32 309.18 L349.83 310.16 L348.48 311.14 L347.27 312.12 L346.2 313.1 L345.27 314.08 L344.46 315.06 L343.71 316.04 L342.97 317.02 L342.3 318 L341.3 318Z" class="vf"/>
<circle cx="351.6" cy="294.8" r="4.6" class="md"/>
<path d="M408.4 221.5 L409.4 221.5 L409.47 222.51 L409.62 223.53 L409.76 224.54 L409.93 225.56 L410.12 226.57 L410.38 227.59 L410.77 228.6 L411.51 229.62 L412.53 230.63 L413.71 231.65 L414.93 232.66 L416.07 233.68 L417.09 234.69 L418.08 235.71 L419.07 236.72 L420.08 237.74 L421.1 238.75 L422.16 239.77 L423.23 240.78 L424.32 241.8 L425.42 242.81 L426.55 243.83 L427.72 244.84 L428.94 245.86 L430.24 246.88 L431.81 247.89 L433.81 248.9 L435.9 249.92 L437.74 250.94 L439.02 251.95 L439.39 252.96 L438.93 253.98 L437.91 255 L436.51 256.01 L434.93 257.02 L433.34 258.04 L431.41 259.06 L429 260.07 L426.43 261.08 L424.07 262.1 L422.22 263.12 L420.74 264.13 L419.37 265.14 L418.11 266.16 L416.97 267.17 L415.94 268.19 L415.03 269.2 L414.24 270.22 L413.51 271.24 L412.83 272.25 L412.2 273.26 L411.64 274.28 L411.15 275.29 L410.74 276.31 L410.4 277.32 L410.13 278.34 L409.91 279.35 L409.71 280.37 L409.51 281.38 L409.4 282.4 L408.4 282.4Z" class="vf"/>
<circle cx="418.7" cy="252.8" r="4.6" class="md"/>
<path d="M475.6 212.3 L476.6 212.3 L476.6 213.69 L476.6 215.07 L476.6 216.46 L476.6 217.84 L476.6 219.23 L476.6 220.61 L476.63 222 L476.66 223.38 L476.69 224.77 L476.76 226.15 L476.89 227.53 L477.08 228.92 L477.33 230.31 L477.63 231.69 L478.1 233.07 L478.93 234.46 L479.97 235.84 L481.05 237.23 L482.02 238.62 L482.95 240 L483.9 241.38 L484.89 242.77 L485.96 244.16 L487.11 245.54 L488.32 246.93 L489.62 248.31 L491.02 249.69 L492.53 251.08 L494.2 252.47 L496.32 253.85 L498.68 255.23 L500.89 256.62 L502.6 258 L503.97 259.39 L505.25 260.77 L506.21 262.16 L506.6 263.55 L506.24 264.93 L505.28 266.31 L503.95 267.7 L502.5 269.08 L501.15 270.47 L499.73 271.85 L498.17 273.24 L496.52 274.62 L494.82 276.01 L493.1 277.39 L491.25 278.78 L489.32 280.16 L487.42 281.55 L485.68 282.94 L484.06 284.32 L482.51 285.7 L481.17 287.09 L480.13 288.47 L479.28 289.86 L478.55 291.25 L477.87 292.63 L477.21 294.01 L476.6 295.4 L475.6 295.4Z" class="vf"/>
<circle cx="485.9" cy="261.6" r="4.6" class="md"/>
<path d="M542.6 226.4 L543.6 226.4 L543.6 227.77 L543.64 229.13 L543.7 230.5 L543.76 231.86 L543.83 233.22 L543.91 234.59 L544.01 235.96 L544.13 237.32 L544.3 238.69 L544.63 240.05 L545.1 241.42 L545.68 242.78 L546.33 244.15 L547.06 245.51 L548.08 246.88 L549.28 248.24 L550.55 249.61 L551.78 250.97 L552.85 252.34 L553.88 253.7 L554.89 255.06 L555.8 256.43 L556.51 257.8 L557.03 259.16 L557.44 260.53 L557.8 261.89 L558.14 263.25 L558.49 264.62 L558.86 265.99 L559.17 267.35 L559.48 268.72 L559.86 270.08 L560.35 271.44 L561.19 272.81 L562.87 274.18 L565.03 275.54 L567.19 276.91 L568.9 278.27 L570.53 279.63 L572.11 281 L573.25 282.37 L573.58 283.73 L572.68 285.1 L570.8 286.46 L568.38 287.82 L565.91 289.19 L563.75 290.56 L561.52 291.92 L559.16 293.29 L556.77 294.65 L554.45 296.01 L552.3 297.38 L550.41 298.75 L548.6 300.11 L546.87 301.48 L545.46 302.84 L544.61 304.21 L544.16 305.57 L543.83 306.94 L543.6 308.3 L542.6 308.3Z" class="vf"/>
<circle cx="552.9" cy="276" r="4.6" class="md"/>
<path d="M609.8 222.3 L610.8 222.3 L610.8 223.89 L610.8 225.47 L610.8 227.06 L610.8 228.65 L610.8 230.23 L610.83 231.82 L610.86 233.41 L610.9 234.99 L610.98 236.58 L611.14 238.17 L611.36 239.75 L611.64 241.34 L611.98 242.93 L612.35 244.51 L612.91 246.1 L613.82 247.69 L614.98 249.27 L616.3 250.86 L617.69 252.45 L619.04 254.03 L620.27 255.62 L621.51 257.21 L622.77 258.79 L624.05 260.38 L625.35 261.97 L626.64 263.55 L627.91 265.14 L629.22 266.73 L630.56 268.31 L631.9 269.9 L633.21 271.49 L634.44 273.07 L635.57 274.66 L636.67 276.25 L637.84 277.83 L638.98 279.42 L639.94 281.01 L640.59 282.59 L640.79 284.18 L640.24 285.77 L638.98 287.35 L637.29 288.94 L635.43 290.53 L633.68 292.11 L631.87 293.7 L629.83 295.29 L627.71 296.87 L625.64 298.46 L623.75 300.05 L621.97 301.63 L620.22 303.22 L618.57 304.81 L617.07 306.39 L615.81 307.98 L614.78 309.57 L613.87 311.15 L613.06 312.74 L612.29 314.33 L611.51 315.91 L610.8 317.5 L609.8 317.5Z" class="vf"/>
<circle cx="620.1" cy="279.7" r="4.6" class="md"/>
<path d="M676.7 205.7 L677.7 205.7 L677.73 207.57 L677.84 209.44 L677.96 211.3 L678.1 213.17 L678.31 215.04 L678.83 216.91 L679.29 218.78 L678.92 220.65 L678.12 222.51 L677.8 224.38 L677.82 226.25 L677.88 228.12 L677.97 229.99 L678.08 231.86 L678.23 233.72 L678.4 235.59 L678.59 237.46 L678.8 239.33 L679.23 241.2 L679.95 243.07 L680.79 244.94 L681.62 246.8 L682.35 248.67 L683.07 250.54 L683.82 252.41 L684.67 254.28 L685.67 256.14 L686.89 258.01 L688.3 259.88 L689.82 261.75 L691.38 263.62 L693.13 265.49 L695.21 267.36 L697.16 269.22 L698.51 271.09 L699.01 272.96 L699.29 274.83 L699.62 276.7 L700.3 278.56 L701.36 280.43 L702.59 282.3 L703.81 284.17 L705.32 286.04 L706.87 287.91 L707.69 289.77 L706.73 291.64 L703.82 293.51 L699.92 295.38 L696 297.25 L692.96 299.12 L690.38 300.99 L688.01 302.85 L685.93 304.72 L684.02 306.59 L682.38 308.46 L681.13 310.33 L680.13 312.2 L679.27 314.06 L678.46 315.93 L677.7 317.8 L676.7 317.8Z" class="vf"/>
<circle cx="687" cy="280.3" r="4.6" class="md"/>
<path d="M744 209.3 L745 209.3 L745 210.92 L745 212.55 L745 214.17 L745 215.79 L745.01 217.42 L745.03 219.04 L745.07 220.66 L745.11 222.29 L745.17 223.91 L745.26 225.53 L745.38 227.16 L745.53 228.78 L745.73 230.4 L745.97 232.03 L746.37 233.65 L747.45 235.27 L748.98 236.9 L750.64 238.52 L752.12 240.14 L753.39 241.77 L754.61 243.39 L755.83 245.01 L757.09 246.64 L758.43 248.26 L759.89 249.88 L761.56 251.51 L763.45 253.13 L765.41 254.75 L767.31 256.38 L769.19 258 L771.36 259.62 L773.33 261.25 L774.55 262.87 L774.57 264.49 L773.82 266.12 L772.66 267.74 L771.43 269.36 L770.36 270.99 L769.28 272.61 L768.14 274.23 L766.92 275.86 L765.59 277.48 L764.03 279.1 L762.31 280.73 L760.57 282.35 L758.93 283.97 L757.51 285.6 L756.27 287.22 L755.13 288.84 L754.01 290.47 L752.85 292.09 L751.57 293.71 L749.96 295.34 L748.26 296.96 L746.84 298.58 L746.04 300.21 L745.66 301.83 L745.39 303.45 L745.16 305.08 L745 306.7 L744 306.7Z" class="vf"/>
<circle cx="754.3" cy="265.2" r="4.6" class="md"/>
<path d="M811.4 220.4 L812.4 220.4 L812.82 222.03 L813.33 223.65 L813.85 225.28 L814.37 226.91 L814.9 228.53 L815.46 230.16 L816.06 231.79 L816.71 233.41 L817.37 235.04 L818.01 236.67 L818.59 238.29 L819.07 239.92 L819.45 241.55 L819.76 243.17 L820.05 244.8 L820.37 246.43 L820.76 248.05 L821.28 249.68 L822.1 251.31 L823.4 252.93 L824.96 254.56 L826.74 256.19 L828.96 257.81 L831.35 259.44 L833.62 261.07 L836 262.69 L838.35 264.32 L840.14 265.95 L841.23 267.57 L841.88 269.2 L841.55 270.83 L840.44 272.45 L839.09 274.08 L837.88 275.71 L836.42 277.33 L835.01 278.96 L834.11 280.59 L834.01 282.21 L834.09 283.84 L834.23 285.47 L834.41 287.09 L834.98 288.72 L835.78 290.35 L836.2 291.97 L835.63 293.6 L834.14 295.23 L832.15 296.85 L830.07 298.48 L828.3 300.11 L826.82 301.73 L825.39 303.36 L823.97 304.99 L822.54 306.61 L821.08 308.24 L819.55 309.87 L817.87 311.49 L816.21 313.12 L814.77 314.75 L813.52 316.37 L812.4 318 L811.4 318Z" class="vf"/>
<circle cx="821.7" cy="277" r="4.6" class="md"/>
<path d="M878.5 255.5 L879.5 255.5 L879.56 256.42 L879.71 257.33 L879.85 258.25 L880 259.17 L880.17 260.08 L880.36 261 L880.58 261.92 L880.87 262.83 L881.25 263.75 L881.69 264.67 L882.15 265.58 L882.6 266.5 L883.03 267.42 L883.46 268.33 L883.92 269.25 L884.4 270.17 L884.92 271.08 L885.5 272 L886.17 272.92 L886.95 273.83 L887.79 274.75 L888.68 275.67 L889.59 276.58 L890.49 277.5 L891.41 278.42 L892.35 279.33 L893.32 280.25 L894.33 281.17 L895.39 282.08 L896.5 283 L897.67 283.92 L898.9 284.83 L900.21 285.75 L901.61 286.67 L903.12 287.58 L905.12 288.5 L907.64 289.42 L909.15 290.33 L908.4 291.25 L905.82 292.17 L902.44 293.08 L899.3 294 L897.02 294.92 L894.87 295.83 L892.85 296.75 L891.05 297.67 L889.52 298.58 L888.24 299.5 L887.07 300.42 L886.02 301.33 L885.07 302.25 L884.21 303.17 L883.43 304.08 L882.74 305 L882.12 305.92 L881.55 306.83 L881.01 307.75 L880.49 308.67 L879.96 309.58 L879.5 310.5 L878.5 310.5Z" class="vf"/>
<circle cx="888.8" cy="287.5" r="4.6" class="md"/>
<path d="M945.3 228.3 L946.3 228.3 L946.83 229.47 L947.46 230.64 L948.09 231.81 L948.73 232.99 L949.39 234.16 L950.21 235.33 L951.15 236.5 L952.06 237.67 L952.79 238.84 L953.17 240.02 L953.18 241.19 L953.11 242.36 L953.01 243.53 L952.9 244.7 L952.82 245.88 L952.81 247.05 L953.03 248.22 L953.48 249.39 L954.07 250.56 L954.81 251.73 L956.02 252.91 L957.49 254.08 L959 255.25 L960.41 256.42 L961.88 257.59 L963.39 258.76 L964.91 259.94 L966.44 261.11 L967.96 262.28 L969.48 263.45 L971.03 264.62 L972.61 265.79 L974.44 266.97 L976.21 268.14 L976.11 269.31 L975.42 270.48 L974.46 271.65 L973.44 272.82 L972.45 274 L971.31 275.17 L970.05 276.34 L968.68 277.51 L967.09 278.68 L965.36 279.85 L963.64 281.03 L962.05 282.2 L960.57 283.37 L959.14 284.54 L957.75 285.71 L956.38 286.88 L955 288.06 L953.52 289.23 L952.02 290.4 L950.64 291.57 L949.5 292.74 L948.67 293.91 L947.98 295.09 L947.38 296.26 L946.81 297.43 L946.3 298.6 L945.3 298.6Z" class="vf"/>
<circle cx="955.6" cy="266.3" r="4.6" class="md"/>
<path d="M1012.6 201.3 L1013.6 201.3 L1013.74 202.97 L1014 204.63 L1014.25 206.3 L1014.48 207.97 L1014.67 209.63 L1014.81 211.3 L1014.96 212.97 L1015.08 214.63 L1015.17 216.3 L1015.2 217.97 L1015.09 219.63 L1014.83 221.3 L1014.52 222.97 L1014.28 224.63 L1014.2 226.3 L1014.2 227.97 L1014.2 229.63 L1014.2 231.3 L1014.2 232.97 L1014.32 234.63 L1015.31 236.3 L1016.75 237.97 L1018.07 239.63 L1019.38 241.3 L1020.77 242.97 L1022.24 244.63 L1023.83 246.3 L1025.52 247.97 L1027.23 249.63 L1028.88 251.3 L1030.49 252.97 L1032.17 254.63 L1034.03 256.3 L1036.15 257.97 L1038.2 259.63 L1040.15 261.3 L1042.15 262.97 L1043.4 264.63 L1043.33 266.3 L1042.58 267.97 L1041.51 269.63 L1040.41 271.3 L1039.24 272.97 L1037.88 274.63 L1036.32 276.3 L1034.45 277.97 L1032.05 279.63 L1029.56 281.3 L1027.34 282.97 L1025.19 284.63 L1023.19 286.3 L1021.44 287.97 L1019.88 289.63 L1018.46 291.3 L1017.23 292.97 L1016.26 294.63 L1015.48 296.3 L1014.8 297.97 L1014.17 299.63 L1013.6 301.3 L1012.6 301.3Z" class="vf"/>
<circle cx="1022.9" cy="262.5" r="4.6" class="md"/>
<path d="M1079.3 215 L1080.3 215 L1080.3 216.16 L1080.3 217.31 L1080.36 218.47 L1080.56 219.63 L1081.29 220.78 L1082.31 221.94 L1083.3 223.1 L1084.19 224.25 L1085.11 225.41 L1086.07 226.57 L1087.06 227.72 L1088.08 228.88 L1089.15 230.04 L1090.24 231.19 L1091.37 232.35 L1092.51 233.51 L1093.67 234.66 L1094.84 235.82 L1096.05 236.98 L1097.27 238.13 L1098.52 239.29 L1099.8 240.45 L1101.17 241.6 L1102.59 242.76 L1104 243.92 L1105.33 245.07 L1106.53 246.23 L1107.83 247.39 L1109.13 248.54 L1110.2 249.7 L1110.76 250.86 L1110.53 252.01 L1109.39 253.17 L1107.66 254.33 L1105.68 255.48 L1103.81 256.64 L1102.2 257.8 L1100.52 258.95 L1098.8 260.11 L1097.09 261.27 L1095.45 262.42 L1093.93 263.58 L1092.56 264.74 L1091.23 265.89 L1089.98 267.05 L1088.82 268.21 L1087.8 269.36 L1086.93 270.52 L1086.15 271.68 L1085.45 272.83 L1084.81 273.99 L1084.21 275.15 L1083.64 276.3 L1083.08 277.46 L1082.56 278.62 L1082.07 279.77 L1081.6 280.93 L1081.14 282.09 L1080.67 283.24 L1080.3 284.4 L1079.3 284.4Z" class="vf"/>
<circle cx="1089.6" cy="249.9" r="4.6" class="md"/>
<path d="M1146.5 220.4 L1147.5 220.4 L1147.5 221.48 L1147.59 222.56 L1147.68 223.64 L1147.78 224.71 L1147.87 225.79 L1147.98 226.87 L1148.09 227.95 L1148.2 229.03 L1148.3 230.11 L1148.41 231.18 L1148.54 232.26 L1148.71 233.34 L1148.94 234.42 L1149.46 235.5 L1151.2 236.58 L1153.09 237.65 L1154.18 238.73 L1155.11 239.81 L1155.87 240.89 L1156.37 241.97 L1156.57 243.05 L1156.66 244.12 L1156.73 245.2 L1156.83 246.28 L1156.94 247.36 L1157.09 248.44 L1157.37 249.52 L1158.04 250.59 L1159.08 251.67 L1160.4 252.75 L1161.93 253.83 L1163.58 254.91 L1165.38 255.99 L1167.93 257.06 L1170.68 258.14 L1172.9 259.22 L1174.96 260.3 L1176.72 261.38 L1177.5 262.46 L1176.88 263.53 L1175.23 264.61 L1173.07 265.69 L1170.91 266.77 L1168.92 267.85 L1166.7 268.93 L1164.44 270 L1162.37 271.08 L1160.65 272.16 L1159.12 273.24 L1157.72 274.32 L1156.4 275.4 L1155.12 276.47 L1153.83 277.55 L1152.48 278.63 L1151.15 279.71 L1149.94 280.79 L1148.97 281.87 L1148.3 282.94 L1147.84 284.02 L1147.5 285.1 L1146.5 285.1Z" class="vf"/>
<circle cx="1156.8" cy="260" r="4.6" class="md"/>
<path d="M1213.6 211.3 L1214.6 211.3 L1215.01 212.09 L1215.5 212.88 L1215.98 213.67 L1216.49 214.46 L1217.03 215.25 L1217.63 216.04 L1218.3 216.83 L1219.05 217.62 L1219.85 218.41 L1220.68 219.2 L1221.52 219.99 L1222.37 220.78 L1223.2 221.57 L1224.02 222.36 L1224.85 223.15 L1225.7 223.94 L1226.58 224.73 L1227.5 225.52 L1228.48 226.31 L1229.53 227.1 L1230.64 227.89 L1231.82 228.68 L1233.05 229.47 L1234.34 230.26 L1235.69 231.05 L1237.38 231.84 L1239.43 232.63 L1241.5 233.42 L1243.26 234.21 L1244.38 235 L1244.58 235.79 L1244.31 236.58 L1243.82 237.37 L1243.17 238.16 L1242.47 238.95 L1241.8 239.74 L1241.21 240.53 L1240.66 241.32 L1240.09 242.11 L1239.47 242.9 L1238.74 243.69 L1237.87 244.48 L1236.67 245.27 L1234.84 246.06 L1232.57 246.85 L1230.08 247.64 L1227.61 248.43 L1225.37 249.22 L1223.58 250.01 L1222.13 250.8 L1220.77 251.59 L1219.55 252.38 L1218.49 253.17 L1217.64 253.96 L1216.96 254.75 L1216.4 255.54 L1215.91 256.33 L1215.45 257.12 L1214.99 257.91 L1214.6 258.7 L1213.6 258.7Z" class="vf"/>
<circle cx="1223.9" cy="236.8" r="4.6" class="md"/>
<path d="M1280.8 201.3 L1281.9 201.3 L1282.07 202.3 L1282.24 203.3 L1282.4 204.31 L1282.56 205.31 L1282.73 206.31 L1282.9 207.31 L1283.08 208.31 L1283.27 209.31 L1283.47 210.31 L1283.7 211.32 L1283.96 212.32 L1284.23 213.32 L1284.48 214.32 L1284.69 215.32 L1284.84 216.33 L1284.94 217.33 L1285.01 218.33 L1285.08 219.33 L1285.19 220.33 L1285.4 221.33 L1286.14 222.34 L1287.31 223.34 L1288.63 224.34 L1289.84 225.34 L1290.85 226.34 L1291.79 227.34 L1292.77 228.34 L1293.89 229.35 L1295.25 230.35 L1297.17 231.35 L1300.08 232.35 L1303.15 233.35 L1305.61 234.35 L1308.03 235.36 L1310.17 236.36 L1311.4 237.36 L1311.36 238.36 L1310.69 239.36 L1309.67 240.36 L1308.51 241.37 L1307.39 242.37 L1306.12 243.37 L1304.69 244.37 L1303.13 245.37 L1301.5 246.38 L1299.8 247.38 L1297.92 248.38 L1295.97 249.38 L1294.08 250.38 L1292.12 251.38 L1290.24 252.38 L1288.68 253.39 L1287.42 254.39 L1286.31 255.39 L1285.34 256.39 L1284.47 257.39 L1283.72 258.39 L1283.04 259.4 L1282.38 260.4 L1281.8 261.4 L1280.8 261.4Z" class="vf"/>
<circle cx="1291.1" cy="237.1" r="4.6" class="md"/>
<path d="M1348.3 207.5 L1349.3 207.5 L1349.3 208.64 L1349.3 209.78 L1349.3 210.93 L1349.3 212.07 L1349.33 213.21 L1349.37 214.35 L1349.43 215.49 L1349.56 216.63 L1349.74 217.78 L1349.97 218.92 L1350.2 220.06 L1350.44 221.2 L1350.68 222.34 L1351.06 223.48 L1351.83 224.62 L1352.9 225.77 L1354.09 226.91 L1355.21 228.05 L1356.08 229.19 L1356.59 230.33 L1356.93 231.47 L1357.2 232.62 L1357.47 233.76 L1357.82 234.9 L1358.32 236.04 L1359.38 237.18 L1361.02 238.32 L1362.88 239.47 L1364.59 240.61 L1366.24 241.75 L1367.94 242.89 L1369.62 244.03 L1371.22 245.18 L1372.71 246.32 L1374.36 247.46 L1376.05 248.6 L1377.51 249.74 L1378.47 250.88 L1378.63 252.03 L1377.51 253.17 L1375.38 254.31 L1372.76 255.45 L1370.17 256.59 L1368.1 257.73 L1366.43 258.88 L1364.86 260.02 L1363.37 261.16 L1361.93 262.3 L1360.55 263.44 L1359.23 264.58 L1357.94 265.73 L1356.66 266.87 L1355.34 268.01 L1354.06 269.15 L1352.91 270.29 L1351.97 271.43 L1351.2 272.57 L1350.52 273.72 L1349.87 274.86 L1349.3 276 L1348.3 276Z" class="vf"/>
<circle cx="1358.6" cy="248.1" r="4.6" class="md"/>
<path d="M1415.4 214.3 L1416.4 214.3 L1416.52 215.24 L1416.72 216.18 L1416.93 217.12 L1417.18 218.05 L1417.5 218.99 L1417.99 219.93 L1418.69 220.87 L1419.46 221.81 L1420.17 222.75 L1420.76 223.68 L1421.33 224.62 L1421.86 225.56 L1422.26 226.5 L1422.48 227.44 L1422.59 228.38 L1422.67 229.31 L1422.8 230.25 L1423.18 231.19 L1424.38 232.13 L1426.02 233.07 L1427.55 234.01 L1428.98 234.94 L1430.45 235.88 L1431.96 236.82 L1433.46 237.76 L1434.93 238.7 L1436.33 239.64 L1437.64 240.57 L1439.03 241.51 L1440.51 242.45 L1442.01 243.39 L1443.42 244.33 L1444.66 245.27 L1445.63 246.2 L1446.24 247.14 L1446.38 248.08 L1445.81 249.02 L1444.56 249.96 L1442.79 250.9 L1440.68 251.83 L1438.39 252.77 L1436.12 253.71 L1434.01 254.65 L1432.25 255.59 L1430.7 256.53 L1429.18 257.46 L1427.72 258.4 L1426.33 259.34 L1425.02 260.28 L1423.74 261.22 L1422.5 262.16 L1421.39 263.09 L1420.46 264.03 L1419.71 264.97 L1419.05 265.91 L1418.46 266.85 L1417.92 267.79 L1417.4 268.72 L1416.87 269.66 L1416.4 270.6 L1415.4 270.6Z" class="vf"/>
<circle cx="1425.7" cy="244.7" r="4.6" class="md"/>
<path d="M1482.6 217.5 L1483.6 217.5 L1483.67 218.38 L1483.82 219.27 L1483.97 220.16 L1484.14 221.04 L1484.34 221.93 L1484.6 222.81 L1484.99 223.69 L1485.67 224.58 L1486.57 225.47 L1487.61 226.35 L1488.69 227.24 L1489.74 228.12 L1490.87 229 L1492.1 229.89 L1493.33 230.78 L1494.44 231.66 L1495.4 232.55 L1496.27 233.43 L1497.07 234.31 L1497.84 235.2 L1498.58 236.09 L1499.33 236.97 L1500.09 237.86 L1500.9 238.74 L1501.77 239.62 L1502.73 240.51 L1503.93 241.4 L1505.38 242.28 L1506.99 243.17 L1508.65 244.05 L1510.24 244.94 L1511.67 245.82 L1512.83 246.71 L1513.61 247.59 L1513.9 248.48 L1513.43 249.36 L1512.11 250.25 L1510.15 251.13 L1507.78 252.02 L1505.21 252.9 L1502.66 253.79 L1500.35 254.67 L1498.5 255.56 L1496.94 256.44 L1495.45 257.33 L1494.05 258.21 L1492.76 259.1 L1491.62 259.98 L1490.61 260.87 L1489.68 261.75 L1488.84 262.63 L1488.07 263.52 L1487.37 264.41 L1486.73 265.29 L1486.15 266.18 L1485.6 267.06 L1485.08 267.95 L1484.56 268.83 L1484.04 269.72 L1483.6 270.6 L1482.6 270.6Z" class="vf"/>
<circle cx="1492.9" cy="245.2" r="4.6" class="md"/>
<path d="M1549.3 217.2 L1550.3 217.2 L1550.65 218.09 L1551.11 218.98 L1551.57 219.87 L1552.02 220.76 L1552.48 221.65 L1552.93 222.54 L1553.38 223.43 L1553.82 224.32 L1554.26 225.21 L1554.67 226.1 L1555.05 226.99 L1555.41 227.88 L1555.78 228.77 L1556.17 229.66 L1556.6 230.55 L1557.08 231.44 L1557.65 232.33 L1558.33 233.22 L1559.1 234.11 L1559.94 235 L1560.85 235.89 L1561.78 236.78 L1562.73 237.67 L1563.69 238.56 L1564.68 239.45 L1565.72 240.34 L1566.81 241.23 L1567.92 242.12 L1569.07 243.01 L1570.24 243.9 L1571.42 244.79 L1572.83 245.68 L1574.47 246.57 L1576.2 247.46 L1577.86 248.35 L1579.28 249.24 L1580.31 250.13 L1580.79 251.02 L1580.13 251.91 L1577.8 252.8 L1574.55 253.69 L1571.15 254.58 L1568.37 255.47 L1566.23 256.36 L1564.12 257.25 L1562.09 258.14 L1560.18 259.03 L1558.43 259.92 L1556.88 260.81 L1555.56 261.7 L1554.44 262.59 L1553.41 263.48 L1552.51 264.37 L1551.8 265.26 L1551.34 266.15 L1551.03 267.04 L1550.8 267.93 L1550.6 268.82 L1550.41 269.71 L1550.3 270.6 L1549.3 270.6Z" class="vf"/>
<circle cx="1559.6" cy="246.6" r="4.6" class="md"/>
<path d="M1616.5 206.4 L1617.6 206.4 L1617.82 207.68 L1618.04 208.95 L1618.26 210.23 L1618.48 211.51 L1618.7 212.78 L1618.93 214.06 L1619.17 215.34 L1619.47 216.61 L1619.8 217.89 L1620.13 219.17 L1620.37 220.44 L1620.5 221.72 L1620.5 223 L1620.5 224.27 L1620.5 225.55 L1620.5 226.83 L1620.61 228.1 L1621.31 229.38 L1622.51 230.66 L1624.01 231.93 L1625.63 233.21 L1627.31 234.49 L1629.54 235.76 L1632.17 237.04 L1634.85 238.32 L1637.26 239.59 L1639.15 240.87 L1640.96 242.15 L1642.78 243.42 L1644.45 244.7 L1645.88 245.98 L1646.92 247.25 L1647.46 248.53 L1647.41 249.81 L1646.96 251.08 L1646.19 252.36 L1645.18 253.64 L1644.03 254.91 L1642.82 256.19 L1641.62 257.47 L1640.35 258.74 L1638.84 260.02 L1637.17 261.3 L1635.4 262.57 L1633.63 263.85 L1631.93 265.13 L1630.38 266.4 L1628.89 267.68 L1627.39 268.96 L1625.91 270.23 L1624.51 271.51 L1623.23 272.79 L1622.12 274.06 L1621.21 275.34 L1620.45 276.62 L1619.78 277.89 L1619.17 279.17 L1618.6 280.45 L1618.02 281.72 L1617.5 283 L1616.5 283Z" class="vf"/>
<circle cx="1626.8" cy="249.9" r="4.6" class="md"/>
<circle cx="1529.4" cy="101.3" r="5.4" class="md"/>
<path d="M1530 128.8l4.7 4.7-4.7 4.7-4.7-4.7z" fill="#333"/>
<text transform="translate(1560.8,108.6) scale(1,1.0)" font-size="28.5" text-anchor="start" font-family='"Liberation Sans", Arial, sans-serif'>mean</text>
<text transform="translate(1560.8,141.8) scale(1,1.0)" font-size="28.5" text-anchor="start" font-family='"Liberation Sans", Arial, sans-serif'>date</text>
<rect x="105.5" y="521" width="438.2" height="307.7" fill="none" stroke="#3c3c3c" stroke-width="1.2"/>
<path d="M193.14 828.7V823.7M193.14 521V526M280.78 828.7V823.7M280.78 521V526M368.42 828.7V823.7M368.42 521V526M456.06 828.7V823.7M456.06 521V526M105.5 767.16H110.5M543.7 767.16H538.7M105.5 705.62H110.5M543.7 705.62H538.7M105.5 644.08H110.5M543.7 644.08H538.7M105.5 582.54H110.5M543.7 582.54H538.7" stroke="#3c3c3c" stroke-width="1.2" fill="none"/>
<text transform="translate(94.3,839.1) scale(1,1.04)" font-size="27" text-anchor="end" font-family='"Liberation Sans", Arial, sans-serif'>0</text>
<text transform="translate(97.1,777.4) scale(1,1.04)" font-size="27" text-anchor="end" font-family='"Liberation Sans", Arial, sans-serif'>0.2</text>
<text transform="translate(97.1,715.3) scale(1,1.04)" font-size="27" text-anchor="end" font-family='"Liberation Sans", Arial, sans-serif'>0.4</text>
<text transform="translate(97.1,655.9) scale(1,1.04)" font-size="27" text-anchor="end" font-family='"Liberation Sans", Arial, sans-serif'>0.6</text>
<text transform="translate(97.1,594.4) scale(1,1.04)" font-size="27" text-anchor="end" font-family='"Liberation Sans", Arial, sans-serif'>0.8</text>
<text transform="translate(92,534.4) scale(1,1.04)" font-size="27" text-anchor="end" font-family='"Liberation Sans", Arial, sans-serif'>1</text>
<text transform="translate(105.5,859.7) scale(1,1.04)" font-size="27" text-anchor="middle" font-family='"Liberation Sans", Arial, sans-serif'>0</text>
<text transform="translate(193.14,859.7) scale(1,1.04)" font-size="27" text-anchor="middle" font-family='"Liberation Sans", Arial, sans-serif'>0.2</text>
<text transform="translate(280.78,859.7) scale(1,1.04)" font-size="27" text-anchor="middle" font-family='"Liberation Sans", Arial, sans-serif'>0.4</text>
<text transform="translate(368.42,859.7) scale(1,1.04)" font-size="27" text-anchor="middle" font-family='"Liberation Sans", Arial, sans-serif'>0.6</text>
<text transform="translate(456.06,859.7) scale(1,1.04)" font-size="27" text-anchor="middle" font-family='"Liberation Sans", Arial, sans-serif'>0.8</text>
<text transform="translate(543.7,859.7) scale(1,1.04)" font-size="27" text-anchor="middle" font-family='"Liberation Sans", Arial, sans-serif'>1</text>
<path d="M105.5 828.7 L106.6 825.77 L107.69 822.77 L108.79 819.75 L109.88 816.73 L110.98 813.78 L112.07 810.91 L113.17 808.18 L114.26 805.62 L115.91 802.01 L117.55 798.54 L119.19 795.22 L120.84 792.02 L122.48 788.95 L124.12 785.99 L125.77 783.14 L127.41 780.39 L130.15 775.95 L132.89 771.66 L135.63 767.51 L138.37 763.54 L141.1 759.74 L143.84 756.15 L146.58 752.77 L149.32 749.62 L152.06 746.67 L154.8 743.85 L157.54 741.18 L160.28 738.64 L163.01 736.22 L165.75 733.91 L168.49 731.71 L171.23 729.62 L173.97 727.61 L176.71 725.69 L179.45 723.84 L182.19 722.06 L184.92 720.37 L187.66 718.76 L190.4 717.23 L193.14 715.77 L195.88 714.37 L198.62 713 L201.36 711.67 L204.1 710.4 L206.83 709.21 L209.57 708.11 L212.31 707.11 L215.05 706.24 L217.79 705.45 L220.53 704.73 L223.27 704.06 L226.01 703.44 L228.74 702.85 L231.48 702.31 L234.22 701.8 L236.96 701.31 L239.7 700.84 L242.44 700.37 L245.18 699.91 L247.92 699.48 L250.65 699.08 L253.39 698.74 L256.13 698.45 L258.87 698.24 L261.61 698.07 L264.35 697.93 L267.09 697.8 L269.83 697.69 L272.56 697.59 L275.3 697.49 L278.04 697.4 L280.78 697.31 L283.52 697.21 L286.26 697.11 L289 697.01 L291.74 696.91 L294.47 696.83 L297.21 696.76 L299.95 696.71 L302.69 696.7 L305.43 696.74 L308.17 696.85 L310.91 697.02 L313.64 697.23 L316.38 697.47 L319.12 697.73 L321.86 697.99 L324.6 698.24 L327.34 698.49 L330.08 698.77 L332.82 699.08 L335.56 699.39 L338.29 699.72 L341.03 700.05 L343.77 700.38 L346.51 700.7 L349.25 701 L351.99 701.3 L354.73 701.6 L357.47 701.89 L360.2 702.2 L362.94 702.5 L365.68 702.82 L368.42 703.16 L371.16 703.51 L373.9 703.88 L376.64 704.26 L379.38 704.65 L382.11 705.05 L384.85 705.45 L387.59 705.85 L390.33 706.24 L393.07 706.61 L395.81 706.99 L398.55 707.35 L401.29 707.72 L404.02 708.1 L406.76 708.49 L409.5 708.89 L412.24 709.31 L414.98 709.76 L417.72 710.25 L420.46 710.75 L423.2 711.27 L425.93 711.79 L428.67 712.31 L431.41 712.82 L434.15 713.31 L436.89 713.79 L439.63 714.26 L442.37 714.72 L445.11 715.18 L447.84 715.63 L450.58 716.09 L453.32 716.55 L456.06 717 L458.8 717.46 L461.54 717.91 L464.28 718.35 L467.02 718.8 L469.75 719.25 L472.49 719.72 L475.23 720.2 L477.97 720.7 L480.71 721.23 L483.45 721.8 L486.19 722.4 L488.93 723.01 L491.66 723.61 L494.4 724.21 L497.14 724.78 L499.88 725.31 L502.62 725.81 L505.36 726.29 L508.1 726.74 L510.84 727.19 L513.57 727.63 L516.31 728.08 L519.05 728.54 L521.79 729.01 L524.53 729.49 L527.27 729.98 L530.01 730.48 L532.75 730.99 L535.48 731.49 L538.22 732 L540.96 732.5 L543.7 733.01" fill="none" stroke="#3d7cad" stroke-width="1.3"/>
<path d="M105.5 828.7 L106.6 816.53 L107.69 803.47 L108.79 790.04 L109.88 776.8 L110.98 764.27 L112.07 753 L113.17 743.53 L114.26 736.39 L115.91 728.26 L117.55 721.14 L119.19 714.91 L120.84 709.42 L122.48 704.53 L124.12 700.11 L125.77 696 L127.41 692.08 L130.15 685.66 L132.89 679.41 L135.63 673.49 L138.37 668.04 L141.1 663.21 L143.84 659.14 L146.58 656 L149.32 653.93 L152.06 652.48 L154.8 651.14 L157.54 649.94 L160.28 648.9 L163.01 648.04 L165.75 647.4 L168.49 646.99 L171.23 646.85 L173.97 646.9 L176.71 647.03 L179.45 647.24 L182.19 647.51 L184.92 647.83 L187.66 648.2 L190.4 648.59 L193.14 649 L195.88 649.53 L198.62 650.24 L201.36 651.1 L204.1 652.07 L206.83 653.13 L209.57 654.22 L212.31 655.32 L215.05 656.39 L217.79 657.46 L220.53 658.6 L223.27 659.79 L226.01 661.01 L228.74 662.24 L231.48 663.49 L234.22 664.72 L236.96 665.93 L239.7 667.12 L242.44 668.32 L245.18 669.52 L247.92 670.72 L250.65 671.91 L253.39 673.1 L256.13 674.29 L258.87 675.47 L261.61 676.64 L264.35 677.81 L267.09 678.98 L269.83 680.14 L272.56 681.29 L275.3 682.44 L278.04 683.58 L280.78 684.7 L283.52 685.79 L286.26 686.87 L289 687.92 L291.74 688.97 L294.47 690.02 L297.21 691.09 L299.95 692.18 L302.69 693.31 L305.43 694.49 L308.17 695.71 L310.91 696.97 L313.64 698.24 L316.38 699.5 L319.12 700.76 L321.86 701.98 L324.6 703.16 L327.34 704.3 L330.08 705.42 L332.82 706.52 L335.56 707.6 L338.29 708.67 L341.03 709.72 L343.77 710.75 L346.51 711.77 L349.25 712.78 L351.99 713.77 L354.73 714.75 L357.47 715.71 L360.2 716.67 L362.94 717.61 L365.68 718.54 L368.42 719.47 L371.16 720.38 L373.9 721.29 L376.64 722.19 L379.38 723.08 L382.11 723.96 L384.85 724.83 L387.59 725.69 L390.33 726.54 L393.07 727.39 L395.81 728.22 L398.55 729.05 L401.29 729.87 L404.02 730.68 L406.76 731.47 L409.5 732.25 L412.24 733.01 L414.98 733.74 L417.72 734.44 L420.46 735.13 L423.2 735.81 L425.93 736.48 L428.67 737.16 L431.41 737.84 L434.15 738.54 L436.89 739.27 L439.63 740.02 L442.37 740.77 L445.11 741.53 L447.84 742.28 L450.58 743.02 L453.32 743.72 L456.06 744.39 L458.8 745.02 L461.54 745.62 L464.28 746.2 L467.02 746.77 L469.75 747.32 L472.49 747.88 L475.23 748.44 L477.97 749.01 L480.71 749.58 L483.45 750.16 L486.19 750.74 L488.93 751.31 L491.66 751.89 L494.4 752.47 L497.14 753.04 L499.88 753.62 L502.62 754.2 L505.36 754.79 L508.1 755.38 L510.84 755.97 L513.57 756.55 L516.31 757.13 L519.05 757.69 L521.79 758.24 L524.53 758.76 L527.27 759.28 L530.01 759.78 L532.75 760.27 L535.48 760.76 L538.22 761.25 L540.96 761.74 L543.7 762.24" fill="none" stroke="#7bbf80" stroke-width="1.3"/>
<path d="M105.5 828.7 L106.6 807.14 L107.69 783.36 L108.79 758.69 L109.88 734.46 L110.98 712.02 L112.07 692.68 L113.17 677.8 L114.26 668.7 L115.91 660.54 L117.55 653.36 L119.19 647.15 L120.84 641.91 L122.48 637.64 L124.12 634.32 L125.77 631.96 L127.41 630.54 L130.15 629.06 L132.89 627.76 L135.63 626.65 L138.37 625.74 L141.1 625.02 L143.84 624.5 L146.58 624.19 L149.32 624.08 L152.06 624.5 L154.8 625.67 L157.54 627.42 L160.28 629.6 L163.01 632.05 L165.75 634.61 L168.49 637.14 L171.23 639.46 L173.97 641.73 L176.71 644.16 L179.45 646.7 L182.19 649.3 L184.92 651.93 L187.66 654.53 L190.4 657.05 L193.14 659.47 L195.88 661.78 L198.62 664.06 L201.36 666.3 L204.1 668.5 L206.83 670.67 L209.57 672.81 L212.31 674.92 L215.05 677 L217.79 679.06 L220.53 681.1 L223.27 683.12 L226.01 685.1 L228.74 687.06 L231.48 688.98 L234.22 690.86 L236.96 692.7 L239.7 694.5 L242.44 696.27 L245.18 698.01 L247.92 699.71 L250.65 701.39 L253.39 703.04 L256.13 704.65 L258.87 706.24 L261.61 707.79 L264.35 709.32 L267.09 710.82 L269.83 712.29 L272.56 713.74 L275.3 715.16 L278.04 716.56 L280.78 717.93 L283.52 719.28 L286.26 720.61 L289 721.93 L291.74 723.22 L294.47 724.49 L297.21 725.72 L299.95 726.92 L302.69 728.08 L305.43 729.2 L308.17 730.28 L310.91 731.33 L313.64 732.36 L316.38 733.37 L319.12 734.37 L321.86 735.38 L324.6 736.39 L327.34 737.42 L330.08 738.46 L332.82 739.5 L335.56 740.54 L338.29 741.56 L341.03 742.54 L343.77 743.49 L346.51 744.39 L349.25 745.24 L351.99 746.04 L354.73 746.82 L357.47 747.57 L360.2 748.31 L362.94 749.04 L365.68 749.79 L368.42 750.54 L371.16 751.32 L373.9 752.1 L376.64 752.88 L379.38 753.66 L382.11 754.44 L384.85 755.21 L387.59 755.96 L390.33 756.7 L393.07 757.42 L395.81 758.14 L398.55 758.85 L401.29 759.54 L404.02 760.23 L406.76 760.91 L409.5 761.58 L412.24 762.24 L414.98 762.89 L417.72 763.53 L420.46 764.17 L423.2 764.8 L425.93 765.41 L428.67 766.01 L431.41 766.6 L434.15 767.16 L436.89 767.7 L439.63 768.23 L442.37 768.73 L445.11 769.23 L447.84 769.72 L450.58 770.2 L453.32 770.68 L456.06 771.16 L458.8 771.64 L461.54 772.13 L464.28 772.61 L467.02 773.09 L469.75 773.56 L472.49 774.01 L475.23 774.44 L477.97 774.85 L480.71 775.23 L483.45 775.59 L486.19 775.94 L488.93 776.27 L491.66 776.6 L494.4 776.93 L497.14 777.27 L499.88 777.62 L502.62 778 L505.36 778.39 L508.1 778.8 L510.84 779.21 L513.57 779.61 L516.31 780 L519.05 780.36 L521.79 780.7 L524.53 781 L527.27 781.29 L530.01 781.56 L532.75 781.82 L535.48 782.08 L538.22 782.33 L540.96 782.59 L543.7 782.85" fill="none" stroke="#f2b86f" stroke-width="1.3"/>
<path d="M105.5 828.7 L106.6 802.8 L107.69 773.96 L108.79 743.96 L109.88 714.53 L110.98 687.46 L112.07 664.49 L113.17 647.39 L114.26 637.93 L115.91 630.73 L117.55 624.38 L119.19 618.89 L120.84 614.33 L122.48 610.71 L124.12 608.08 L125.77 606.47 L127.41 605.93 L130.15 606.67 L132.89 608.72 L135.63 611.79 L138.37 615.57 L141.1 619.78 L143.84 624.13 L146.58 628.33 L149.32 632.08 L152.06 635.6 L154.8 639.24 L157.54 642.97 L160.28 646.72 L163.01 650.45 L165.75 654.11 L168.49 657.64 L171.23 661 L173.97 664.22 L176.71 667.36 L179.45 670.43 L182.19 673.42 L184.92 676.34 L187.66 679.19 L190.4 681.98 L193.14 684.7 L195.88 687.37 L198.62 690 L201.36 692.58 L204.1 695.1 L206.83 697.55 L209.57 699.92 L212.31 702.2 L215.05 704.39 L217.79 706.49 L220.53 708.52 L223.27 710.49 L226.01 712.39 L228.74 714.24 L231.48 716.03 L234.22 717.77 L236.96 719.47 L239.7 721.11 L242.44 722.69 L245.18 724.22 L247.92 725.72 L250.65 727.18 L253.39 728.62 L256.13 730.05 L258.87 731.47 L261.61 732.88 L264.35 734.29 L267.09 735.68 L269.83 737.05 L272.56 738.4 L275.3 739.71 L278.04 740.99 L280.78 742.24 L283.52 743.44 L286.26 744.61 L289 745.75 L291.74 746.86 L294.47 747.96 L297.21 749.04 L299.95 750.1 L302.69 751.16 L305.43 752.22 L308.17 753.27 L310.91 754.32 L313.64 755.34 L316.38 756.35 L319.12 757.33 L321.86 758.27 L324.6 759.16 L327.34 760.01 L330.08 760.83 L332.82 761.61 L335.56 762.38 L338.29 763.12 L341.03 763.86 L343.77 764.59 L346.51 765.31 L349.25 766.05 L351.99 766.78 L354.73 767.51 L357.47 768.23 L360.2 768.93 L362.94 769.61 L365.68 770.25 L368.42 770.85 L371.16 771.41 L373.9 771.92 L376.64 772.41 L379.38 772.88 L382.11 773.35 L384.85 773.82 L387.59 774.32 L390.33 774.85 L393.07 775.43 L395.81 776.06 L398.55 776.72 L401.29 777.39 L404.02 778.05 L406.76 778.68 L409.5 779.26 L412.24 779.78 L414.98 780.23 L417.72 780.64 L420.46 781.03 L423.2 781.4 L425.93 781.76 L428.67 782.12 L431.41 782.48 L434.15 782.85 L436.89 783.24 L439.63 783.62 L442.37 783.99 L445.11 784.37 L447.84 784.75 L450.58 785.14 L453.32 785.53 L456.06 785.93 L458.8 786.35 L461.54 786.81 L464.28 787.29 L467.02 787.76 L469.75 788.22 L472.49 788.64 L475.23 789.01 L477.97 789.31 L480.71 789.56 L483.45 789.78 L486.19 789.98 L488.93 790.16 L491.66 790.33 L494.4 790.5 L497.14 790.67 L499.88 790.85 L502.62 791.04 L505.36 791.23 L508.1 791.41 L510.84 791.59 L513.57 791.78 L516.31 791.97 L519.05 792.17 L521.79 792.39 L524.53 792.63 L527.27 792.88 L530.01 793.15 L532.75 793.42 L535.48 793.71 L538.22 793.99 L540.96 794.27 L543.7 794.55" fill="none" stroke="#c44b40" stroke-width="1.3"/>
<g fill="none" stroke="#3d7cad" stroke-width="1.3"><circle cx="105.5" cy="828.7" r="6.3"/><path d="M99.5 828.1H111.5M99.5 829.3H111.5"/><circle cx="127.41" cy="780.39" r="6.3"/><path d="M121.41 779.79H133.41M121.41 780.99H133.41"/><circle cx="149.32" cy="749.62" r="6.3"/><path d="M143.32 749.02H155.32M143.32 750.22H155.32"/><circle cx="171.23" cy="729.62" r="6.3"/><path d="M165.23 729.02H177.23M165.23 730.22H177.23"/><circle cx="193.14" cy="715.77" r="6.3"/><path d="M187.14 715.17H199.14M187.14 716.37H199.14"/><circle cx="215.05" cy="706.24" r="6.3"/><path d="M209.05 705.64H221.05M209.05 706.84H221.05"/><circle cx="236.96" cy="701.31" r="6.3"/><path d="M230.96 700.71H242.96M230.96 701.91H242.96"/><circle cx="258.87" cy="698.24" r="6.3"/><path d="M252.87 697.64H264.87M252.87 698.84H264.87"/><circle cx="280.78" cy="697.31" r="6.3"/><path d="M274.78 696.71H286.78M274.78 697.91H286.78"/><circle cx="302.69" cy="696.7" r="6.3"/><path d="M296.69 696.1H308.69M296.69 697.3H308.69"/><circle cx="324.6" cy="698.24" r="6.3"/><path d="M318.6 697.64H330.6M318.6 698.84H330.6"/><circle cx="346.51" cy="700.7" r="6.3"/><path d="M340.51 700.1H352.51M340.51 701.3H352.51"/><circle cx="368.42" cy="703.16" r="6.3"/><path d="M362.42 702.56H374.42M362.42 703.76H374.42"/><circle cx="390.33" cy="706.24" r="6.3"/><path d="M384.33 705.64H396.33M384.33 706.84H396.33"/><circle cx="412.24" cy="709.31" r="6.3"/><path d="M406.24 708.71H418.24M406.24 709.91H418.24"/><circle cx="434.15" cy="713.31" r="6.3"/><path d="M428.15 712.71H440.15M428.15 713.91H440.15"/><circle cx="456.06" cy="717" r="6.3"/><path d="M450.06 716.4H462.06M450.06 717.6H462.06"/><circle cx="477.97" cy="720.7" r="6.3"/><path d="M471.97 720.1H483.97M471.97 721.3H483.97"/><circle cx="499.88" cy="725.31" r="6.3"/><path d="M493.88 724.71H505.88M493.88 725.91H505.88"/><circle cx="521.79" cy="729.01" r="6.3"/><path d="M515.79 728.41H527.79M515.79 729.61H527.79"/><circle cx="543.7" cy="733.01" r="6.3"/><path d="M537.7 732.41H549.7M537.7 733.61H549.7"/></g>
<g fill="none" stroke="#7bbf80" stroke-width="1.3"><circle cx="105.5" cy="828.7" r="6.3"/><path d="M99.5 828.1H111.5M99.5 829.3H111.5"/><circle cx="127.41" cy="692.08" r="6.3"/><path d="M121.41 691.48H133.41M121.41 692.68H133.41"/><circle cx="149.32" cy="653.93" r="6.3"/><path d="M143.32 653.33H155.32M143.32 654.53H155.32"/><circle cx="171.23" cy="646.85" r="6.3"/><path d="M165.23 646.25H177.23M165.23 647.45H177.23"/><circle cx="193.14" cy="649" r="6.3"/><path d="M187.14 648.4H199.14M187.14 649.6H199.14"/><circle cx="215.05" cy="656.39" r="6.3"/><path d="M209.05 655.79H221.05M209.05 656.99H221.05"/><circle cx="236.96" cy="665.93" r="6.3"/><path d="M230.96 665.33H242.96M230.96 666.53H242.96"/><circle cx="258.87" cy="675.47" r="6.3"/><path d="M252.87 674.87H264.87M252.87 676.07H264.87"/><circle cx="280.78" cy="684.7" r="6.3"/><path d="M274.78 684.1H286.78M274.78 685.3H286.78"/><circle cx="302.69" cy="693.31" r="6.3"/><path d="M296.69 692.71H308.69M296.69 693.91H308.69"/><circle cx="324.6" cy="703.16" r="6.3"/><path d="M318.6 702.56H330.6M318.6 703.76H330.6"/><circle cx="346.51" cy="711.77" r="6.3"/><path d="M340.51 711.17H352.51M340.51 712.37H352.51"/><circle cx="368.42" cy="719.47" r="6.3"/><path d="M362.42 718.87H374.42M362.42 720.07H374.42"/><circle cx="390.33" cy="726.54" r="6.3"/><path d="M384.33 725.94H396.33M384.33 727.14H396.33"/><circle cx="412.24" cy="733.01" r="6.3"/><path d="M406.24 732.41H418.24M406.24 733.61H418.24"/><circle cx="434.15" cy="738.54" r="6.3"/><path d="M428.15 737.94H440.15M428.15 739.14H440.15"/><circle cx="456.06" cy="744.39" r="6.3"/><path d="M450.06 743.79H462.06M450.06 744.99H462.06"/><circle cx="477.97" cy="749.01" r="6.3"/><path d="M471.97 748.41H483.97M471.97 749.61H483.97"/><circle cx="499.88" cy="753.62" r="6.3"/><path d="M493.88 753.02H505.88M493.88 754.22H505.88"/><circle cx="521.79" cy="758.24" r="6.3"/><path d="M515.79 757.64H527.79M515.79 758.84H527.79"/><circle cx="543.7" cy="762.24" r="6.3"/><path d="M537.7 761.64H549.7M537.7 762.84H549.7"/></g>
<g fill="none" stroke="#f2b86f" stroke-width="1.3"><circle cx="105.5" cy="828.7" r="6.3"/><path d="M99.5 828.1H111.5M99.5 829.3H111.5"/><circle cx="127.41" cy="630.54" r="6.3"/><path d="M121.41 629.94H133.41M121.41 631.14H133.41"/><circle cx="149.32" cy="624.08" r="6.3"/><path d="M143.32 623.48H155.32M143.32 624.68H155.32"/><circle cx="171.23" cy="639.46" r="6.3"/><path d="M165.23 638.86H177.23M165.23 640.06H177.23"/><circle cx="193.14" cy="659.47" r="6.3"/><path d="M187.14 658.87H199.14M187.14 660.07H199.14"/><circle cx="215.05" cy="677" r="6.3"/><path d="M209.05 676.4H221.05M209.05 677.6H221.05"/><circle cx="236.96" cy="692.7" r="6.3"/><path d="M230.96 692.1H242.96M230.96 693.3H242.96"/><circle cx="258.87" cy="706.24" r="6.3"/><path d="M252.87 705.64H264.87M252.87 706.84H264.87"/><circle cx="280.78" cy="717.93" r="6.3"/><path d="M274.78 717.33H286.78M274.78 718.53H286.78"/><circle cx="302.69" cy="728.08" r="6.3"/><path d="M296.69 727.48H308.69M296.69 728.68H308.69"/><circle cx="324.6" cy="736.39" r="6.3"/><path d="M318.6 735.79H330.6M318.6 736.99H330.6"/><circle cx="346.51" cy="744.39" r="6.3"/><path d="M340.51 743.79H352.51M340.51 744.99H352.51"/><circle cx="368.42" cy="750.54" r="6.3"/><path d="M362.42 749.94H374.42M362.42 751.14H374.42"/><circle cx="390.33" cy="756.7" r="6.3"/><path d="M384.33 756.1H396.33M384.33 757.3H396.33"/><circle cx="412.24" cy="762.24" r="6.3"/><path d="M406.24 761.64H418.24M406.24 762.84H418.24"/><circle cx="434.15" cy="767.16" r="6.3"/><path d="M428.15 766.56H440.15M428.15 767.76H440.15"/><circle cx="456.06" cy="771.16" r="6.3"/><path d="M450.06 770.56H462.06M450.06 771.76H462.06"/><circle cx="477.97" cy="774.85" r="6.3"/><path d="M471.97 774.25H483.97M471.97 775.45H483.97"/><circle cx="499.88" cy="777.62" r="6.3"/><path d="M493.88 777.02H505.88M493.88 778.22H505.88"/><circle cx="521.79" cy="780.7" r="6.3"/><path d="M515.79 780.1H527.79M515.79 781.3H527.79"/><circle cx="543.7" cy="782.85" r="6.3"/><path d="M537.7 782.25H549.7M537.7 783.45H549.7"/></g>
<g fill="none" stroke="#c44b40" stroke-width="1.3"><circle cx="105.5" cy="828.7" r="6.3"/><path d="M99.5 828.1H111.5M99.5 829.3H111.5"/><circle cx="127.41" cy="605.93" r="6.3"/><path d="M121.41 605.33H133.41M121.41 606.53H133.41"/><circle cx="149.32" cy="632.08" r="6.3"/><path d="M143.32 631.48H155.32M143.32 632.68H155.32"/><circle cx="171.23" cy="661" r="6.3"/><path d="M165.23 660.4H177.23M165.23 661.6H177.23"/><circle cx="193.14" cy="684.7" r="6.3"/><path d="M187.14 684.1H199.14M187.14 685.3H199.14"/><circle cx="215.05" cy="704.39" r="6.3"/><path d="M209.05 703.79H221.05M209.05 704.99H221.05"/><circle cx="236.96" cy="719.47" r="6.3"/><path d="M230.96 718.87H242.96M230.96 720.07H242.96"/><circle cx="258.87" cy="731.47" r="6.3"/><path d="M252.87 730.87H264.87M252.87 732.07H264.87"/><circle cx="280.78" cy="742.24" r="6.3"/><path d="M274.78 741.64H286.78M274.78 742.84H286.78"/><circle cx="302.69" cy="751.16" r="6.3"/><path d="M296.69 750.56H308.69M296.69 751.76H308.69"/><circle cx="324.6" cy="759.16" r="6.3"/><path d="M318.6 758.56H330.6M318.6 759.76H330.6"/><circle cx="346.51" cy="765.31" r="6.3"/><path d="M340.51 764.71H352.51M340.51 765.91H352.51"/><circle cx="368.42" cy="770.85" r="6.3"/><path d="M362.42 770.25H374.42M362.42 771.45H374.42"/><circle cx="390.33" cy="774.85" r="6.3"/><path d="M384.33 774.25H396.33M384.33 775.45H396.33"/><circle cx="412.24" cy="779.78" r="6.3"/><path d="M406.24 779.18H418.24M406.24 780.38H418.24"/><circle cx="434.15" cy="782.85" r="6.3"/><path d="M428.15 782.25H440.15M428.15 783.45H440.15"/><circle cx="456.06" cy="785.93" r="6.3"/><path d="M450.06 785.33H462.06M450.06 786.53H462.06"/><circle cx="477.97" cy="789.31" r="6.3"/><path d="M471.97 788.71H483.97M471.97 789.91H483.97"/><circle cx="499.88" cy="790.85" r="6.3"/><path d="M493.88 790.25H505.88M493.88 791.45H505.88"/><circle cx="521.79" cy="792.39" r="6.3"/><path d="M515.79 791.79H527.79M515.79 792.99H527.79"/><circle cx="543.7" cy="794.55" r="6.3"/><path d="M537.7 793.95H549.7M537.7 795.15H549.7"/></g>
<text transform="translate(127,562) scale(1,1.0)" font-size="29" text-anchor="start" font-family='"Liberation Sans", Arial, sans-serif'>ER</text>
<rect x="659" y="521" width="438.2" height="307.7" fill="none" stroke="#3c3c3c" stroke-width="1.2"/>
<path d="M746.64 828.7V823.7M746.64 521V526M834.28 828.7V823.7M834.28 521V526M921.92 828.7V823.7M921.92 521V526M1009.56 828.7V823.7M1009.56 521V526M659 767.16H664M1097.2 767.16H1092.2M659 705.62H664M1097.2 705.62H1092.2M659 644.08H664M1097.2 644.08H1092.2M659 582.54H664M1097.2 582.54H1092.2" stroke="#3c3c3c" stroke-width="1.2" fill="none"/>
<text transform="translate(647.1,839.1) scale(1,1.04)" font-size="27" text-anchor="end" font-family='"Liberation Sans", Arial, sans-serif'>0</text>
<text transform="translate(649.9,777.4) scale(1,1.04)" font-size="27" text-anchor="end" font-family='"Liberation Sans", Arial, sans-serif'>0.2</text>
<text transform="translate(649.9,715.3) scale(1,1.04)" font-size="27" text-anchor="end" font-family='"Liberation Sans", Arial, sans-serif'>0.4</text>
<text transform="translate(649.9,655.9) scale(1,1.04)" font-size="27" text-anchor="end" font-family='"Liberation Sans", Arial, sans-serif'>0.6</text>
<text transform="translate(649.9,594.4) scale(1,1.04)" font-size="27" text-anchor="end" font-family='"Liberation Sans", Arial, sans-serif'>0.8</text>
<text transform="translate(644.9,534.4) scale(1,1.04)" font-size="27" text-anchor="end" font-family='"Liberation Sans", Arial, sans-serif'>1</text>
<text transform="translate(659,859.7) scale(1,1.04)" font-size="27" text-anchor="middle" font-family='"Liberation Sans", Arial, sans-serif'>0</text>
<text transform="translate(746.64,859.7) scale(1,1.04)" font-size="27" text-anchor="middle" font-family='"Liberation Sans", Arial, sans-serif'>0.2</text>
<text transform="translate(834.28,859.7) scale(1,1.04)" font-size="27" text-anchor="middle" font-family='"Liberation Sans", Arial, sans-serif'>0.4</text>
<text transform="translate(921.92,859.7) scale(1,1.04)" font-size="27" text-anchor="middle" font-family='"Liberation Sans", Arial, sans-serif'>0.6</text>
<text transform="translate(1009.56,859.7) scale(1,1.04)" font-size="27" text-anchor="middle" font-family='"Liberation Sans", Arial, sans-serif'>0.8</text>
<text transform="translate(1097.2,859.7) scale(1,1.04)" font-size="27" text-anchor="middle" font-family='"Liberation Sans", Arial, sans-serif'>1</text>
<path d="M659 828.7 L660.1 826.35 L661.19 823.93 L662.29 821.48 L663.38 819.05 L664.48 816.67 L665.57 814.38 L666.67 812.22 L667.76 810.24 L669.41 807.45 L671.05 804.77 L672.69 802.19 L674.34 799.75 L675.98 797.44 L677.62 795.28 L679.27 793.29 L680.91 791.47 L683.65 788.66 L686.39 785.99 L689.13 783.49 L691.87 781.16 L694.6 779.02 L697.34 777.09 L700.08 775.39 L702.82 773.93 L705.56 772.65 L708.3 771.47 L711.04 770.39 L713.77 769.4 L716.51 768.5 L719.25 767.68 L721.99 766.92 L724.73 766.24 L727.47 765.61 L730.21 765.03 L732.95 764.51 L735.69 764.01 L738.42 763.55 L741.16 763.1 L743.9 762.67 L746.64 762.24 L749.38 761.79 L752.12 761.31 L754.86 760.84 L757.6 760.39 L760.33 759.98 L763.07 759.62 L765.81 759.34 L768.55 759.16 L771.29 759.04 L774.03 758.92 L776.77 758.81 L779.5 758.72 L782.24 758.65 L784.98 758.59 L787.72 758.56 L790.46 758.54 L793.2 758.54 L795.94 758.54 L798.68 758.54 L801.42 758.54 L804.15 758.54 L806.89 758.54 L809.63 758.54 L812.37 758.54 L815.11 758.56 L817.85 758.61 L820.59 758.67 L823.33 758.76 L826.06 758.86 L828.8 758.96 L831.54 759.06 L834.28 759.16 L837.02 759.26 L839.76 759.36 L842.5 759.47 L845.24 759.58 L847.97 759.7 L850.71 759.82 L853.45 759.95 L856.19 760.08 L858.93 760.22 L861.67 760.36 L864.41 760.51 L867.14 760.66 L869.88 760.82 L872.62 760.98 L875.36 761.14 L878.1 761.31 L880.84 761.49 L883.58 761.67 L886.32 761.87 L889.06 762.06 L891.79 762.26 L894.53 762.46 L897.27 762.66 L900.01 762.85 L902.75 763.04 L905.49 763.23 L908.23 763.42 L910.97 763.6 L913.7 763.79 L916.44 763.99 L919.18 764.19 L921.92 764.39 L924.66 764.6 L927.4 764.82 L930.14 765.04 L932.88 765.26 L935.61 765.49 L938.35 765.73 L941.09 765.98 L943.83 766.24 L946.57 766.52 L949.31 766.83 L952.05 767.16 L954.79 767.49 L957.52 767.83 L960.26 768.15 L963 768.44 L965.74 768.7 L968.48 768.92 L971.22 769.13 L973.96 769.33 L976.7 769.51 L979.43 769.69 L982.17 769.87 L984.91 770.05 L987.65 770.24 L990.39 770.43 L993.13 770.62 L995.87 770.81 L998.61 771.01 L1001.34 771.2 L1004.08 771.39 L1006.82 771.58 L1009.56 771.78 L1012.3 771.96 L1015.04 772.15 L1017.78 772.33 L1020.52 772.51 L1023.25 772.7 L1025.99 772.89 L1028.73 773.1 L1031.47 773.31 L1034.21 773.56 L1036.95 773.84 L1039.69 774.14 L1042.43 774.45 L1045.16 774.75 L1047.9 775.03 L1050.64 775.28 L1053.38 775.47 L1056.12 775.62 L1058.86 775.74 L1061.6 775.85 L1064.34 775.95 L1067.07 776.04 L1069.81 776.15 L1072.55 776.26 L1075.29 776.39 L1078.03 776.55 L1080.77 776.72 L1083.51 776.91 L1086.25 777.11 L1088.98 777.32 L1091.72 777.53 L1094.46 777.73 L1097.2 777.93" fill="none" stroke="#3d7cad" stroke-width="1.3"/>
<path d="M659 828.7 L660.1 821.42 L661.19 813.63 L662.29 805.64 L663.38 797.75 L664.48 790.27 L665.57 783.5 L666.67 777.74 L667.76 773.31 L669.41 768.08 L671.05 763.35 L672.69 759.11 L674.34 755.35 L675.98 752.05 L677.62 749.19 L679.27 746.74 L680.91 744.7 L683.65 741.68 L686.39 738.83 L689.13 736.23 L691.87 733.92 L694.6 731.98 L697.34 730.47 L700.08 729.46 L702.82 729.01 L705.56 728.87 L708.3 728.74 L711.04 728.64 L713.77 728.55 L716.51 728.48 L719.25 728.43 L721.99 728.4 L724.73 728.39 L727.47 728.46 L730.21 728.66 L732.95 728.97 L735.69 729.35 L738.42 729.79 L741.16 730.25 L743.9 730.72 L746.64 731.16 L749.38 731.61 L752.12 732.12 L754.86 732.67 L757.6 733.24 L760.33 733.82 L763.07 734.39 L765.81 734.95 L768.55 735.47 L771.29 735.96 L774.03 736.44 L776.77 736.91 L779.5 737.37 L782.24 737.82 L784.98 738.27 L787.72 738.72 L790.46 739.16 L793.2 739.6 L795.94 740.03 L798.68 740.46 L801.42 740.89 L804.15 741.31 L806.89 741.73 L809.63 742.14 L812.37 742.54 L815.11 742.94 L817.85 743.32 L820.59 743.68 L823.33 744.05 L826.06 744.42 L828.8 744.8 L831.54 745.2 L834.28 745.62 L837.02 746.07 L839.76 746.55 L842.5 747.04 L845.24 747.56 L847.97 748.08 L850.71 748.6 L853.45 749.11 L856.19 749.62 L858.93 750.12 L861.67 750.62 L864.41 751.12 L867.14 751.62 L869.88 752.12 L872.62 752.62 L875.36 753.12 L878.1 753.62 L880.84 754.13 L883.58 754.65 L886.32 755.17 L889.06 755.69 L891.79 756.2 L894.53 756.69 L897.27 757.17 L900.01 757.62 L902.75 758.04 L905.49 758.45 L908.23 758.83 L910.97 759.21 L913.7 759.58 L916.44 759.95 L919.18 760.32 L921.92 760.7 L924.66 761.08 L927.4 761.45 L930.14 761.83 L932.88 762.2 L935.61 762.58 L938.35 762.97 L941.09 763.36 L943.83 763.78 L946.57 764.21 L949.31 764.66 L952.05 765.12 L954.79 765.6 L957.52 766.08 L960.26 766.55 L963 767.02 L965.74 767.47 L968.48 767.91 L971.22 768.36 L973.96 768.81 L976.7 769.25 L979.43 769.67 L982.17 770.09 L984.91 770.48 L987.65 770.85 L990.39 771.2 L993.13 771.53 L995.87 771.85 L998.61 772.15 L1001.34 772.45 L1004.08 772.74 L1006.82 773.03 L1009.56 773.31 L1012.3 773.6 L1015.04 773.87 L1017.78 774.13 L1020.52 774.39 L1023.25 774.65 L1025.99 774.92 L1028.73 775.19 L1031.47 775.47 L1034.21 775.76 L1036.95 776.05 L1039.69 776.35 L1042.43 776.66 L1045.16 776.97 L1047.9 777.29 L1050.64 777.61 L1053.38 777.93 L1056.12 778.26 L1058.86 778.62 L1061.6 778.97 L1064.34 779.34 L1067.07 779.7 L1069.81 780.05 L1072.55 780.38 L1075.29 780.7 L1078.03 780.99 L1080.77 781.28 L1083.51 781.55 L1086.25 781.81 L1088.98 782.07 L1091.72 782.33 L1094.46 782.59 L1097.2 782.85" fill="none" stroke="#7bbf80" stroke-width="1.3"/>
<path d="M659 828.7 L660.1 816.75 L661.19 803.65 L662.29 790.11 L663.38 776.78 L664.48 764.38 L665.57 753.56 L666.67 745.03 L667.76 739.47 L669.41 733.93 L671.05 728.92 L672.69 724.49 L674.34 720.7 L675.98 717.6 L677.62 715.24 L679.27 713.69 L680.91 713 L683.65 712.63 L686.39 712.31 L689.13 712.05 L691.87 711.83 L694.6 711.67 L697.34 711.56 L700.08 711.49 L702.82 711.47 L705.56 711.58 L708.3 711.9 L711.04 712.38 L713.77 712.99 L716.51 713.67 L719.25 714.39 L721.99 715.1 L724.73 715.77 L727.47 716.43 L730.21 717.11 L732.95 717.83 L735.69 718.59 L738.42 719.37 L741.16 720.19 L743.9 721.05 L746.64 721.93 L749.38 722.87 L752.12 723.9 L754.86 724.98 L757.6 726.1 L760.33 727.23 L763.07 728.37 L765.81 729.48 L768.55 730.54 L771.29 731.59 L774.03 732.63 L776.77 733.68 L779.5 734.71 L782.24 735.72 L784.98 736.7 L787.72 737.65 L790.46 738.54 L793.2 739.39 L795.94 740.2 L798.68 740.98 L801.42 741.74 L804.15 742.48 L806.89 743.22 L809.63 743.95 L812.37 744.7 L815.11 745.45 L817.85 746.2 L820.59 746.94 L823.33 747.68 L826.06 748.41 L828.8 749.14 L831.54 749.85 L834.28 750.54 L837.02 751.23 L839.76 751.9 L842.5 752.56 L845.24 753.22 L847.97 753.86 L850.71 754.5 L853.45 755.14 L856.19 755.78 L858.93 756.41 L861.67 757.03 L864.41 757.66 L867.14 758.28 L869.88 758.89 L872.62 759.5 L875.36 760.1 L878.1 760.7 L880.84 761.29 L883.58 761.89 L886.32 762.48 L889.06 763.07 L891.79 763.64 L894.53 764.21 L897.27 764.77 L900.01 765.31 L902.75 765.84 L905.49 766.35 L908.23 766.86 L910.97 767.35 L913.7 767.84 L916.44 768.33 L919.18 768.82 L921.92 769.31 L924.66 769.82 L927.4 770.34 L930.14 770.86 L932.88 771.38 L935.61 771.89 L938.35 772.39 L941.09 772.86 L943.83 773.31 L946.57 773.74 L949.31 774.13 L952.05 774.51 L954.79 774.88 L957.52 775.25 L960.26 775.62 L963 776 L965.74 776.39 L968.48 776.81 L971.22 777.24 L973.96 777.68 L976.7 778.13 L979.43 778.57 L982.17 779 L984.91 779.4 L987.65 779.78 L990.39 780.12 L993.13 780.45 L995.87 780.77 L998.61 781.08 L1001.34 781.37 L1004.08 781.66 L1006.82 781.95 L1009.56 782.24 L1012.3 782.52 L1015.04 782.79 L1017.78 783.05 L1020.52 783.31 L1023.25 783.58 L1025.99 783.84 L1028.73 784.11 L1031.47 784.39 L1034.21 784.69 L1036.95 784.99 L1039.69 785.3 L1042.43 785.62 L1045.16 785.94 L1047.9 786.25 L1050.64 786.56 L1053.38 786.85 L1056.12 787.14 L1058.86 787.42 L1061.6 787.7 L1064.34 787.97 L1067.07 788.24 L1069.81 788.5 L1072.55 788.76 L1075.29 789.01 L1078.03 789.25 L1080.77 789.49 L1083.51 789.72 L1086.25 789.95 L1088.98 790.17 L1091.72 790.4 L1094.46 790.62 L1097.2 790.85" fill="none" stroke="#f2b86f" stroke-width="1.3"/>
<path d="M659 828.7 L660.1 813.71 L661.19 797.07 L662.29 779.78 L663.38 762.82 L664.48 747.17 L665.57 733.81 L666.67 723.74 L667.76 717.93 L669.41 713.16 L671.05 708.91 L672.69 705.22 L674.34 702.13 L675.98 699.67 L677.62 697.87 L679.27 696.76 L680.91 696.39 L683.65 696.6 L686.39 697.2 L689.13 698.09 L691.87 699.21 L694.6 700.48 L697.34 701.82 L700.08 703.15 L702.82 704.39 L705.56 705.62 L708.3 706.95 L711.04 708.35 L713.77 709.81 L716.51 711.31 L719.25 712.81 L721.99 714.31 L724.73 715.77 L727.47 717.23 L730.21 718.71 L732.95 720.21 L735.69 721.7 L738.42 723.19 L741.16 724.65 L743.9 726.08 L746.64 727.47 L749.38 728.82 L752.12 730.16 L754.86 731.49 L757.6 732.78 L760.33 734.05 L763.07 735.29 L765.81 736.48 L768.55 737.62 L771.29 738.72 L774.03 739.78 L776.77 740.8 L779.5 741.8 L782.24 742.78 L784.98 743.73 L787.72 744.68 L790.46 745.62 L793.2 746.55 L795.94 747.47 L798.68 748.37 L801.42 749.25 L804.15 750.13 L806.89 750.99 L809.63 751.85 L812.37 752.7 L815.11 753.54 L817.85 754.39 L820.59 755.22 L823.33 756.05 L826.06 756.86 L828.8 757.65 L831.54 758.42 L834.28 759.16 L837.02 759.86 L839.76 760.53 L842.5 761.18 L845.24 761.81 L847.97 762.43 L850.71 763.07 L853.45 763.72 L856.19 764.39 L858.93 765.1 L861.67 765.84 L864.41 766.6 L867.14 767.36 L869.88 768.12 L872.62 768.86 L875.36 769.57 L878.1 770.24 L880.84 770.87 L883.58 771.48 L886.32 772.08 L889.06 772.65 L891.79 773.22 L894.53 773.77 L897.27 774.31 L900.01 774.85 L902.75 775.38 L905.49 775.89 L908.23 776.39 L910.97 776.89 L913.7 777.38 L916.44 777.87 L919.18 778.36 L921.92 778.85 L924.66 779.37 L927.4 779.9 L930.14 780.44 L932.88 780.97 L935.61 781.49 L938.35 781.99 L941.09 782.44 L943.83 782.85 L946.57 783.21 L949.31 783.54 L952.05 783.85 L954.79 784.14 L957.52 784.42 L960.26 784.71 L963 785 L965.74 785.31 L968.48 785.66 L971.22 786.02 L973.96 786.4 L976.7 786.78 L979.43 787.15 L982.17 787.49 L984.91 787.81 L987.65 788.08 L990.39 788.31 L993.13 788.52 L995.87 788.7 L998.61 788.88 L1001.34 789.05 L1004.08 789.22 L1006.82 789.41 L1009.56 789.62 L1012.3 789.86 L1015.04 790.13 L1017.78 790.41 L1020.52 790.7 L1023.25 790.99 L1025.99 791.27 L1028.73 791.54 L1031.47 791.78 L1034.21 791.99 L1036.95 792.18 L1039.69 792.37 L1042.43 792.55 L1045.16 792.72 L1047.9 792.91 L1050.64 793.1 L1053.38 793.31 L1056.12 793.56 L1058.86 793.84 L1061.6 794.15 L1064.34 794.45 L1067.07 794.76 L1069.81 795.03 L1072.55 795.28 L1075.29 795.47 L1078.03 795.62 L1080.77 795.75 L1083.51 795.87 L1086.25 795.98 L1088.98 796.08 L1091.72 796.18 L1094.46 796.28 L1097.2 796.39" fill="none" stroke="#c44b40" stroke-width="1.3"/>
<g fill="none" stroke="#3d7cad" stroke-width="1.3"><path d="M655.3 820.7L669 828.7L655.3 836.7Z"/><path d="M653.5 828.1H664.5M653.5 829.3H664.5"/><path d="M677.21 783.47L690.91 791.47L677.21 799.47Z"/><path d="M675.41 790.87H686.41M675.41 792.07H686.41"/><path d="M699.12 765.93L712.82 773.93L699.12 781.93Z"/><path d="M697.32 773.33H708.32M697.32 774.53H708.32"/><path d="M721.03 758.24L734.73 766.24L721.03 774.24Z"/><path d="M719.23 765.64H730.23M719.23 766.84H730.23"/><path d="M742.94 754.24L756.64 762.24L742.94 770.24Z"/><path d="M741.14 761.64H752.14M741.14 762.84H752.14"/><path d="M764.85 751.16L778.55 759.16L764.85 767.16Z"/><path d="M763.05 758.56H774.05M763.05 759.76H774.05"/><path d="M786.76 750.54L800.46 758.54L786.76 766.54Z"/><path d="M784.96 757.94H795.96M784.96 759.14H795.96"/><path d="M808.67 750.54L822.37 758.54L808.67 766.54Z"/><path d="M806.87 757.94H817.87M806.87 759.14H817.87"/><path d="M830.58 751.16L844.28 759.16L830.58 767.16Z"/><path d="M828.78 758.56H839.78M828.78 759.76H839.78"/><path d="M852.49 752.08L866.19 760.08L852.49 768.08Z"/><path d="M850.69 759.48H861.69M850.69 760.68H861.69"/><path d="M874.4 753.31L888.1 761.31L874.4 769.31Z"/><path d="M872.6 760.71H883.6M872.6 761.91H883.6"/><path d="M896.31 754.85L910.01 762.85L896.31 770.85Z"/><path d="M894.51 762.25H905.51M894.51 763.45H905.51"/><path d="M918.22 756.39L931.92 764.39L918.22 772.39Z"/><path d="M916.42 763.79H927.42M916.42 764.99H927.42"/><path d="M940.13 758.24L953.83 766.24L940.13 774.24Z"/><path d="M938.33 765.64H949.33M938.33 766.84H949.33"/><path d="M962.04 760.7L975.74 768.7L962.04 776.7Z"/><path d="M960.24 768.1H971.24M960.24 769.3H971.24"/><path d="M983.95 762.24L997.65 770.24L983.95 778.24Z"/><path d="M982.15 769.64H993.15M982.15 770.84H993.15"/><path d="M1005.86 763.78L1019.56 771.78L1005.86 779.78Z"/><path d="M1004.06 771.18H1015.06M1004.06 772.38H1015.06"/><path d="M1027.77 765.31L1041.47 773.31L1027.77 781.31Z"/><path d="M1025.97 772.71H1036.97M1025.97 773.91H1036.97"/><path d="M1049.68 767.47L1063.38 775.47L1049.68 783.47Z"/><path d="M1047.88 774.87H1058.88M1047.88 776.07H1058.88"/><path d="M1071.59 768.39L1085.29 776.39L1071.59 784.39Z"/><path d="M1069.79 775.79H1080.79M1069.79 776.99H1080.79"/><path d="M1093.5 769.93L1107.2 777.93L1093.5 785.93Z"/><path d="M1091.7 777.33H1102.7M1091.7 778.53H1102.7"/></g>
<g fill="none" stroke="#7bbf80" stroke-width="1.3"><path d="M655.3 820.7L669 828.7L655.3 836.7Z"/><path d="M653.5 828.1H664.5M653.5 829.3H664.5"/><path d="M677.21 736.7L690.91 744.7L677.21 752.7Z"/><path d="M675.41 744.1H686.41M675.41 745.3H686.41"/><path d="M699.12 721.01L712.82 729.01L699.12 737.01Z"/><path d="M697.32 728.41H708.32M697.32 729.61H708.32"/><path d="M721.03 720.39L734.73 728.39L721.03 736.39Z"/><path d="M719.23 727.79H730.23M719.23 728.99H730.23"/><path d="M742.94 723.16L756.64 731.16L742.94 739.16Z"/><path d="M741.14 730.56H752.14M741.14 731.76H752.14"/><path d="M764.85 727.47L778.55 735.47L764.85 743.47Z"/><path d="M763.05 734.87H774.05M763.05 736.07H774.05"/><path d="M786.76 731.16L800.46 739.16L786.76 747.16Z"/><path d="M784.96 738.56H795.96M784.96 739.76H795.96"/><path d="M808.67 734.54L822.37 742.54L808.67 750.54Z"/><path d="M806.87 741.94H817.87M806.87 743.14H817.87"/><path d="M830.58 737.62L844.28 745.62L830.58 753.62Z"/><path d="M828.78 745.02H839.78M828.78 746.22H839.78"/><path d="M852.49 741.62L866.19 749.62L852.49 757.62Z"/><path d="M850.69 749.02H861.69M850.69 750.22H861.69"/><path d="M874.4 745.62L888.1 753.62L874.4 761.62Z"/><path d="M872.6 753.02H883.6M872.6 754.22H883.6"/><path d="M896.31 749.62L910.01 757.62L896.31 765.62Z"/><path d="M894.51 757.02H905.51M894.51 758.22H905.51"/><path d="M918.22 752.7L931.92 760.7L918.22 768.7Z"/><path d="M916.42 760.1H927.42M916.42 761.3H927.42"/><path d="M940.13 755.78L953.83 763.78L940.13 771.78Z"/><path d="M938.33 763.18H949.33M938.33 764.38H949.33"/><path d="M962.04 759.47L975.74 767.47L962.04 775.47Z"/><path d="M960.24 766.87H971.24M960.24 768.07H971.24"/><path d="M983.95 762.85L997.65 770.85L983.95 778.85Z"/><path d="M982.15 770.25H993.15M982.15 771.45H993.15"/><path d="M1005.86 765.31L1019.56 773.31L1005.86 781.31Z"/><path d="M1004.06 772.71H1015.06M1004.06 773.91H1015.06"/><path d="M1027.77 767.47L1041.47 775.47L1027.77 783.47Z"/><path d="M1025.97 774.87H1036.97M1025.97 776.07H1036.97"/><path d="M1049.68 769.93L1063.38 777.93L1049.68 785.93Z"/><path d="M1047.88 777.33H1058.88M1047.88 778.53H1058.88"/><path d="M1071.59 772.7L1085.29 780.7L1071.59 788.7Z"/><path d="M1069.79 780.1H1080.79M1069.79 781.3H1080.79"/><path d="M1093.5 774.85L1107.2 782.85L1093.5 790.85Z"/><path d="M1091.7 782.25H1102.7M1091.7 783.45H1102.7"/></g>
<g fill="none" stroke="#f2b86f" stroke-width="1.3"><path d="M655.3 820.7L669 828.7L655.3 836.7Z"/><path d="M653.5 828.1H664.5M653.5 829.3H664.5"/><path d="M677.21 705L690.91 713L677.21 721Z"/><path d="M675.41 712.4H686.41M675.41 713.6H686.41"/><path d="M699.12 703.47L712.82 711.47L699.12 719.47Z"/><path d="M697.32 710.87H708.32M697.32 712.07H708.32"/><path d="M721.03 707.77L734.73 715.77L721.03 723.77Z"/><path d="M719.23 715.17H730.23M719.23 716.37H730.23"/><path d="M742.94 713.93L756.64 721.93L742.94 729.93Z"/><path d="M741.14 721.33H752.14M741.14 722.53H752.14"/><path d="M764.85 722.54L778.55 730.54L764.85 738.54Z"/><path d="M763.05 729.94H774.05M763.05 731.14H774.05"/><path d="M786.76 730.54L800.46 738.54L786.76 746.54Z"/><path d="M784.96 737.94H795.96M784.96 739.14H795.96"/><path d="M808.67 736.7L822.37 744.7L808.67 752.7Z"/><path d="M806.87 744.1H817.87M806.87 745.3H817.87"/><path d="M830.58 742.54L844.28 750.54L830.58 758.54Z"/><path d="M828.78 749.94H839.78M828.78 751.14H839.78"/><path d="M852.49 747.78L866.19 755.78L852.49 763.78Z"/><path d="M850.69 755.18H861.69M850.69 756.38H861.69"/><path d="M874.4 752.7L888.1 760.7L874.4 768.7Z"/><path d="M872.6 760.1H883.6M872.6 761.3H883.6"/><path d="M896.31 757.31L910.01 765.31L896.31 773.31Z"/><path d="M894.51 764.71H905.51M894.51 765.91H905.51"/><path d="M918.22 761.31L931.92 769.31L918.22 777.31Z"/><path d="M916.42 768.71H927.42M916.42 769.91H927.42"/><path d="M940.13 765.31L953.83 773.31L940.13 781.31Z"/><path d="M938.33 772.71H949.33M938.33 773.91H949.33"/><path d="M962.04 768.39L975.74 776.39L962.04 784.39Z"/><path d="M960.24 775.79H971.24M960.24 776.99H971.24"/><path d="M983.95 771.78L997.65 779.78L983.95 787.78Z"/><path d="M982.15 779.18H993.15M982.15 780.38H993.15"/><path d="M1005.86 774.24L1019.56 782.24L1005.86 790.24Z"/><path d="M1004.06 781.64H1015.06M1004.06 782.84H1015.06"/><path d="M1027.77 776.39L1041.47 784.39L1027.77 792.39Z"/><path d="M1025.97 783.79H1036.97M1025.97 784.99H1036.97"/><path d="M1049.68 778.85L1063.38 786.85L1049.68 794.85Z"/><path d="M1047.88 786.25H1058.88M1047.88 787.45H1058.88"/><path d="M1071.59 781.01L1085.29 789.01L1071.59 797.01Z"/><path d="M1069.79 788.41H1080.79M1069.79 789.61H1080.79"/><path d="M1093.5 782.85L1107.2 790.85L1093.5 798.85Z"/><path d="M1091.7 790.25H1102.7M1091.7 791.45H1102.7"/></g>
<g fill="none" stroke="#c44b40" stroke-width="1.3"><path d="M655.3 820.7L669 828.7L655.3 836.7Z"/><path d="M653.5 828.1H664.5M653.5 829.3H664.5"/><path d="M677.21 688.39L690.91 696.39L677.21 704.39Z"/><path d="M675.41 695.79H686.41M675.41 696.99H686.41"/><path d="M699.12 696.39L712.82 704.39L699.12 712.39Z"/><path d="M697.32 703.79H708.32M697.32 704.99H708.32"/><path d="M721.03 707.77L734.73 715.77L721.03 723.77Z"/><path d="M719.23 715.17H730.23M719.23 716.37H730.23"/><path d="M742.94 719.47L756.64 727.47L742.94 735.47Z"/><path d="M741.14 726.87H752.14M741.14 728.07H752.14"/><path d="M764.85 729.62L778.55 737.62L764.85 745.62Z"/><path d="M763.05 737.02H774.05M763.05 738.22H774.05"/><path d="M786.76 737.62L800.46 745.62L786.76 753.62Z"/><path d="M784.96 745.02H795.96M784.96 746.22H795.96"/><path d="M808.67 744.7L822.37 752.7L808.67 760.7Z"/><path d="M806.87 752.1H817.87M806.87 753.3H817.87"/><path d="M830.58 751.16L844.28 759.16L830.58 767.16Z"/><path d="M828.78 758.56H839.78M828.78 759.76H839.78"/><path d="M852.49 756.39L866.19 764.39L852.49 772.39Z"/><path d="M850.69 763.79H861.69M850.69 764.99H861.69"/><path d="M874.4 762.24L888.1 770.24L874.4 778.24Z"/><path d="M872.6 769.64H883.6M872.6 770.84H883.6"/><path d="M896.31 766.85L910.01 774.85L896.31 782.85Z"/><path d="M894.51 774.25H905.51M894.51 775.45H905.51"/><path d="M918.22 770.85L931.92 778.85L918.22 786.85Z"/><path d="M916.42 778.25H927.42M916.42 779.45H927.42"/><path d="M940.13 774.85L953.83 782.85L940.13 790.85Z"/><path d="M938.33 782.25H949.33M938.33 783.45H949.33"/><path d="M962.04 777.31L975.74 785.31L962.04 793.31Z"/><path d="M960.24 784.71H971.24M960.24 785.91H971.24"/><path d="M983.95 780.08L997.65 788.08L983.95 796.08Z"/><path d="M982.15 787.48H993.15M982.15 788.68H993.15"/><path d="M1005.86 781.62L1019.56 789.62L1005.86 797.62Z"/><path d="M1004.06 789.02H1015.06M1004.06 790.22H1015.06"/><path d="M1027.77 783.78L1041.47 791.78L1027.77 799.78Z"/><path d="M1025.97 791.18H1036.97M1025.97 792.38H1036.97"/><path d="M1049.68 785.31L1063.38 793.31L1049.68 801.31Z"/><path d="M1047.88 792.71H1058.88M1047.88 793.91H1058.88"/><path d="M1071.59 787.47L1085.29 795.47L1071.59 803.47Z"/><path d="M1069.79 794.87H1080.79M1069.79 796.07H1080.79"/><path d="M1093.5 788.39L1107.2 796.39L1093.5 804.39Z"/><path d="M1091.7 795.79H1102.7M1091.7 796.99H1102.7"/></g>
<text transform="translate(682.6,562) scale(1,1.0)" font-size="29" text-anchor="start" font-family='"Liberation Sans", Arial, sans-serif'>EX</text>
<rect x="1211.4" y="521" width="438.2" height="307.7" fill="none" stroke="#3c3c3c" stroke-width="1.2"/>
<path d="M1299.04 828.7V823.7M1299.04 521V526M1386.68 828.7V823.7M1386.68 521V526M1474.32 828.7V823.7M1474.32 521V526M1561.96 828.7V823.7M1561.96 521V526M1211.4 767.16H1216.4M1649.6 767.16H1644.6M1211.4 705.62H1216.4M1649.6 705.62H1644.6M1211.4 644.08H1216.4M1649.6 644.08H1644.6M1211.4 582.54H1216.4M1649.6 582.54H1644.6" stroke="#3c3c3c" stroke-width="1.2" fill="none"/>
<text transform="translate(1202.2,839.1) scale(1,1.04)" font-size="27" text-anchor="end" font-family='"Liberation Sans", Arial, sans-serif'>0</text>
<text transform="translate(1205.7,777.4) scale(1,1.04)" font-size="27" text-anchor="end" font-family='"Liberation Sans", Arial, sans-serif'>0.2</text>
<text transform="translate(1205.7,715.3) scale(1,1.04)" font-size="27" text-anchor="end" font-family='"Liberation Sans", Arial, sans-serif'>0.4</text>
<text transform="translate(1205.7,655.9) scale(1,1.04)" font-size="27" text-anchor="end" font-family='"Liberation Sans", Arial, sans-serif'>0.6</text>
<text transform="translate(1205.7,594.4) scale(1,1.04)" font-size="27" text-anchor="end" font-family='"Liberation Sans", Arial, sans-serif'>0.8</text>
<text transform="translate(1200.7,534.4) scale(1,1.04)" font-size="27" text-anchor="end" font-family='"Liberation Sans", Arial, sans-serif'>1</text>
<text transform="translate(1211.4,859.7) scale(1,1.04)" font-size="27" text-anchor="middle" font-family='"Liberation Sans", Arial, sans-serif'>0</text>
<text transform="translate(1299.04,859.7) scale(1,1.04)" font-size="27" text-anchor="middle" font-family='"Liberation Sans", Arial, sans-serif'>0.2</text>
<text transform="translate(1386.68,859.7) scale(1,1.04)" font-size="27" text-anchor="middle" font-family='"Liberation Sans", Arial, sans-serif'>0.4</text>
<text transform="translate(1474.32,859.7) scale(1,1.04)" font-size="27" text-anchor="middle" font-family='"Liberation Sans", Arial, sans-serif'>0.6</text>
<text transform="translate(1561.96,859.7) scale(1,1.04)" font-size="27" text-anchor="middle" font-family='"Liberation Sans", Arial, sans-serif'>0.8</text>
<text transform="translate(1649.6,859.7) scale(1,1.04)" font-size="27" text-anchor="middle" font-family='"Liberation Sans", Arial, sans-serif'>1</text>
<path d="M1211.4 828.7 L1212.5 818.71 L1213.59 808.18 L1214.69 797.44 L1215.78 786.8 L1216.88 776.59 L1217.97 767.14 L1219.07 758.76 L1220.16 751.78 L1221.81 742.86 L1223.45 734.63 L1225.09 727.09 L1226.74 720.21 L1228.38 713.99 L1230.02 708.42 L1231.67 703.48 L1233.31 699.16 L1236.05 692.66 L1238.79 686.57 L1241.53 680.96 L1244.27 675.91 L1247 671.47 L1249.74 667.72 L1252.48 664.72 L1255.22 662.54 L1257.96 660.84 L1260.7 659.23 L1263.44 657.77 L1266.18 656.49 L1268.91 655.43 L1271.65 654.62 L1274.39 654.11 L1277.13 653.93 L1279.87 653.94 L1282.61 653.99 L1285.35 654.07 L1288.09 654.18 L1290.82 654.32 L1293.56 654.47 L1296.3 654.65 L1299.04 654.85 L1301.78 655.23 L1304.52 655.92 L1307.26 656.84 L1310 657.92 L1312.73 659.1 L1315.47 660.31 L1318.21 661.48 L1320.95 662.54 L1323.69 663.52 L1326.43 664.5 L1329.17 665.48 L1331.9 666.47 L1334.64 667.46 L1337.38 668.47 L1340.12 669.5 L1342.86 670.54 L1345.6 671.62 L1348.34 672.73 L1351.08 673.86 L1353.82 675 L1356.55 676.15 L1359.29 677.28 L1362.03 678.39 L1364.77 679.47 L1367.51 680.51 L1370.25 681.52 L1372.99 682.52 L1375.72 683.5 L1378.46 684.48 L1381.2 685.46 L1383.94 686.46 L1386.68 687.47 L1389.42 688.49 L1392.16 689.51 L1394.9 690.53 L1397.63 691.56 L1400.37 692.6 L1403.11 693.65 L1405.85 694.7 L1408.59 695.77 L1411.33 696.86 L1414.07 697.97 L1416.81 699.09 L1419.55 700.21 L1422.28 701.35 L1425.02 702.47 L1427.76 703.59 L1430.5 704.7 L1433.24 705.79 L1435.98 706.89 L1438.72 707.98 L1441.45 709.06 L1444.19 710.14 L1446.93 711.21 L1449.67 712.27 L1452.41 713.31 L1455.15 714.35 L1457.89 715.39 L1460.63 716.41 L1463.37 717.43 L1466.1 718.44 L1468.84 719.42 L1471.58 720.38 L1474.32 721.31 L1477.06 722.21 L1479.8 723.07 L1482.54 723.91 L1485.28 724.73 L1488.01 725.55 L1490.75 726.37 L1493.49 727.22 L1496.23 728.08 L1498.97 728.99 L1501.71 729.93 L1504.45 730.9 L1507.18 731.87 L1509.92 732.82 L1512.66 733.75 L1515.4 734.64 L1518.14 735.47 L1520.88 736.23 L1523.62 736.96 L1526.36 737.66 L1529.1 738.34 L1531.83 739 L1534.57 739.66 L1537.31 740.32 L1540.05 741.01 L1542.79 741.7 L1545.53 742.41 L1548.27 743.13 L1551 743.84 L1553.74 744.54 L1556.48 745.23 L1559.22 745.9 L1561.96 746.54 L1564.7 747.16 L1567.44 747.75 L1570.18 748.32 L1572.91 748.89 L1575.65 749.44 L1578.39 750 L1581.13 750.57 L1583.87 751.16 L1586.61 751.78 L1589.35 752.42 L1592.09 753.08 L1594.82 753.74 L1597.56 754.39 L1600.3 755 L1603.04 755.57 L1605.78 756.08 L1608.52 756.53 L1611.26 756.94 L1614 757.32 L1616.73 757.68 L1619.47 758.03 L1622.21 758.38 L1624.95 758.76 L1627.69 759.16 L1630.43 759.59 L1633.17 760.04 L1635.91 760.5 L1638.64 760.96 L1641.38 761.44 L1644.12 761.91 L1646.86 762.39 L1649.6 762.85" fill="none" stroke="#c44b40" stroke-width="1.3"/>
<path d="M1211.4 828.7 L1212.5 820.72 L1213.59 812.33 L1214.69 803.77 L1215.78 795.3 L1216.88 787.16 L1217.97 779.59 L1219.07 772.84 L1220.16 767.16 L1221.81 759.83 L1223.45 753.03 L1225.09 746.76 L1226.74 741.03 L1228.38 735.83 L1230.02 731.17 L1231.67 727.05 L1233.31 723.47 L1236.05 718.16 L1238.79 713.3 L1241.53 708.88 L1244.27 704.89 L1247 701.34 L1249.74 698.23 L1252.48 695.55 L1255.22 693.31 L1257.96 691.35 L1260.7 689.51 L1263.44 687.82 L1266.18 686.3 L1268.91 684.96 L1271.65 683.83 L1274.39 682.91 L1277.13 682.23 L1279.87 681.69 L1282.61 681.18 L1285.35 680.71 L1288.09 680.3 L1290.82 679.95 L1293.56 679.69 L1296.3 679.52 L1299.04 679.47 L1301.78 679.52 L1304.52 679.66 L1307.26 679.88 L1310 680.17 L1312.73 680.5 L1315.47 680.86 L1318.21 681.24 L1320.95 681.62 L1323.69 682.04 L1326.43 682.55 L1329.17 683.14 L1331.9 683.77 L1334.64 684.45 L1337.38 685.14 L1340.12 685.85 L1342.86 686.54 L1345.6 687.24 L1348.34 687.96 L1351.08 688.71 L1353.82 689.48 L1356.55 690.27 L1359.29 691.07 L1362.03 691.88 L1364.77 692.7 L1367.51 693.54 L1370.25 694.41 L1372.99 695.31 L1375.72 696.21 L1378.46 697.12 L1381.2 698.03 L1383.94 698.91 L1386.68 699.77 L1389.42 700.62 L1392.16 701.45 L1394.9 702.28 L1397.63 703.1 L1400.37 703.91 L1403.11 704.7 L1405.85 705.48 L1408.59 706.24 L1411.33 706.96 L1414.07 707.67 L1416.81 708.35 L1419.55 709.02 L1422.28 709.69 L1425.02 710.37 L1427.76 711.06 L1430.5 711.77 L1433.24 712.51 L1435.98 713.26 L1438.72 714.02 L1441.45 714.79 L1444.19 715.57 L1446.93 716.35 L1449.67 717.14 L1452.41 717.93 L1455.15 718.73 L1457.89 719.55 L1460.63 720.39 L1463.37 721.22 L1466.1 722.05 L1468.84 722.86 L1471.58 723.64 L1474.32 724.39 L1477.06 725.1 L1479.8 725.8 L1482.54 726.48 L1485.28 727.14 L1488.01 727.78 L1490.75 728.41 L1493.49 729.02 L1496.23 729.62 L1498.97 730.2 L1501.71 730.76 L1504.45 731.31 L1507.18 731.85 L1509.92 732.37 L1512.66 732.89 L1515.4 733.41 L1518.14 733.93 L1520.88 734.44 L1523.62 734.94 L1526.36 735.43 L1529.1 735.91 L1531.83 736.4 L1534.57 736.9 L1537.31 737.4 L1540.05 737.93 L1542.79 738.48 L1545.53 739.05 L1548.27 739.64 L1551 740.24 L1553.74 740.83 L1556.48 741.42 L1559.22 741.99 L1561.96 742.54 L1564.7 743.07 L1567.44 743.58 L1570.18 744.09 L1572.91 744.58 L1575.65 745.07 L1578.39 745.56 L1581.13 746.05 L1583.87 746.54 L1586.61 747.05 L1589.35 747.55 L1592.09 748.06 L1594.82 748.56 L1597.56 749.07 L1600.3 749.57 L1603.04 750.06 L1605.78 750.54 L1608.52 751.02 L1611.26 751.5 L1614 751.96 L1616.73 752.43 L1619.47 752.89 L1622.21 753.34 L1624.95 753.79 L1627.69 754.24 L1630.43 754.67 L1633.17 755.1 L1635.91 755.53 L1638.64 755.95 L1641.38 756.36 L1644.12 756.78 L1646.86 757.2 L1649.6 757.62" fill="none" stroke="#3d7cad" stroke-width="1.3"/>
<path d="M1211.4 828.7 L1212.5 825.98 L1213.59 823.24 L1214.69 820.48 L1215.78 817.72 L1216.88 814.99 L1217.97 812.31 L1219.07 809.69 L1220.16 807.16 L1221.81 803.43 L1223.45 799.71 L1225.09 796.04 L1226.74 792.46 L1228.38 789.01 L1230.02 785.72 L1231.67 782.63 L1233.31 779.78 L1236.05 775.35 L1238.79 771.15 L1241.53 767.18 L1244.27 763.42 L1247 759.88 L1249.74 756.56 L1252.48 753.45 L1255.22 750.54 L1257.96 747.82 L1260.7 745.25 L1263.44 742.81 L1266.18 740.5 L1268.91 738.31 L1271.65 736.24 L1274.39 734.27 L1277.13 732.39 L1279.87 730.59 L1282.61 728.85 L1285.35 727.18 L1288.09 725.59 L1290.82 724.07 L1293.56 722.65 L1296.3 721.32 L1299.04 720.08 L1301.78 718.92 L1304.52 717.82 L1307.26 716.77 L1310 715.77 L1312.73 714.84 L1315.47 713.96 L1318.21 713.14 L1320.95 712.39 L1323.69 711.68 L1326.43 711.01 L1329.17 710.37 L1331.9 709.76 L1334.64 709.2 L1337.38 708.68 L1340.12 708.2 L1342.86 707.77 L1345.6 707.39 L1348.34 707.03 L1351.08 706.69 L1353.82 706.38 L1356.55 706.09 L1359.29 705.81 L1362.03 705.56 L1364.77 705.31 L1367.51 705.06 L1370.25 704.81 L1372.99 704.55 L1375.72 704.31 L1378.46 704.09 L1381.2 703.93 L1383.94 703.81 L1386.68 703.77 L1389.42 703.77 L1392.16 703.77 L1394.9 703.77 L1397.63 703.77 L1400.37 703.77 L1403.11 703.77 L1405.85 703.77 L1408.59 703.77 L1411.33 703.81 L1414.07 703.93 L1416.81 704.09 L1419.55 704.31 L1422.28 704.55 L1425.02 704.81 L1427.76 705.06 L1430.5 705.31 L1433.24 705.57 L1435.98 705.85 L1438.72 706.15 L1441.45 706.47 L1444.19 706.8 L1446.93 707.13 L1449.67 707.46 L1452.41 707.77 L1455.15 708.08 L1457.89 708.4 L1460.63 708.71 L1463.37 709.03 L1466.1 709.34 L1468.84 709.64 L1471.58 709.94 L1474.32 710.24 L1477.06 710.51 L1479.8 710.78 L1482.54 711.03 L1485.28 711.28 L1488.01 711.54 L1490.75 711.8 L1493.49 712.09 L1496.23 712.39 L1498.97 712.73 L1501.71 713.1 L1504.45 713.49 L1507.18 713.9 L1509.92 714.31 L1512.66 714.72 L1515.4 715.11 L1518.14 715.47 L1520.88 715.79 L1523.62 716.1 L1526.36 716.4 L1529.1 716.68 L1531.83 716.97 L1534.57 717.27 L1537.31 717.59 L1540.05 717.93 L1542.79 718.3 L1545.53 718.69 L1548.27 719.09 L1551 719.52 L1553.74 719.96 L1556.48 720.4 L1559.22 720.86 L1561.96 721.31 L1564.7 721.79 L1567.44 722.29 L1570.18 722.81 L1572.91 723.34 L1575.65 723.86 L1578.39 724.37 L1581.13 724.86 L1583.87 725.31 L1586.61 725.73 L1589.35 726.12 L1592.09 726.49 L1594.82 726.85 L1597.56 727.21 L1600.3 727.58 L1603.04 727.97 L1605.78 728.39 L1608.52 728.85 L1611.26 729.34 L1614 729.86 L1616.73 730.39 L1619.47 730.92 L1622.21 731.44 L1624.95 731.93 L1627.69 732.39 L1630.43 732.81 L1633.17 733.22 L1635.91 733.6 L1638.64 733.98 L1641.38 734.35 L1644.12 734.72 L1646.86 735.09 L1649.6 735.47" fill="none" stroke="#c44b40" stroke-width="1.3"/>
<path d="M1211.4 828.7 L1212.5 826.37 L1213.59 824.01 L1214.69 821.63 L1215.78 819.26 L1216.88 816.91 L1217.97 814.62 L1219.07 812.38 L1220.16 810.24 L1221.81 807.09 L1223.45 803.95 L1225.09 800.86 L1226.74 797.85 L1228.38 794.98 L1230.02 792.26 L1231.67 789.75 L1233.31 787.47 L1236.05 784.02 L1238.79 780.82 L1241.53 777.83 L1244.27 775.03 L1247 772.41 L1249.74 769.93 L1252.48 767.57 L1255.22 765.31 L1257.96 763.15 L1260.7 761.09 L1263.44 759.12 L1266.18 757.24 L1268.91 755.45 L1271.65 753.74 L1274.39 752.11 L1277.13 750.54 L1279.87 749.02 L1282.61 747.51 L1285.35 746.05 L1288.09 744.65 L1290.82 743.34 L1293.56 742.12 L1296.3 741.03 L1299.04 740.08 L1301.78 739.25 L1304.52 738.49 L1307.26 737.79 L1310 737.14 L1312.73 736.53 L1315.47 735.95 L1318.21 735.4 L1320.95 734.85 L1323.69 734.32 L1326.43 733.79 L1329.17 733.29 L1331.9 732.8 L1334.64 732.35 L1337.38 731.92 L1340.12 731.52 L1342.86 731.16 L1345.6 730.83 L1348.34 730.52 L1351.08 730.24 L1353.82 729.97 L1356.55 729.71 L1359.29 729.47 L1362.03 729.23 L1364.77 729.01 L1367.51 728.78 L1370.25 728.55 L1372.99 728.33 L1375.72 728.12 L1378.46 727.92 L1381.2 727.75 L1383.94 727.59 L1386.68 727.47 L1389.42 727.36 L1392.16 727.25 L1394.9 727.14 L1397.63 727.05 L1400.37 726.97 L1403.11 726.91 L1405.85 726.87 L1408.59 726.85 L1411.33 726.87 L1414.07 726.92 L1416.81 726.99 L1419.55 727.08 L1422.28 727.18 L1425.02 727.28 L1427.76 727.38 L1430.5 727.47 L1433.24 727.54 L1435.98 727.61 L1438.72 727.69 L1441.45 727.76 L1444.19 727.83 L1446.93 727.91 L1449.67 727.99 L1452.41 728.08 L1455.15 728.18 L1457.89 728.28 L1460.63 728.38 L1463.37 728.49 L1466.1 728.61 L1468.84 728.73 L1471.58 728.87 L1474.32 729.01 L1477.06 729.16 L1479.8 729.32 L1482.54 729.49 L1485.28 729.68 L1488.01 729.88 L1490.75 730.09 L1493.49 730.31 L1496.23 730.54 L1498.97 730.8 L1501.71 731.08 L1504.45 731.38 L1507.18 731.7 L1509.92 732.03 L1512.66 732.36 L1515.4 732.69 L1518.14 733.01 L1520.88 733.31 L1523.62 733.61 L1526.36 733.9 L1529.1 734.2 L1531.83 734.5 L1534.57 734.81 L1537.31 735.13 L1540.05 735.47 L1542.79 735.82 L1545.53 736.2 L1548.27 736.6 L1551 737.01 L1553.74 737.41 L1556.48 737.81 L1559.22 738.19 L1561.96 738.54 L1564.7 738.87 L1567.44 739.18 L1570.18 739.48 L1572.91 739.77 L1575.65 740.07 L1578.39 740.36 L1581.13 740.68 L1583.87 741.01 L1586.61 741.36 L1589.35 741.74 L1592.09 742.14 L1594.82 742.54 L1597.56 742.95 L1600.3 743.35 L1603.04 743.73 L1605.78 744.08 L1608.52 744.42 L1611.26 744.74 L1614 745.06 L1616.73 745.37 L1619.47 745.67 L1622.21 745.96 L1624.95 746.26 L1627.69 746.54 L1630.43 746.83 L1633.17 747.1 L1635.91 747.37 L1638.64 747.64 L1641.38 747.9 L1644.12 748.17 L1646.86 748.43 L1649.6 748.7" fill="none" stroke="#3d7cad" stroke-width="1.3"/>
<g fill="none" stroke="#c44b40" stroke-width="1.3"><path d="M1211.4 819.8L1217.9 828.7L1211.4 837.6L1204.9 828.7Z"/><path d="M1204.9 828.1H1217.9M1204.9 829.3H1217.9"/><path d="M1233.31 690.26L1239.81 699.16L1233.31 708.06L1226.81 699.16Z"/><path d="M1226.81 698.56H1239.81M1226.81 699.76H1239.81"/><path d="M1255.22 653.64L1261.72 662.54L1255.22 671.44L1248.72 662.54Z"/><path d="M1248.72 661.94H1261.72M1248.72 663.14H1261.72"/><path d="M1277.13 645.03L1283.63 653.93L1277.13 662.83L1270.63 653.93Z"/><path d="M1270.63 653.33H1283.63M1270.63 654.53H1283.63"/><path d="M1299.04 645.95L1305.54 654.85L1299.04 663.75L1292.54 654.85Z"/><path d="M1292.54 654.25H1305.54M1292.54 655.45H1305.54"/><path d="M1320.95 653.64L1327.45 662.54L1320.95 671.44L1314.45 662.54Z"/><path d="M1314.45 661.94H1327.45M1314.45 663.14H1327.45"/><path d="M1342.86 661.64L1349.36 670.54L1342.86 679.44L1336.36 670.54Z"/><path d="M1336.36 669.94H1349.36M1336.36 671.14H1349.36"/><path d="M1364.77 670.57L1371.27 679.47L1364.77 688.37L1358.27 679.47Z"/><path d="M1358.27 678.87H1371.27M1358.27 680.07H1371.27"/><path d="M1386.68 678.57L1393.18 687.47L1386.68 696.37L1380.18 687.47Z"/><path d="M1380.18 686.87H1393.18M1380.18 688.07H1393.18"/><path d="M1408.59 686.87L1415.09 695.77L1408.59 704.67L1402.09 695.77Z"/><path d="M1402.09 695.17H1415.09M1402.09 696.37H1415.09"/><path d="M1430.5 695.8L1437 704.7L1430.5 713.6L1424 704.7Z"/><path d="M1424 704.1H1437M1424 705.3H1437"/><path d="M1452.41 704.41L1458.91 713.31L1452.41 722.21L1445.91 713.31Z"/><path d="M1445.91 712.71H1458.91M1445.91 713.91H1458.91"/><path d="M1474.32 712.41L1480.82 721.31L1474.32 730.21L1467.82 721.31Z"/><path d="M1467.82 720.71H1480.82M1467.82 721.91H1480.82"/><path d="M1496.23 719.18L1502.73 728.08L1496.23 736.98L1489.73 728.08Z"/><path d="M1489.73 727.48H1502.73M1489.73 728.68H1502.73"/><path d="M1518.14 726.57L1524.64 735.47L1518.14 744.37L1511.64 735.47Z"/><path d="M1511.64 734.87H1524.64M1511.64 736.07H1524.64"/><path d="M1540.05 732.11L1546.55 741.01L1540.05 749.91L1533.55 741.01Z"/><path d="M1533.55 740.41H1546.55M1533.55 741.61H1546.55"/><path d="M1561.96 737.64L1568.46 746.54L1561.96 755.44L1555.46 746.54Z"/><path d="M1555.46 745.94H1568.46M1555.46 747.14H1568.46"/><path d="M1583.87 742.26L1590.37 751.16L1583.87 760.06L1577.37 751.16Z"/><path d="M1577.37 750.56H1590.37M1577.37 751.76H1590.37"/><path d="M1605.78 747.18L1612.28 756.08L1605.78 764.98L1599.28 756.08Z"/><path d="M1599.28 755.48H1612.28M1599.28 756.68H1612.28"/><path d="M1627.69 750.26L1634.19 759.16L1627.69 768.06L1621.19 759.16Z"/><path d="M1621.19 758.56H1634.19M1621.19 759.76H1634.19"/><path d="M1649.6 753.95L1656.1 762.85L1649.6 771.75L1643.1 762.85Z"/><path d="M1643.1 762.25H1656.1M1643.1 763.45H1656.1"/></g>
<g fill="none" stroke="#3d7cad" stroke-width="1.3"><path d="M1211.4 819.8L1217.9 828.7L1211.4 837.6L1204.9 828.7Z"/><path d="M1204.9 828.1H1217.9M1204.9 829.3H1217.9"/><path d="M1233.31 714.57L1239.81 723.47L1233.31 732.37L1226.81 723.47Z"/><path d="M1226.81 722.87H1239.81M1226.81 724.07H1239.81"/><path d="M1255.22 684.41L1261.72 693.31L1255.22 702.21L1248.72 693.31Z"/><path d="M1248.72 692.71H1261.72M1248.72 693.91H1261.72"/><path d="M1277.13 673.33L1283.63 682.23L1277.13 691.13L1270.63 682.23Z"/><path d="M1270.63 681.63H1283.63M1270.63 682.83H1283.63"/><path d="M1299.04 670.57L1305.54 679.47L1299.04 688.37L1292.54 679.47Z"/><path d="M1292.54 678.87H1305.54M1292.54 680.07H1305.54"/><path d="M1320.95 672.72L1327.45 681.62L1320.95 690.52L1314.45 681.62Z"/><path d="M1314.45 681.02H1327.45M1314.45 682.22H1327.45"/><path d="M1342.86 677.64L1349.36 686.54L1342.86 695.44L1336.36 686.54Z"/><path d="M1336.36 685.94H1349.36M1336.36 687.14H1349.36"/><path d="M1364.77 683.8L1371.27 692.7L1364.77 701.6L1358.27 692.7Z"/><path d="M1358.27 692.1H1371.27M1358.27 693.3H1371.27"/><path d="M1386.68 690.87L1393.18 699.77L1386.68 708.67L1380.18 699.77Z"/><path d="M1380.18 699.17H1393.18M1380.18 700.37H1393.18"/><path d="M1408.59 697.34L1415.09 706.24L1408.59 715.14L1402.09 706.24Z"/><path d="M1402.09 705.64H1415.09M1402.09 706.84H1415.09"/><path d="M1430.5 702.87L1437 711.77L1430.5 720.67L1424 711.77Z"/><path d="M1424 711.17H1437M1424 712.37H1437"/><path d="M1452.41 709.03L1458.91 717.93L1452.41 726.83L1445.91 717.93Z"/><path d="M1445.91 717.33H1458.91M1445.91 718.53H1458.91"/><path d="M1474.32 715.49L1480.82 724.39L1474.32 733.29L1467.82 724.39Z"/><path d="M1467.82 723.79H1480.82M1467.82 724.99H1480.82"/><path d="M1496.23 720.72L1502.73 729.62L1496.23 738.52L1489.73 729.62Z"/><path d="M1489.73 729.02H1502.73M1489.73 730.22H1502.73"/><path d="M1518.14 725.03L1524.64 733.93L1518.14 742.83L1511.64 733.93Z"/><path d="M1511.64 733.33H1524.64M1511.64 734.53H1524.64"/><path d="M1540.05 729.03L1546.55 737.93L1540.05 746.83L1533.55 737.93Z"/><path d="M1533.55 737.33H1546.55M1533.55 738.53H1546.55"/><path d="M1561.96 733.64L1568.46 742.54L1561.96 751.44L1555.46 742.54Z"/><path d="M1555.46 741.94H1568.46M1555.46 743.14H1568.46"/><path d="M1583.87 737.64L1590.37 746.54L1583.87 755.44L1577.37 746.54Z"/><path d="M1577.37 745.94H1590.37M1577.37 747.14H1590.37"/><path d="M1605.78 741.64L1612.28 750.54L1605.78 759.44L1599.28 750.54Z"/><path d="M1599.28 749.94H1612.28M1599.28 751.14H1612.28"/><path d="M1627.69 745.34L1634.19 754.24L1627.69 763.14L1621.19 754.24Z"/><path d="M1621.19 753.64H1634.19M1621.19 754.84H1634.19"/><path d="M1649.6 748.72L1656.1 757.62L1649.6 766.52L1643.1 757.62Z"/><path d="M1643.1 757.02H1656.1M1643.1 758.22H1656.1"/></g>
<g fill="none" stroke="#c44b40" stroke-width="1.3"><path d="M1204.2 833L1211.4 820L1218.6 833Z"/><path d="M1204.9 828.1H1217.9M1204.9 829.3H1217.9"/><path d="M1226.11 784.08L1233.31 771.08L1240.51 784.08Z"/><path d="M1226.81 779.18H1239.81M1226.81 780.38H1239.81"/><path d="M1248.02 754.84L1255.22 741.84L1262.42 754.84Z"/><path d="M1248.72 749.94H1261.72M1248.72 751.14H1261.72"/><path d="M1269.93 736.69L1277.13 723.69L1284.33 736.69Z"/><path d="M1270.63 731.79H1283.63M1270.63 732.99H1283.63"/><path d="M1291.84 724.38L1299.04 711.38L1306.24 724.38Z"/><path d="M1292.54 719.48H1305.54M1292.54 720.68H1305.54"/><path d="M1313.75 716.69L1320.95 703.69L1328.15 716.69Z"/><path d="M1314.45 711.79H1327.45M1314.45 712.99H1327.45"/><path d="M1335.66 712.07L1342.86 699.07L1350.06 712.07Z"/><path d="M1336.36 707.17H1349.36M1336.36 708.37H1349.36"/><path d="M1357.57 709.61L1364.77 696.61L1371.97 709.61Z"/><path d="M1358.27 704.71H1371.27M1358.27 705.91H1371.27"/><path d="M1379.48 708.07L1386.68 695.07L1393.88 708.07Z"/><path d="M1380.18 703.17H1393.18M1380.18 704.37H1393.18"/><path d="M1401.39 708.07L1408.59 695.07L1415.79 708.07Z"/><path d="M1402.09 703.17H1415.09M1402.09 704.37H1415.09"/><path d="M1423.3 709.61L1430.5 696.61L1437.7 709.61Z"/><path d="M1424 704.71H1437M1424 705.91H1437"/><path d="M1445.21 712.07L1452.41 699.07L1459.61 712.07Z"/><path d="M1445.91 707.17H1458.91M1445.91 708.37H1458.91"/><path d="M1467.12 714.54L1474.32 701.54L1481.52 714.54Z"/><path d="M1467.82 709.64H1480.82M1467.82 710.84H1480.82"/><path d="M1489.03 716.69L1496.23 703.69L1503.43 716.69Z"/><path d="M1489.73 711.79H1502.73M1489.73 712.99H1502.73"/><path d="M1510.94 719.77L1518.14 706.77L1525.34 719.77Z"/><path d="M1511.64 714.87H1524.64M1511.64 716.07H1524.64"/><path d="M1532.85 722.23L1540.05 709.23L1547.25 722.23Z"/><path d="M1533.55 717.33H1546.55M1533.55 718.53H1546.55"/><path d="M1554.76 725.61L1561.96 712.61L1569.16 725.61Z"/><path d="M1555.46 720.71H1568.46M1555.46 721.91H1568.46"/><path d="M1576.67 729.61L1583.87 716.61L1591.07 729.61Z"/><path d="M1577.37 724.71H1590.37M1577.37 725.91H1590.37"/><path d="M1598.58 732.69L1605.78 719.69L1612.98 732.69Z"/><path d="M1599.28 727.79H1612.28M1599.28 728.99H1612.28"/><path d="M1620.49 736.69L1627.69 723.69L1634.89 736.69Z"/><path d="M1621.19 731.79H1634.19M1621.19 732.99H1634.19"/><path d="M1642.4 739.77L1649.6 726.77L1656.8 739.77Z"/><path d="M1643.1 734.87H1656.1M1643.1 736.07H1656.1"/></g>
<g fill="none" stroke="#3d7cad" stroke-width="1.3"><path d="M1204.2 833L1211.4 820L1218.6 833Z"/><path d="M1204.9 828.1H1217.9M1204.9 829.3H1217.9"/><path d="M1226.11 791.77L1233.31 778.77L1240.51 791.77Z"/><path d="M1226.81 786.87H1239.81M1226.81 788.07H1239.81"/><path d="M1248.02 769.61L1255.22 756.61L1262.42 769.61Z"/><path d="M1248.72 764.71H1261.72M1248.72 765.91H1261.72"/><path d="M1269.93 754.84L1277.13 741.84L1284.33 754.84Z"/><path d="M1270.63 749.94H1283.63M1270.63 751.14H1283.63"/><path d="M1291.84 744.38L1299.04 731.38L1306.24 744.38Z"/><path d="M1292.54 739.48H1305.54M1292.54 740.68H1305.54"/><path d="M1313.75 739.15L1320.95 726.15L1328.15 739.15Z"/><path d="M1314.45 734.25H1327.45M1314.45 735.45H1327.45"/><path d="M1335.66 735.46L1342.86 722.46L1350.06 735.46Z"/><path d="M1336.36 730.56H1349.36M1336.36 731.76H1349.36"/><path d="M1357.57 733.31L1364.77 720.31L1371.97 733.31Z"/><path d="M1358.27 728.41H1371.27M1358.27 729.61H1371.27"/><path d="M1379.48 731.77L1386.68 718.77L1393.88 731.77Z"/><path d="M1380.18 726.87H1393.18M1380.18 728.07H1393.18"/><path d="M1401.39 731.15L1408.59 718.15L1415.79 731.15Z"/><path d="M1402.09 726.25H1415.09M1402.09 727.45H1415.09"/><path d="M1423.3 731.77L1430.5 718.77L1437.7 731.77Z"/><path d="M1424 726.87H1437M1424 728.07H1437"/><path d="M1445.21 732.38L1452.41 719.38L1459.61 732.38Z"/><path d="M1445.91 727.48H1458.91M1445.91 728.68H1458.91"/><path d="M1467.12 733.31L1474.32 720.31L1481.52 733.31Z"/><path d="M1467.82 728.41H1480.82M1467.82 729.61H1480.82"/><path d="M1489.03 734.84L1496.23 721.84L1503.43 734.84Z"/><path d="M1489.73 729.94H1502.73M1489.73 731.14H1502.73"/><path d="M1510.94 737.31L1518.14 724.31L1525.34 737.31Z"/><path d="M1511.64 732.41H1524.64M1511.64 733.61H1524.64"/><path d="M1532.85 739.77L1540.05 726.77L1547.25 739.77Z"/><path d="M1533.55 734.87H1546.55M1533.55 736.07H1546.55"/><path d="M1554.76 742.84L1561.96 729.84L1569.16 742.84Z"/><path d="M1555.46 737.94H1568.46M1555.46 739.14H1568.46"/><path d="M1576.67 745.31L1583.87 732.31L1591.07 745.31Z"/><path d="M1577.37 740.41H1590.37M1577.37 741.61H1590.37"/><path d="M1598.58 748.38L1605.78 735.38L1612.98 748.38Z"/><path d="M1599.28 743.48H1612.28M1599.28 744.68H1612.28"/><path d="M1620.49 750.84L1627.69 737.84L1634.89 750.84Z"/><path d="M1621.19 745.94H1634.19M1621.19 747.14H1634.19"/><path d="M1642.4 753L1649.6 740L1656.8 753Z"/><path d="M1643.1 748.1H1656.1M1643.1 749.3H1656.1"/></g>
<text transform="translate(1225.6,562) scale(1,1.0)" font-size="29" text-anchor="start" font-family='"Liberation Sans", Arial, sans-serif'>SF</text>
<rect x="299.7" y="529" width="228.9" height="127.5" fill="none" stroke="#3c3c3c" stroke-width="1.1"/>
<path d="M345.48 656.5V653.5M345.48 529V532M391.26 656.5V653.5M391.26 529V532M437.04 656.5V653.5M437.04 529V532M482.82 656.5V653.5M482.82 529V532M299.7 592.75H302.7M528.6 592.75H525.6" stroke="#3c3c3c" stroke-width="1.1" fill="none"/>
<text transform="translate(292.5,539) scale(1,1.03)" font-size="16.5" text-anchor="end" font-family='"Liberation Sans", Arial, sans-serif'>1</text>
<text transform="translate(292.1,598.35) scale(1,1.03)" font-size="16.5" text-anchor="end" font-family='"Liberation Sans", Arial, sans-serif'>0.5</text>
<text transform="translate(291.8,665.9) scale(1,1.03)" font-size="16.5" text-anchor="end" font-family='"Liberation Sans", Arial, sans-serif'>0</text>
<text transform="translate(298.9,671.9) scale(1,1.03)" font-size="16.5" text-anchor="middle" font-family='"Liberation Sans", Arial, sans-serif'>0</text>
<text transform="translate(344.68,671.9) scale(1,1.03)" font-size="16.5" text-anchor="middle" font-family='"Liberation Sans", Arial, sans-serif'>2</text>
<text transform="translate(390.46,671.9) scale(1,1.03)" font-size="16.5" text-anchor="middle" font-family='"Liberation Sans", Arial, sans-serif'>4</text>
<text transform="translate(436.24,671.9) scale(1,1.03)" font-size="16.5" text-anchor="middle" font-family='"Liberation Sans", Arial, sans-serif'>6</text>
<text transform="translate(482.02,671.9) scale(1,1.03)" font-size="16.5" text-anchor="middle" font-family='"Liberation Sans", Arial, sans-serif'>8</text>
<text transform="translate(527.8,671.9) scale(1,1.03)" font-size="16.5" text-anchor="middle" font-family='"Liberation Sans", Arial, sans-serif'>10</text>
<g fill="none" stroke="#3d7cad" stroke-width="1.25"><circle cx="311.14" cy="647.96" r="5.42"/><path d="M305.54 647.36H316.75M305.54 648.56H316.75"/><circle cx="322.59" cy="632.27" r="5.42"/><path d="M316.99 631.67H328.19M316.99 632.88H328.19"/><circle cx="334.03" cy="620.29" r="5.42"/><path d="M328.43 619.69H339.63M328.43 620.89H339.63"/><circle cx="345.48" cy="612.38" r="5.42"/><path d="M339.88 611.78H351.08M339.88 612.99H351.08"/><circle cx="356.93" cy="608.56" r="5.42"/><path d="M351.32 607.96H362.53M351.32 609.16H362.53"/><circle cx="368.37" cy="607.03" r="5.42"/><path d="M362.77 606.43H373.97M362.77 607.63H373.97"/><circle cx="379.81" cy="607.28" r="5.42"/><path d="M374.21 606.68H385.42M374.21 607.88H385.42"/><circle cx="391.26" cy="608.56" r="5.42"/><path d="M385.66 607.96H396.86M385.66 609.16H396.86"/><circle cx="402.71" cy="610.22" r="5.42"/><path d="M397.11 609.62H408.31M397.11 610.82H408.31"/><circle cx="414.15" cy="612.38" r="5.42"/><path d="M408.55 611.78H419.75M408.55 612.99H419.75"/><circle cx="425.6" cy="614.3" r="5.42"/><path d="M420 613.7H431.2M420 614.9H431.2"/><circle cx="437.04" cy="616.21" r="5.42"/><path d="M431.44 615.61H442.64M431.44 616.81H442.64"/><circle cx="448.49" cy="618.12" r="5.42"/><path d="M442.88 617.52H454.09M442.88 618.72H454.09"/><circle cx="459.93" cy="620.29" r="5.42"/><path d="M454.33 619.69H465.53M454.33 620.89H465.53"/><circle cx="471.38" cy="621.95" r="5.42"/><path d="M465.77 621.35H476.98M465.77 622.55H476.98"/><circle cx="482.82" cy="623.48" r="5.42"/><path d="M477.22 622.88H488.42M477.22 624.08H488.42"/><circle cx="494.26" cy="625.13" r="5.42"/><path d="M488.66 624.53H499.87M488.66 625.74H499.87"/><circle cx="505.71" cy="626.41" r="5.42"/><path d="M500.11 625.81H511.31M500.11 627.01H511.31"/><circle cx="517.15" cy="627.68" r="5.42"/><path d="M511.55 627.08H522.75M511.55 628.28H522.75"/><circle cx="528.6" cy="629.22" r="5.42"/><path d="M523 628.62H534.2M523 629.82H534.2"/></g>
<rect x="854" y="529" width="229.2" height="127.5" fill="none" stroke="#3c3c3c" stroke-width="1.1"/>
<path d="M899.84 656.5V653.5M899.84 529V532M945.68 656.5V653.5M945.68 529V532M991.52 656.5V653.5M991.52 529V532M1037.36 656.5V653.5M1037.36 529V532M854 592.75H857M1083.2 592.75H1080.2" stroke="#3c3c3c" stroke-width="1.1" fill="none"/>
<text transform="translate(846.8,539) scale(1,1.03)" font-size="16.5" text-anchor="end" font-family='"Liberation Sans", Arial, sans-serif'>1</text>
<text transform="translate(846.4,598.35) scale(1,1.03)" font-size="16.5" text-anchor="end" font-family='"Liberation Sans", Arial, sans-serif'>0.5</text>
<text transform="translate(846.1,668) scale(1,1.03)" font-size="16.5" text-anchor="end" font-family='"Liberation Sans", Arial, sans-serif'>0</text>
<text transform="translate(853.2,671.9) scale(1,1.03)" font-size="16.5" text-anchor="middle" font-family='"Liberation Sans", Arial, sans-serif'>0</text>
<text transform="translate(899.04,671.9) scale(1,1.03)" font-size="16.5" text-anchor="middle" font-family='"Liberation Sans", Arial, sans-serif'>2</text>
<text transform="translate(944.88,671.9) scale(1,1.03)" font-size="16.5" text-anchor="middle" font-family='"Liberation Sans", Arial, sans-serif'>4</text>
<text transform="translate(990.72,671.9) scale(1,1.03)" font-size="16.5" text-anchor="middle" font-family='"Liberation Sans", Arial, sans-serif'>6</text>
<text transform="translate(1036.56,671.9) scale(1,1.03)" font-size="16.5" text-anchor="middle" font-family='"Liberation Sans", Arial, sans-serif'>8</text>
<text transform="translate(1082.4,671.9) scale(1,1.03)" font-size="16.5" text-anchor="middle" font-family='"Liberation Sans", Arial, sans-serif'>10</text>
<g fill="none" stroke="#3d7cad" stroke-width="1.25"><path d="M862.28 642.99L874.06 649.87L862.28 656.75Z"/><path d="M860.46 649.27H870.46M860.46 650.47H870.46"/><path d="M873.74 634.83L885.52 641.71L873.74 648.59Z"/><path d="M871.92 641.11H881.92M871.92 642.31H881.92"/><path d="M885.2 628.97L896.98 635.85L885.2 642.73Z"/><path d="M883.38 635.25H893.38M883.38 636.45H893.38"/><path d="M896.66 625.27L908.44 632.15L896.66 639.03Z"/><path d="M894.84 631.55H904.84M894.84 632.75H904.84"/><path d="M908.12 622.85L919.9 629.73L908.12 636.61Z"/><path d="M906.3 629.12H916.3M906.3 630.33H916.3"/><path d="M919.58 621.57L931.36 628.45L919.58 635.33Z"/><path d="M917.76 627.85H927.76M917.76 629.05H927.76"/><path d="M931.04 620.8L942.82 627.68L931.04 634.56Z"/><path d="M929.22 627.08H939.22M929.22 628.28H939.22"/><path d="M942.5 620.68L954.28 627.56L942.5 634.44Z"/><path d="M940.68 626.96H950.68M940.68 628.16H950.68"/><path d="M953.96 620.8L965.74 627.68L953.96 634.56Z"/><path d="M952.14 627.08H962.14M952.14 628.28H962.14"/><path d="M965.42 620.93L977.2 627.81L965.42 634.69Z"/><path d="M963.6 627.21H973.6M963.6 628.41H973.6"/><path d="M976.88 621.32L988.66 628.2L976.88 635.08Z"/><path d="M975.06 627.6H985.06M975.06 628.8H985.06"/><path d="M988.34 621.7L1000.12 628.58L988.34 635.46Z"/><path d="M986.52 627.98H996.52M986.52 629.18H996.52"/><path d="M999.8 622.08L1011.58 628.96L999.8 635.84Z"/><path d="M997.98 628.36H1007.98M997.98 629.56H1007.98"/><path d="M1011.26 622.59L1023.04 629.47L1011.26 636.35Z"/><path d="M1009.44 628.87H1019.44M1009.44 630.07H1019.44"/><path d="M1022.72 622.97L1034.5 629.85L1022.72 636.73Z"/><path d="M1020.9 629.25H1030.9M1020.9 630.45H1030.9"/><path d="M1034.18 623.48L1045.96 630.36L1034.18 637.24Z"/><path d="M1032.36 629.76H1042.36M1032.36 630.96H1042.36"/><path d="M1045.64 623.99L1057.42 630.87L1045.64 637.75Z"/><path d="M1043.82 630.27H1053.82M1043.82 631.47H1053.82"/><path d="M1057.1 624.5L1068.88 631.38L1057.1 638.26Z"/><path d="M1055.28 630.78H1065.28M1055.28 631.98H1065.28"/><path d="M1068.56 625.01L1080.34 631.89L1068.56 638.77Z"/><path d="M1066.74 631.29H1076.74M1066.74 632.49H1076.74"/><path d="M1080.02 625.52L1091.8 632.4L1080.02 639.28Z"/><path d="M1078.2 631.8H1088.2M1078.2 633H1088.2"/></g>
<path d="M863.17 656.5 L863.45 655.62 L863.74 654.67 L864.03 653.7 L864.31 652.73 L864.6 651.83 L864.89 651.02 L865.17 650.35 L865.46 649.87 L866.89 648.16 L868.33 646.79 L869.76 645.67 L871.19 644.75 L872.62 643.96 L874.05 643.24 L875.49 642.51 L876.92 641.71 L878.35 640.87 L879.78 640.05 L881.22 639.25 L882.65 638.49 L884.08 637.77 L885.51 637.08 L886.95 636.44 L888.38 635.85 L889.81 635.29 L891.25 634.77 L892.68 634.27 L894.11 633.8 L895.54 633.35 L896.98 632.92 L898.41 632.52 L899.84 632.15 L901.27 631.79 L902.71 631.44 L904.14 631.1 L905.57 630.78 L907 630.48 L908.44 630.2 L909.87 629.95 L911.3 629.73 L912.73 629.52 L914.16 629.34 L915.6 629.16 L917.03 629 L918.46 628.85 L919.89 628.71 L921.33 628.57 L922.76 628.45 L924.19 628.33 L925.62 628.21 L927.06 628.09 L928.49 627.98 L929.92 627.88 L931.36 627.79 L932.79 627.73 L934.22 627.68 L935.65 627.66 L937.09 627.63 L938.52 627.61 L939.95 627.59 L941.38 627.58 L942.82 627.57 L944.25 627.56 L945.68 627.56 L947.11 627.56 L948.55 627.57 L949.98 627.59 L951.41 627.61 L952.84 627.63 L954.27 627.65 L955.71 627.67 L957.14 627.68 L958.57 627.7 L960 627.71 L961.44 627.73 L962.87 627.74 L964.3 627.76 L965.74 627.77 L967.17 627.79 L968.6 627.81 L970.03 627.84 L971.47 627.88 L972.9 627.93 L974.33 627.98 L975.76 628.03 L977.2 628.09 L978.63 628.14 L980.06 628.2 L981.49 628.24 L982.92 628.29 L984.36 628.34 L985.79 628.39 L987.22 628.43 L988.65 628.48 L990.09 628.53 L991.52 628.58 L992.95 628.62 L994.38 628.67 L995.82 628.72 L997.25 628.76 L998.68 628.81 L1000.12 628.86 L1001.55 628.91 L1002.98 628.96 L1004.41 629.02 L1005.85 629.08 L1007.28 629.15 L1008.71 629.22 L1010.14 629.28 L1011.58 629.35 L1013.01 629.41 L1014.44 629.47 L1015.87 629.52 L1017.31 629.57 L1018.74 629.62 L1020.17 629.66 L1021.6 629.71 L1023.04 629.75 L1024.47 629.8 L1025.9 629.85 L1027.33 629.91 L1028.77 629.97 L1030.2 630.03 L1031.63 630.1 L1033.06 630.16 L1034.5 630.23 L1035.93 630.3 L1037.36 630.36 L1038.79 630.43 L1040.23 630.49 L1041.66 630.55 L1043.09 630.62 L1044.52 630.68 L1045.95 630.75 L1047.39 630.81 L1048.82 630.87 L1050.25 630.94 L1051.68 631 L1053.12 631.06 L1054.55 631.13 L1055.98 631.19 L1057.41 631.25 L1058.85 631.32 L1060.28 631.38 L1061.71 631.45 L1063.14 631.51 L1064.58 631.57 L1066.01 631.64 L1067.44 631.7 L1068.88 631.76 L1070.31 631.83 L1071.74 631.89 L1073.17 631.96 L1074.61 632.02 L1076.04 632.08 L1077.47 632.15 L1078.9 632.21 L1080.34 632.27 L1081.77 632.34 L1083.2 632.4" fill="none" stroke="#3d7cad" stroke-width="1.1"/>
<rect x="1404.3" y="528.2" width="230.5" height="129.1" fill="none" stroke="#3c3c3c" stroke-width="1.1"/>
<path d="M1442.72 657.3V654.3M1442.72 528.2V531.2M1481.13 657.3V654.3M1481.13 528.2V531.2M1519.55 657.3V654.3M1519.55 528.2V531.2M1557.97 657.3V654.3M1557.97 528.2V531.2M1596.38 657.3V654.3M1596.38 528.2V531.2M1404.3 592.75H1407.3M1634.8 592.75H1631.8" stroke="#3c3c3c" stroke-width="1.1" fill="none"/>
<text transform="translate(1397.1,538.2) scale(1,1.03)" font-size="16.5" text-anchor="end" font-family='"Liberation Sans", Arial, sans-serif'>1</text>
<text transform="translate(1396.7,598.35) scale(1,1.03)" font-size="16.5" text-anchor="end" font-family='"Liberation Sans", Arial, sans-serif'>0.5</text>
<text transform="translate(1396.4,658.9) scale(1,1.03)" font-size="16.5" text-anchor="end" font-family='"Liberation Sans", Arial, sans-serif'>0</text>
<text transform="translate(1403.5,674.2) scale(1,1.03)" font-size="16.5" text-anchor="middle" font-family='"Liberation Sans", Arial, sans-serif'>1</text>
<text transform="translate(1441.92,674.2) scale(1,1.03)" font-size="16.5" text-anchor="middle" font-family='"Liberation Sans", Arial, sans-serif'>2</text>
<text transform="translate(1480.33,674.2) scale(1,1.03)" font-size="16.5" text-anchor="middle" font-family='"Liberation Sans", Arial, sans-serif'>3</text>
<text transform="translate(1518.75,674.2) scale(1,1.03)" font-size="16.5" text-anchor="middle" font-family='"Liberation Sans", Arial, sans-serif'>4</text>
<text transform="translate(1557.17,674.2) scale(1,1.03)" font-size="16.5" text-anchor="middle" font-family='"Liberation Sans", Arial, sans-serif'>5</text>
<text transform="translate(1595.58,674.2) scale(1,1.03)" font-size="16.5" text-anchor="middle" font-family='"Liberation Sans", Arial, sans-serif'>6</text>
<text transform="translate(1634,674.2) scale(1,1.03)" font-size="16.5" text-anchor="middle" font-family='"Liberation Sans", Arial, sans-serif'>7</text>
<g fill="none" stroke="#3d7cad" stroke-width="1.25"><path d="M1404.3 649.65L1409.89 657.3L1404.3 664.95L1398.71 657.3Z"/><path d="M1399.3 656.7H1409.3M1399.3 657.9H1409.3"/><path d="M1423.51 649.65L1429.1 657.3L1423.51 664.95L1417.92 657.3Z"/><path d="M1418.51 656.7H1428.51M1418.51 657.9H1428.51"/><path d="M1442.72 625.12L1448.31 632.77L1442.72 640.42L1437.13 632.77Z"/><path d="M1437.72 632.17H1447.72M1437.72 633.37H1447.72"/><path d="M1461.92 609.62L1467.51 617.28L1461.92 624.93L1456.34 617.28Z"/><path d="M1456.92 616.68H1466.92M1456.92 617.88H1466.92"/><path d="M1481.13 604.98L1486.72 612.63L1481.13 620.29L1475.54 612.63Z"/><path d="M1476.13 612.03H1486.13M1476.13 613.23H1486.13"/><path d="M1500.34 603.43L1505.93 611.08L1500.34 618.74L1494.75 611.08Z"/><path d="M1495.34 610.48H1505.34M1495.34 611.68H1505.34"/><path d="M1519.55 603.17L1525.14 610.82L1519.55 618.48L1513.96 610.82Z"/><path d="M1514.55 610.22H1524.55M1514.55 611.42H1524.55"/><path d="M1538.76 602.91L1544.35 610.57L1538.76 618.22L1533.17 610.57Z"/><path d="M1533.76 609.97H1543.76M1533.76 611.17H1543.76"/><path d="M1557.97 602.65L1563.56 610.31L1557.97 617.96L1552.38 610.31Z"/><path d="M1552.97 609.71H1562.97M1552.97 610.91H1562.97"/><path d="M1577.17 602.52L1582.76 610.18L1577.17 617.83L1571.59 610.18Z"/><path d="M1572.17 609.58H1582.17M1572.17 610.78H1582.17"/><path d="M1596.38 602.52L1601.97 610.18L1596.38 617.83L1590.79 610.18Z"/><path d="M1591.38 609.58H1601.38M1591.38 610.78H1601.38"/><path d="M1615.59 602.52L1621.18 610.18L1615.59 617.83L1610 610.18Z"/><path d="M1610.59 609.58H1620.59M1610.59 610.78H1620.59"/><path d="M1634.8 602.52L1640.39 610.18L1634.8 617.83L1629.21 610.18Z"/><path d="M1629.8 609.58H1639.8M1629.8 610.78H1639.8"/></g>
<g fill="none" stroke="#3d7cad" stroke-width="1.25"><path d="M1398.11 661L1404.3 649.82L1410.49 661Z"/><path d="M1399.3 656.7H1409.3M1399.3 657.9H1409.3"/><path d="M1417.32 661L1423.51 649.82L1429.7 661Z"/><path d="M1418.51 656.7H1428.51M1418.51 657.9H1428.51"/><path d="M1436.52 647.57L1442.72 636.39L1448.91 647.57Z"/><path d="M1437.72 643.27H1447.72M1437.72 644.47H1447.72"/><path d="M1455.73 631.43L1461.92 620.25L1468.12 631.43Z"/><path d="M1456.92 627.14H1466.92M1456.92 628.34H1466.92"/><path d="M1474.94 623.56L1481.13 612.38L1487.33 623.56Z"/><path d="M1476.13 619.26H1486.13M1476.13 620.46H1486.13"/><path d="M1494.15 620.2L1500.34 609.02L1506.53 620.2Z"/><path d="M1495.34 615.9H1505.34M1495.34 617.1H1505.34"/><path d="M1513.36 619.3L1519.55 608.12L1525.74 619.3Z"/><path d="M1514.55 615H1524.55M1514.55 616.2H1524.55"/><path d="M1532.57 618.91L1538.76 607.73L1544.95 618.91Z"/><path d="M1533.76 614.61H1543.76M1533.76 615.81H1543.76"/><path d="M1551.77 618.78L1557.97 607.6L1564.16 618.78Z"/><path d="M1552.97 614.48H1562.97M1552.97 615.68H1562.97"/><path d="M1570.98 618.65L1577.17 607.47L1583.37 618.65Z"/><path d="M1572.17 614.36H1582.17M1572.17 615.56H1582.17"/><path d="M1590.19 618.65L1596.38 607.47L1602.58 618.65Z"/><path d="M1591.38 614.36H1601.38M1591.38 615.56H1601.38"/><path d="M1609.4 618.65L1615.59 607.47L1621.78 618.65Z"/><path d="M1610.59 614.36H1620.59M1610.59 615.56H1620.59"/><path d="M1628.61 618.65L1634.8 607.47L1640.99 618.65Z"/><path d="M1629.8 614.36H1639.8M1629.8 615.56H1639.8"/></g>
<rect x="105.5" y="978.6" width="438.2" height="307.8" fill="none" stroke="#3c3c3c" stroke-width="1.2"/>
<path d="M215.05 1286.4V1281.4M215.05 978.6V983.6M324.6 1286.4V1281.4M324.6 978.6V983.6M434.15 1286.4V1281.4M434.15 978.6V983.6M105.5 1224.84H110.5M543.7 1224.84H538.7M105.5 1163.28H110.5M543.7 1163.28H538.7M105.5 1101.72H110.5M543.7 1101.72H538.7M105.5 1040.16H110.5M543.7 1040.16H538.7" stroke="#3c3c3c" stroke-width="1.2" fill="none"/>
<text transform="translate(90.8,1300.3) scale(1,1.04)" font-size="27" text-anchor="end" font-family='"Liberation Sans", Arial, sans-serif'>0</text>
<text transform="translate(93.8,1236.4) scale(1,1.04)" font-size="27" text-anchor="end" font-family='"Liberation Sans", Arial, sans-serif'>0.2</text>
<text transform="translate(93.8,1174.3) scale(1,1.04)" font-size="27" text-anchor="end" font-family='"Liberation Sans", Arial, sans-serif'>0.4</text>
<text transform="translate(93.8,1112.6) scale(1,1.04)" font-size="27" text-anchor="end" font-family='"Liberation Sans", Arial, sans-serif'>0.6</text>
<text transform="translate(93.8,1050.2) scale(1,1.04)" font-size="27" text-anchor="end" font-family='"Liberation Sans", Arial, sans-serif'>0.8</text>
<text transform="translate(88.7,989.4) scale(1,1.04)" font-size="27" text-anchor="end" font-family='"Liberation Sans", Arial, sans-serif'>1</text>
<text transform="translate(106.1,1322.2) scale(1,1.04)" font-size="27" text-anchor="middle" font-family='"Liberation Sans", Arial, sans-serif'>0</text>
<text transform="translate(216.6,1322.2) scale(1,1.04)" font-size="27" text-anchor="middle" font-family='"Liberation Sans", Arial, sans-serif'>5</text>
<text transform="translate(329.7,1322.2) scale(1,1.04)" font-size="27" text-anchor="middle" font-family='"Liberation Sans", Arial, sans-serif'>10</text>
<text transform="translate(436,1322.2) scale(1,1.04)" font-size="27" text-anchor="middle" font-family='"Liberation Sans", Arial, sans-serif'>15</text>
<text transform="translate(535.2,1322.2) scale(1,1.04)" font-size="27" text-anchor="middle" font-family='"Liberation Sans", Arial, sans-serif'>20</text>
<path d="M105.5 1286.4 L106.18 1285.64 L106.87 1284.89 L107.55 1284.15 L108.24 1283.41 L108.92 1282.65 L109.61 1281.88 L110.29 1281.08 L110.98 1280.24 L111.66 1279.38 L112.35 1278.5 L113.03 1277.6 L113.72 1276.66 L114.4 1275.7 L115.09 1274.69 L115.77 1273.65 L116.45 1272.55 L117.14 1271.38 L117.82 1270.13 L118.51 1268.81 L119.19 1267.44 L119.88 1266.04 L120.56 1264.62 L121.25 1263.19 L121.93 1261.78 L122.62 1260.32 L123.3 1258.79 L123.99 1257.22 L124.67 1255.65 L125.36 1254.11 L126.04 1252.64 L126.73 1251.29 L127.41 1250.08 L128.78 1247.92 L130.15 1245.89 L131.52 1244.01 L132.89 1242.24 L134.26 1240.59 L135.63 1239.05 L137 1237.6 L138.37 1236.23 L139.73 1234.93 L141.1 1233.69 L142.47 1232.52 L143.84 1231.41 L145.21 1230.36 L146.58 1229.37 L147.95 1228.46 L149.32 1227.61 L150.69 1226.82 L152.06 1226.07 L153.43 1225.36 L154.8 1224.69 L156.17 1224.06 L157.54 1223.47 L158.91 1222.91 L160.28 1222.38 L161.64 1221.87 L163.01 1221.37 L164.38 1220.89 L165.75 1220.44 L167.12 1220.01 L168.49 1219.63 L169.86 1219.28 L171.23 1218.99 L172.6 1218.73 L173.97 1218.48 L175.34 1218.24 L176.71 1218.02 L178.08 1217.83 L179.45 1217.67 L180.82 1217.54 L182.19 1217.45 L183.55 1217.39 L184.92 1217.33 L186.29 1217.28 L187.66 1217.23 L189.03 1217.2 L190.4 1217.17 L191.77 1217.15 L193.14 1217.14 L194.51 1217.14 L195.88 1217.14 L197.25 1217.14 L198.62 1217.14 L199.99 1217.14 L201.36 1217.14 L202.73 1217.14 L204.09 1217.14 L205.46 1217.15 L206.83 1217.17 L208.2 1217.2 L209.57 1217.24 L210.94 1217.29 L212.31 1217.34 L213.68 1217.4 L215.05 1217.45 L217.79 1217.59 L220.53 1217.77 L223.27 1217.98 L226.01 1218.23 L228.74 1218.49 L231.48 1218.76 L234.22 1219.03 L236.96 1219.3 L242.44 1219.84 L247.92 1220.43 L253.39 1221.05 L258.87 1221.69 L264.35 1222.33 L269.83 1222.98 L275.3 1223.61 L280.78 1224.22 L286.26 1224.82 L291.74 1225.42 L297.21 1226.01 L302.69 1226.59 L308.17 1227.17 L313.65 1227.74 L319.12 1228.3 L324.6 1228.84 L330.08 1229.37 L335.56 1229.89 L341.03 1230.41 L346.51 1230.91 L351.99 1231.41 L357.47 1231.89 L362.94 1232.37 L368.42 1232.84 L376.64 1233.54 L384.85 1234.22 L393.07 1234.89 L401.29 1235.55 L409.5 1236.2 L417.72 1236.83 L425.93 1237.46 L434.15 1238.08 L439.63 1238.48 L445.11 1238.87 L450.58 1239.26 L456.06 1239.65 L461.54 1240.03 L467.02 1240.41 L472.49 1240.78 L477.97 1241.15 L486.19 1241.71 L494.4 1242.25 L502.62 1242.79 L510.84 1243.33 L519.05 1243.86 L527.27 1244.39 L535.48 1244.93 L543.7 1245.46" fill="none" stroke="#3d7cad" stroke-width="1.2"/>
<g fill="none" stroke="#3d7cad" stroke-width="1.3"><circle cx="122.59" cy="1279.94" r="7.8"/><path d="M114.79 1279.14H130.39 M114.79 1280.74H130.39"/><circle cx="135.3" cy="1265.78" r="7.8"/><path d="M127.5 1264.98H143.1 M127.5 1266.58H143.1"/><circle cx="139.9" cy="1280.86" r="7.8"/><path d="M132.1 1280.06H147.7 M132.1 1281.66H147.7"/><circle cx="177.8" cy="1282.71" r="7.8"/><path d="M170 1281.91H185.6 M170 1283.51H185.6"/><path d="M129.9 1154.19L139.9 1136.19L149.9 1154.19Z"/><path d="M131.9 1147.09H147.9 M131.9 1148.69H147.9"/><path d="M130.56 1151.11L140.56 1133.11L150.56 1151.11Z"/><path d="M132.56 1144.01H148.56 M132.56 1145.61H148.56"/><path d="M129.46 1155.73L139.46 1137.73L149.46 1155.73Z"/><path d="M131.46 1148.63H147.46 M131.46 1150.23H147.46"/><rect x="157.68" y="1165.62" width="14.4" height="14.4"/><path d="M157.68 1172.02H172.08 M157.68 1173.62H172.08"/><rect x="417.53" y="1273.97" width="14.4" height="14.4"/><path d="M417.53 1280.37H431.93 M417.53 1281.97H431.93"/><path d="M139.68 1190.38L148.48 1202.68L139.68 1214.98L130.88 1202.68Z"/><path d="M130.88 1201.88H148.48 M130.88 1203.48H148.48"/><path d="M158.08 1247.01L166.88 1259.31L158.08 1271.61L149.28 1259.31Z"/><path d="M149.28 1258.51H166.88 M149.28 1260.11H166.88"/><path d="M206.51 1193.15L215.31 1205.45L206.51 1217.75L197.71 1205.45Z"/><path d="M197.71 1204.65H215.31 M197.71 1206.25H215.31"/><path d="M214.61 1193.76L223.41 1206.06L214.61 1218.36L205.81 1206.06Z"/><path d="M205.81 1205.26H223.41 M205.81 1206.86H223.41"/><path d="M203.44 1211L212.24 1223.3L203.44 1235.6L194.64 1223.3Z"/><path d="M194.64 1222.5H212.24 M194.64 1224.1H212.24"/><path d="M403.48 1208.54L412.28 1220.84L403.48 1233.14L394.68 1220.84Z"/><path d="M394.68 1220.04H412.28 M394.68 1221.64H412.28"/><path d="M168.54 1231.27L179.34 1249.37L190.14 1231.27Z"/><path d="M170.7 1236.97H187.98 M170.7 1238.57H187.98"/><path d="M178.18 1220.8L188.98 1238.9L199.78 1220.8Z"/><path d="M180.34 1226.5H197.62 M180.34 1228.1H197.62"/><path d="M188.94 1237.43L170.94 1247.93L188.94 1258.43Z"/><path d="M175.94 1247.13H191.94 M175.94 1248.73H191.94"/><path d="M191.57 1235.89L173.57 1246.39L191.57 1256.89Z"/><path d="M178.57 1245.59H194.57 M178.57 1247.19H194.57"/><path d="M451.2 1232.81L433.2 1243.31L451.2 1253.81Z"/><path d="M438.2 1242.51H454.2 M438.2 1244.11H454.2"/><path d="M276 1199.57L294 1210.07L276 1220.57Z"/><path d="M273 1209.27H289 M273 1210.87H289"/><path d="M236.72 1217.45L254.72 1217.45M239.36 1211.09L252.09 1223.82M245.72 1208.45L245.72 1226.45M252.09 1211.09L239.36 1223.82"/><path d="M237.72 1216.65H253.72 M237.72 1218.25H253.72"/><path d="M199.57 1209.59L209.57 1191.59L219.57 1209.59Z"/><path d="M201.57 1202.49H217.57 M201.57 1204.09H217.57"/><circle cx="210.67" cy="1205.76" r="7.8"/><path d="M202.87 1204.96H218.47 M202.87 1206.56H218.47"/></g>
<rect x="659" y="978.6" width="438.2" height="307.8" fill="none" stroke="#3c3c3c" stroke-width="1.2"/>
<path d="M746.64 1286.4V1281.4M746.64 978.6V983.6M834.28 1286.4V1281.4M834.28 978.6V983.6M921.92 1286.4V1281.4M921.92 978.6V983.6M1009.56 1286.4V1281.4M1009.56 978.6V983.6M659 1224.84H664M1097.2 1224.84H1092.2M659 1163.28H664M1097.2 1163.28H1092.2M659 1101.72H664M1097.2 1101.72H1092.2M659 1040.16H664M1097.2 1040.16H1092.2" stroke="#3c3c3c" stroke-width="1.2" fill="none"/>
<text transform="translate(647.3,1300.3) scale(1,1.04)" font-size="27" text-anchor="end" font-family='"Liberation Sans", Arial, sans-serif'>0</text>
<text transform="translate(649.9,1236.8) scale(1,1.04)" font-size="27" text-anchor="end" font-family='"Liberation Sans", Arial, sans-serif'>0.2</text>
<text transform="translate(649.9,1174.6) scale(1,1.04)" font-size="27" text-anchor="end" font-family='"Liberation Sans", Arial, sans-serif'>0.4</text>
<text transform="translate(649.9,1112.6) scale(1,1.04)" font-size="27" text-anchor="end" font-family='"Liberation Sans", Arial, sans-serif'>0.6</text>
<text transform="translate(649.9,1050.2) scale(1,1.04)" font-size="27" text-anchor="end" font-family='"Liberation Sans", Arial, sans-serif'>0.8</text>
<text transform="translate(644.9,989.4) scale(1,1.04)" font-size="27" text-anchor="end" font-family='"Liberation Sans", Arial, sans-serif'>1</text>
<text transform="translate(661.3,1320.9) scale(1,1.04)" font-size="27" text-anchor="middle" font-family='"Liberation Sans", Arial, sans-serif'>0</text>
<text transform="translate(748.3,1320.9) scale(1,1.04)" font-size="27" text-anchor="middle" font-family='"Liberation Sans", Arial, sans-serif'>0.2</text>
<text transform="translate(835.4,1320.9) scale(1,1.04)" font-size="27" text-anchor="middle" font-family='"Liberation Sans", Arial, sans-serif'>0.4</text>
<text transform="translate(923,1320.9) scale(1,1.04)" font-size="27" text-anchor="middle" font-family='"Liberation Sans", Arial, sans-serif'>0.6</text>
<text transform="translate(1012.3,1320.9) scale(1,1.04)" font-size="27" text-anchor="middle" font-family='"Liberation Sans", Arial, sans-serif'>0.8</text>
<text transform="translate(1094.5,1320.9) scale(1,1.04)" font-size="27" text-anchor="middle" font-family='"Liberation Sans", Arial, sans-serif'>1</text>
<path d="M659 1286.4 L669.96 1286.21 L680.91 1285.63 L691.87 1284.67 L702.82 1283.32 L713.77 1281.59 L724.73 1279.47 L735.68 1276.97 L746.64 1274.09 L757.6 1270.82 L768.55 1267.16 L779.5 1263.12 L790.46 1258.7 L801.41 1253.89 L812.37 1248.69 L823.33 1243.12 L834.28 1237.15 L845.24 1230.8 L856.19 1224.07 L867.14 1216.95 L878.1 1209.45 L889.06 1201.56 L900.01 1193.29 L910.97 1184.63 L921.92 1175.59 L932.88 1166.17 L943.83 1156.35 L954.79 1146.16 L965.74 1135.58 L976.7 1124.61 L987.65 1113.26 L998.61 1101.53 L1009.56 1089.41 L1020.52 1076.9 L1031.47 1064.01 L1042.43 1050.74 L1053.38 1037.08 L1064.34 1023.04 L1075.29 1008.61 L1086.25 993.8 L1097.2 978.6" fill="none" stroke="#3d7cad" stroke-width="1.3" stroke-dasharray="11.5 7.5"/>
<g fill="none" stroke="#3d7cad" stroke-width="1.3"><circle cx="679.6" cy="1279.94" r="7.8"/><path d="M671.8 1279.14H687.4 M671.8 1280.74H687.4"/><circle cx="681.35" cy="1283.94" r="7.8"/><path d="M673.55 1283.14H689.15 M673.55 1284.74H689.15"/><circle cx="691.87" cy="1279.94" r="7.8"/><path d="M684.07 1279.14H699.66 M684.07 1280.74H699.66"/><circle cx="733.49" cy="1265.78" r="7.8"/><path d="M725.69 1264.98H741.29 M725.69 1266.58H741.29"/><path d="M746.64 1246.71L755.44 1259.01L746.64 1271.31L737.84 1259.01Z"/><path d="M737.84 1258.21H755.44 M737.84 1259.81H755.44"/><path d="M772.65 1234.35L783.45 1252.45L794.25 1234.35Z"/><path d="M774.81 1240.05H792.09 M774.81 1241.65H792.09"/><path d="M810.77 1223.88L821.57 1241.98L832.37 1223.88Z"/><path d="M812.93 1229.58H830.21 M812.93 1231.18H830.21"/><rect x="803.42" y="1273.97" width="14.4" height="14.4"/><path d="M803.42 1280.37H817.82 M803.42 1281.97H817.82"/><rect x="949.78" y="1165.31" width="14.4" height="14.4"/><path d="M949.78 1171.71H964.18 M949.78 1173.31H964.18"/><path d="M828.33 1237.12L810.33 1247.62L828.33 1258.12Z"/><path d="M815.33 1246.82H831.33 M815.33 1248.42H831.33"/><path d="M839.28 1234.65L821.28 1245.15L839.28 1255.65Z"/><path d="M826.28 1244.35H842.28 M826.28 1245.95H842.28"/><path d="M871.71 1232.5L853.71 1243L871.71 1253.5Z"/><path d="M858.71 1242.2H874.71 M858.71 1243.8H874.71"/><path d="M832.09 1187.92L840.89 1200.22L832.09 1212.52L823.29 1200.22Z"/><path d="M823.29 1199.42H840.89 M823.29 1201.02H840.89"/><path d="M850.93 1193.76L859.73 1206.06L850.93 1218.36L842.13 1206.06Z"/><path d="M842.13 1205.26H859.73 M842.13 1206.86H859.73"/><path d="M869.77 1193.76L878.57 1206.06L869.77 1218.36L860.97 1206.06Z"/><path d="M860.97 1205.26H878.57 M860.97 1206.86H878.57"/><path d="M833.84 1209.46L842.64 1221.76L833.84 1234.06L825.04 1221.76Z"/><path d="M825.04 1220.96H842.64 M825.04 1222.56H842.64"/><path d="M912.04 1217.14L930.04 1217.14M914.68 1210.78L927.41 1223.51M921.04 1208.14L921.04 1226.14M927.41 1210.78L914.68 1223.51"/><path d="M913.04 1216.35H929.04 M913.04 1217.94H929.04"/><path d="M930.5 1198.03L948.5 1208.53L930.5 1219.03Z"/><path d="M927.5 1207.73H943.5 M927.5 1209.33H943.5"/><path d="M934.27 1154.5L944.27 1136.5L954.27 1154.5Z"/><path d="M936.27 1147.4H952.27 M936.27 1149H952.27"/><path d="M936.02 1152.65L946.02 1134.65L956.02 1152.65Z"/><path d="M938.02 1145.55H954.02 M938.02 1147.15H954.02"/><path d="M932.95 1156.65L942.95 1138.65L952.95 1156.65Z"/><path d="M934.95 1149.55H950.95 M934.95 1151.15H950.95"/></g>
<rect x="1211.4" y="978.6" width="438.2" height="307.8" fill="none" stroke="#3c3c3c" stroke-width="1.2"/>
<path d="M1357.47 1286.4V1281.4M1357.47 978.6V983.6M1503.53 1286.4V1281.4M1503.53 978.6V983.6M1211.4 1183.8H1216.4M1649.6 1183.8H1644.6M1211.4 1081.2H1216.4M1649.6 1081.2H1644.6" stroke="#3c3c3c" stroke-width="1.2" fill="none"/>
<text transform="translate(1198,1289.6) scale(1,1.04)" font-size="27" text-anchor="end" font-family='"Liberation Sans", Arial, sans-serif'>0</text>
<text transform="translate(1205.6,1195.5) scale(1,1.04)" font-size="27" text-anchor="end" font-family='"Liberation Sans", Arial, sans-serif'>0.2</text>
<text transform="translate(1205.6,1089.7) scale(1,1.04)" font-size="27" text-anchor="end" font-family='"Liberation Sans", Arial, sans-serif'>0.4</text>
<text transform="translate(1205.6,993.4) scale(1,1.04)" font-size="27" text-anchor="end" font-family='"Liberation Sans", Arial, sans-serif'>0.6</text>
<text transform="translate(1218.7,1321.7) scale(1,1.04)" font-size="27" text-anchor="middle" font-family='"Liberation Sans", Arial, sans-serif'>0</text>
<text transform="translate(1358.9,1321.7) scale(1,1.04)" font-size="27" text-anchor="middle" font-family='"Liberation Sans", Arial, sans-serif'>0.2</text>
<text transform="translate(1504.7,1321.7) scale(1,1.04)" font-size="27" text-anchor="middle" font-family='"Liberation Sans", Arial, sans-serif'>0.4</text>
<text transform="translate(1647.9,1321.7) scale(1,1.04)" font-size="27" text-anchor="middle" font-family='"Liberation Sans", Arial, sans-serif'>0.6</text>
<path d="M1211.4 1286.4L1649.6 978.6" fill="none" stroke="#3d7cad" stroke-width="1.3" stroke-dasharray="11.5 7.5"/>
<g fill="none" stroke="#3d7cad" stroke-width="1.3"><circle cx="1220.89" cy="1281.27" r="7.25"/><path d="M1213.64 1280.47H1228.15 M1213.64 1282.07H1228.15"/><circle cx="1251.57" cy="1277.17" r="7.25"/><path d="M1244.31 1276.37H1258.82 M1244.31 1277.97H1258.82"/><circle cx="1254.49" cy="1277.68" r="7.25"/><path d="M1247.24 1276.88H1261.74 M1247.24 1278.48H1261.74"/><circle cx="1286.62" cy="1252.54" r="7.25"/><path d="M1279.37 1251.74H1293.88 M1279.37 1253.34H1293.88"/><rect x="1231" y="1272.52" width="13.39" height="13.39"/><path d="M1231 1278.42H1244.39 M1231 1280.02H1244.39"/><rect x="1477.85" y="1087.84" width="13.39" height="13.39"/><path d="M1477.85 1093.74H1491.24 M1477.85 1095.34H1491.24"/><path d="M1273.48 1230.84L1281.66 1242.28L1273.48 1253.72L1265.29 1242.28Z"/><path d="M1265.29 1241.48H1281.66 M1265.29 1243.08H1281.66"/><path d="M1359.29 1167.74L1367.48 1179.18L1359.29 1190.62L1351.11 1179.18Z"/><path d="M1351.11 1178.38H1367.48 M1351.11 1179.98H1367.48"/><path d="M1407.13 1137.99L1415.31 1149.43L1407.13 1160.87L1398.95 1149.43Z"/><path d="M1398.95 1148.63H1415.31 M1398.95 1150.23H1415.31"/><path d="M1404.94 1141.58L1413.12 1153.02L1404.94 1164.46L1396.75 1153.02Z"/><path d="M1396.75 1152.22H1413.12 M1396.75 1153.82H1413.12"/><path d="M1304.42 1214.05L1287.68 1223.81L1304.42 1233.58Z"/><path d="M1292.33 1223.01H1307.21 M1292.33 1224.61H1307.21"/><path d="M1318.3 1205.33L1301.56 1215.09L1318.3 1224.86Z"/><path d="M1306.21 1214.29H1321.09 M1306.21 1215.89H1321.09"/><path d="M1310.99 1209.94L1294.25 1219.71L1310.99 1229.48Z"/><path d="M1298.9 1218.91H1313.78 M1298.9 1220.51H1313.78"/><path d="M1326.24 1200.84L1336.29 1217.67L1346.33 1200.84Z"/><path d="M1328.25 1206.09H1344.32 M1328.25 1207.68H1344.32"/><path d="M1351.8 1184.94L1361.85 1201.77L1371.89 1184.94Z"/><path d="M1353.81 1190.18H1369.88 M1353.81 1191.78H1369.88"/><path d="M1369.55 1172L1386.29 1172M1372 1166.08L1383.83 1177.92M1377.92 1163.63L1377.92 1180.37M1383.83 1166.08L1372 1177.92"/><path d="M1370.48 1171.2H1385.36 M1370.48 1172.8H1385.36"/><path d="M1384.95 1147.36L1401.69 1157.12L1384.95 1166.89Z"/><path d="M1382.16 1156.32H1397.04 M1382.16 1157.92H1397.04"/><path d="M1529.29 1059.87L1538.59 1043.13L1547.89 1059.87Z"/><path d="M1531.15 1053.21H1546.03 M1531.15 1054.81H1546.03"/><path d="M1532.21 1057.3L1541.51 1040.56L1550.81 1057.3Z"/><path d="M1534.07 1050.65H1548.95 M1534.07 1052.25H1548.95"/><path d="M1397.83 1151.18L1407.13 1134.44L1416.43 1151.18Z"/><path d="M1399.69 1144.53H1414.57 M1399.69 1146.12H1414.57"/></g>
<path d="M1484.54 1081.54V1107.54 M1477.54 1081.54H1491.54 M1477.54 1107.54H1491.54" stroke="#3d7cad" stroke-width="1.8" fill="none"/>
<g transform="translate(13.25,43.90) scale(0.9462,0.9964)"><text font-size="48" font-family='"Liberation Sans", Arial, sans-serif' stroke="#000" stroke-width="1.5">a</text></g>
<g transform="translate(13.69,505.42) scale(1.0043,0.9838)"><text font-size="48" font-family='"Liberation Sans", Arial, sans-serif' stroke="#000" stroke-width="1.5">b</text></g>
<g transform="translate(593.84,505.61) scale(1.0591,0.9857)"><text font-size="48" font-family='"Liberation Sans", Arial, sans-serif' stroke="#000" stroke-width="1.5">c</text></g>
<g transform="translate(1143.20,505.61) scale(1.0043,0.9892)"><text font-size="48" font-family='"Liberation Sans", Arial, sans-serif' stroke="#000" stroke-width="1.5">d</text></g>
<g transform="translate(13.18,959.74) scale(1.0250,0.9607)"><text font-size="48" font-family='"Liberation Sans", Arial, sans-serif' stroke="#000" stroke-width="1.5">e</text></g>
<g transform="translate(602.90,959.71) scale(1.1357,0.9892)"><text font-size="48" font-family='"Liberation Sans", Arial, sans-serif' stroke="#000" stroke-width="1.5">f</text></g>
<g transform="translate(1142.96,945.94) scale(1.0435,0.9868)"><text font-size="48" font-family='"Liberation Sans", Arial, sans-serif' stroke="#000" stroke-width="1.5">g</text></g>
<g transform="translate(48.10,230.80) scale(1.0414,1.1038)"><g transform="rotate(-90)"><text font-size="44" font-family='"Liberation Serif", "Times New Roman", serif' font-style="italic">P</text></g></g>
<g transform="translate(53.90,213.02) scale(1.0643,1.2154)"><g transform="rotate(-90)"><text font-size="20" font-family='"Liberation Sans", Arial, sans-serif'>O</text></g></g>
<g transform="translate(37.50,699.80) scale(1.0483,1.1115)"><g transform="rotate(-90)"><text font-size="44" font-family='"Liberation Serif", "Times New Roman", serif' font-style="italic">P</text></g></g>
<g transform="translate(41.00,681.18) scale(1.0643,1.0909)"><g transform="rotate(-90)"><text font-size="21" font-family='"Liberation Sans", Arial, sans-serif'>E</text></g></g>
<g transform="translate(600.50,699.80) scale(1.0483,1.1115)"><g transform="rotate(-90)"><text font-size="44" font-family='"Liberation Serif", "Times New Roman", serif' font-style="italic">P</text></g></g>
<g transform="translate(604.00,681.18) scale(1.0643,1.0909)"><g transform="rotate(-90)"><text font-size="21" font-family='"Liberation Sans", Arial, sans-serif'>E</text></g></g>
<g transform="translate(1159.00,699.80) scale(1.0345,1.1115)"><g transform="rotate(-90)"><text font-size="44" font-family='"Liberation Serif", "Times New Roman", serif' font-style="italic">P</text></g></g>
<g transform="translate(1162.90,681.18) scale(1.0643,1.0909)"><g transform="rotate(-90)"><text font-size="21" font-family='"Liberation Sans", Arial, sans-serif'>E</text></g></g>
<g transform="translate(312.10,901.00) scale(1.0308,0.9379)"><text font-size="44" font-family='"Liberation Serif", "Times New Roman", serif' font-style="italic">P</text></g>
<g transform="translate(868.20,901.00) scale(1.0231,0.9379)"><text font-size="44" font-family='"Liberation Serif", "Times New Roman", serif' font-style="italic">P</text></g>
<g transform="translate(1416.00,901.00) scale(0.9962,0.9379)"><text font-size="44" font-family='"Liberation Serif", "Times New Roman", serif' font-style="italic">P</text></g>
<g transform="translate(290.92,1377.70) scale(1.0415,1.0226)"><text font-size="44" font-family='"Liberation Serif", "Times New Roman", serif'>&lt;<tspan font-style="italic">k</tspan>&gt;</text></g>
<g transform="translate(878.12,1377.77) scale(0.9160,0.8927)"><text font-size="44" font-family='"Liberation Sans", Arial, sans-serif' font-style="italic">β</text></g>
<g transform="translate(1415.30,1360.20) scale(0.9923,0.9517)"><text font-size="44" font-family='"Liberation Serif", "Times New Roman", serif' font-style="italic">P</text></g>
<g transform="translate(1439.86,1367.00) scale(1.0643,1.0643)"><text font-size="21" font-family='"Liberation Sans", Arial, sans-serif'>I</text></g>
<g transform="translate(1441.79,1340.88) scale(1.0143,1.0053)"><text font-size="21" font-family='"Liberation Sans", Arial, sans-serif'>rand-degree</text></g>
<g transform="translate(43.50,1147.80) scale(1.0483,1.1038)"><g transform="rotate(-90)"><text font-size="44" font-family='"Liberation Serif", "Times New Roman", serif' font-style="italic">P</text></g></g>
<g transform="translate(47.10,1126.09) scale(1.0643,1.0643)"><g transform="rotate(-90)"><text font-size="21" font-family='"Liberation Sans", Arial, sans-serif'>I</text></g></g>
<g transform="translate(600.00,1148.80) scale(0.9379,0.9962)"><g transform="rotate(-90)"><text font-size="44" font-family='"Liberation Serif", "Times New Roman", serif' font-style="italic">P</text></g></g>
<g transform="translate(607.10,1125.19) scale(1.0786,1.0786)"><g transform="rotate(-90)"><text font-size="21" font-family='"Liberation Sans", Arial, sans-serif'>I</text></g></g>
<g transform="translate(1158.80,1168.90) scale(0.9586,0.9962)"><g transform="rotate(-90)"><text font-size="44" font-family='"Liberation Serif", "Times New Roman", serif' font-style="italic">P</text></g></g>
<g transform="translate(1165.00,1145.09) scale(1.0643,1.0643)"><g transform="rotate(-90)"><text font-size="21" font-family='"Liberation Sans", Arial, sans-serif'>I</text></g></g>
<g transform="translate(1140.00,1143.18) scale(0.7733,1.0406)"><g transform="rotate(-90)"><text font-size="21" font-family='"Liberation Sans", Arial, sans-serif'>real</text></g></g>
<g transform="translate(255.90,603.80) scale(1.0882,1.2133)"><g transform="rotate(-90)"><text font-size="26" font-family='"Liberation Serif", "Times New Roman", serif' font-style="italic">P</text></g></g>
<g transform="translate(260.00,590.02) scale(1.3111,1.3111)"><g transform="rotate(-90)"><text font-size="13" font-family='"Liberation Sans", Arial, sans-serif'>I</text></g></g>
<g transform="translate(812.80,607.30) scale(1.0882,1.2133)"><g transform="rotate(-90)"><text font-size="26" font-family='"Liberation Serif", "Times New Roman", serif' font-style="italic">P</text></g></g>
<g transform="translate(816.90,593.52) scale(1.3111,1.3111)"><g transform="rotate(-90)"><text font-size="13" font-family='"Liberation Sans", Arial, sans-serif'>I</text></g></g>
<g transform="translate(1361.50,602.30) scale(1.0882,1.2133)"><g transform="rotate(-90)"><text font-size="26" font-family='"Liberation Serif", "Times New Roman", serif' font-style="italic">P</text></g></g>
<g transform="translate(1365.60,588.52) scale(1.3111,1.3111)"><g transform="rotate(-90)"><text font-size="13" font-family='"Liberation Sans", Arial, sans-serif'>I</text></g></g>
<g transform="translate(396.31,690.50) scale(1.1857,1.0000)"><text font-size="24" font-family='"Liberation Serif", "Times New Roman", serif'>&lt;<tspan font-style="italic">k</tspan>&gt;</text></g>
<g transform="translate(945.83,691.00) scale(1.1743,0.9750)"><text font-size="24" font-family='"Liberation Serif", "Times New Roman", serif'>&lt;<tspan font-style="italic">k</tspan>&gt;</text></g>
<g transform="translate(1515.70,688.40) scale(0.8111,1.1600)"><text font-size="22" font-family='"Liberation Serif", "Times New Roman", serif'>γ</text></g>
<text transform="translate(1673.3,83.3) scale(1,1.05)" font-size="27.6" text-anchor="start" font-family='"Liberation Sans", Arial, sans-serif'>ER</text>
<text transform="translate(1771.2,83.3) scale(1,1.05)" font-size="27.6" text-anchor="start" font-family='"Liberation Sans", Arial, sans-serif'>Simulated</text>
<text transform="translate(1910.8,83.3) scale(1,1.05)" font-size="27.6" text-anchor="start" font-family='"Liberation Sans", Arial, sans-serif'>Analytical</text>
<text transform="translate(1673.3,373.7) scale(1,1.05)" font-size="27.6" text-anchor="start" font-family='"Liberation Sans", Arial, sans-serif'>EX</text>
<text transform="translate(1771.2,373.7) scale(1,1.05)" font-size="27.6" text-anchor="start" font-family='"Liberation Sans", Arial, sans-serif'>Simulated</text>
<text transform="translate(1910.8,373.7) scale(1,1.05)" font-size="27.6" text-anchor="start" font-family='"Liberation Sans", Arial, sans-serif'>Analytical</text>
<text transform="translate(1673.3,668.9) scale(1,1.05)" font-size="27.6" text-anchor="start" font-family='"Liberation Sans", Arial, sans-serif'>SF</text>
<text transform="translate(1771.2,668.9) scale(1,1.05)" font-size="27.6" text-anchor="start" font-family='"Liberation Sans", Arial, sans-serif'>Simulated</text>
<text transform="translate(1910.8,668.9) scale(1,1.05)" font-size="27.6" text-anchor="start" font-family='"Liberation Sans", Arial, sans-serif'>Analytical</text>
<g transform="translate(1698.1,126.5)"><g transform="translate(-2.47,10.88) scale(1.2333,1.0917)"><text font-size="27" font-family='"Liberation Serif", "Times New Roman", serif'>&lt;</text></g><g transform="translate(15.90,10.60) scale(1.2000,1.0053)"><text font-size="27" font-family='"Liberation Serif", "Times New Roman", serif' font-style="italic">k</text></g><g transform="translate(29.76,10.88) scale(1.1385,1.0917)"><text font-size="27" font-family='"Liberation Serif", "Times New Roman", serif'>&gt;</text></g><g transform="translate(50.84,8.46) scale(1.0615,0.8429)"><text font-size="27" font-family='"Liberation Serif", "Times New Roman", serif'>=</text></g><g transform="translate(74.69,9.40) scale(1.0474,1.0474)"><text font-size="27" font-family='"Liberation Sans", Arial, sans-serif'>2</text></g></g>
<circle cx="1832.5" cy="126.5" r="8.3" fill="none" stroke="#3d7cad" stroke-width="1.4"/>
<path d="M1929 126.5H1982.4" stroke="#3d7cad" stroke-width="1.7"/>
<g transform="translate(1698.1,178.4)"><g transform="translate(-2.47,10.88) scale(1.2333,1.0917)"><text font-size="27" font-family='"Liberation Serif", "Times New Roman", serif'>&lt;</text></g><g transform="translate(15.90,10.60) scale(1.2000,1.0053)"><text font-size="27" font-family='"Liberation Serif", "Times New Roman", serif' font-style="italic">k</text></g><g transform="translate(29.76,10.88) scale(1.1385,1.0917)"><text font-size="27" font-family='"Liberation Serif", "Times New Roman", serif'>&gt;</text></g><g transform="translate(50.84,8.46) scale(1.0615,0.8429)"><text font-size="27" font-family='"Liberation Serif", "Times New Roman", serif'>=</text></g><g transform="translate(74.69,9.40) scale(1.0474,1.0474)"><text font-size="27" font-family='"Liberation Sans", Arial, sans-serif'>4</text></g></g>
<circle cx="1832.5" cy="178.4" r="8.3" fill="none" stroke="#7bbf80" stroke-width="1.4"/>
<path d="M1929 178.4H1982.4" stroke="#7bbf80" stroke-width="1.7"/>
<g transform="translate(1698.1,228.7)"><g transform="translate(-2.47,10.88) scale(1.2333,1.0917)"><text font-size="27" font-family='"Liberation Serif", "Times New Roman", serif'>&lt;</text></g><g transform="translate(15.90,10.60) scale(1.2000,1.0053)"><text font-size="27" font-family='"Liberation Serif", "Times New Roman", serif' font-style="italic">k</text></g><g transform="translate(29.76,10.88) scale(1.1385,1.0917)"><text font-size="27" font-family='"Liberation Serif", "Times New Roman", serif'>&gt;</text></g><g transform="translate(50.84,8.46) scale(1.0615,0.8429)"><text font-size="27" font-family='"Liberation Serif", "Times New Roman", serif'>=</text></g><g transform="translate(74.69,9.40) scale(1.0474,1.0474)"><text font-size="27" font-family='"Liberation Sans", Arial, sans-serif'>6</text></g></g>
<circle cx="1832.5" cy="228.7" r="8.3" fill="none" stroke="#f2b86f" stroke-width="1.4"/>
<path d="M1929 228.7H1982.4" stroke="#f2b86f" stroke-width="1.7"/>
<g transform="translate(1698.1,279)"><g transform="translate(-2.47,10.88) scale(1.2333,1.0917)"><text font-size="27" font-family='"Liberation Serif", "Times New Roman", serif'>&lt;</text></g><g transform="translate(15.90,10.60) scale(1.2000,1.0053)"><text font-size="27" font-family='"Liberation Serif", "Times New Roman", serif' font-style="italic">k</text></g><g transform="translate(29.76,10.88) scale(1.1385,1.0917)"><text font-size="27" font-family='"Liberation Serif", "Times New Roman", serif'>&gt;</text></g><g transform="translate(50.84,8.46) scale(1.0615,0.8429)"><text font-size="27" font-family='"Liberation Serif", "Times New Roman", serif'>=</text></g><g transform="translate(74.69,9.40) scale(1.0474,1.0474)"><text font-size="27" font-family='"Liberation Sans", Arial, sans-serif'>8</text></g></g>
<circle cx="1832.5" cy="279" r="8.3" fill="none" stroke="#c44b40" stroke-width="1.4"/>
<path d="M1929 279H1982.4" stroke="#c44b40" stroke-width="1.7"/>
<g transform="translate(1698.1,416.9)"><g transform="translate(-2.47,10.88) scale(1.2333,1.0917)"><text font-size="27" font-family='"Liberation Serif", "Times New Roman", serif'>&lt;</text></g><g transform="translate(15.90,10.60) scale(1.2000,1.0053)"><text font-size="27" font-family='"Liberation Serif", "Times New Roman", serif' font-style="italic">k</text></g><g transform="translate(29.76,10.88) scale(1.1385,1.0917)"><text font-size="27" font-family='"Liberation Serif", "Times New Roman", serif'>&gt;</text></g><g transform="translate(50.84,8.46) scale(1.0615,0.8429)"><text font-size="27" font-family='"Liberation Serif", "Times New Roman", serif'>=</text></g><g transform="translate(74.69,9.40) scale(1.0474,1.0474)"><text font-size="27" font-family='"Liberation Sans", Arial, sans-serif'>2</text></g></g>
<path d="M1823.6 407.9L1839.1 416.9L1823.6 425.9Z" fill="none" stroke="#3d7cad" stroke-width="1.4"/>
<path d="M1929 416.9H1982.4" stroke="#3d7cad" stroke-width="1.7"/>
<g transform="translate(1698.1,470.8)"><g transform="translate(-2.47,10.88) scale(1.2333,1.0917)"><text font-size="27" font-family='"Liberation Serif", "Times New Roman", serif'>&lt;</text></g><g transform="translate(15.90,10.60) scale(1.2000,1.0053)"><text font-size="27" font-family='"Liberation Serif", "Times New Roman", serif' font-style="italic">k</text></g><g transform="translate(29.76,10.88) scale(1.1385,1.0917)"><text font-size="27" font-family='"Liberation Serif", "Times New Roman", serif'>&gt;</text></g><g transform="translate(50.84,8.46) scale(1.0615,0.8429)"><text font-size="27" font-family='"Liberation Serif", "Times New Roman", serif'>=</text></g><g transform="translate(74.69,9.40) scale(1.0474,1.0474)"><text font-size="27" font-family='"Liberation Sans", Arial, sans-serif'>4</text></g></g>
<path d="M1823.6 461.8L1839.1 470.8L1823.6 479.8Z" fill="none" stroke="#7bbf80" stroke-width="1.4"/>
<path d="M1929 470.8H1982.4" stroke="#7bbf80" stroke-width="1.7"/>
<g transform="translate(1698.1,523.6)"><g transform="translate(-2.47,10.88) scale(1.2333,1.0917)"><text font-size="27" font-family='"Liberation Serif", "Times New Roman", serif'>&lt;</text></g><g transform="translate(15.90,10.60) scale(1.2000,1.0053)"><text font-size="27" font-family='"Liberation Serif", "Times New Roman", serif' font-style="italic">k</text></g><g transform="translate(29.76,10.88) scale(1.1385,1.0917)"><text font-size="27" font-family='"Liberation Serif", "Times New Roman", serif'>&gt;</text></g><g transform="translate(50.84,8.46) scale(1.0615,0.8429)"><text font-size="27" font-family='"Liberation Serif", "Times New Roman", serif'>=</text></g><g transform="translate(74.69,9.40) scale(1.0474,1.0474)"><text font-size="27" font-family='"Liberation Sans", Arial, sans-serif'>6</text></g></g>
<path d="M1823.6 514.6L1839.1 523.6L1823.6 532.6Z" fill="none" stroke="#f2b86f" stroke-width="1.4"/>
<path d="M1929 523.6H1982.4" stroke="#f2b86f" stroke-width="1.7"/>
<g transform="translate(1698.1,575.9)"><g transform="translate(-2.47,10.88) scale(1.2333,1.0917)"><text font-size="27" font-family='"Liberation Serif", "Times New Roman", serif'>&lt;</text></g><g transform="translate(15.90,10.60) scale(1.2000,1.0053)"><text font-size="27" font-family='"Liberation Serif", "Times New Roman", serif' font-style="italic">k</text></g><g transform="translate(29.76,10.88) scale(1.1385,1.0917)"><text font-size="27" font-family='"Liberation Serif", "Times New Roman", serif'>&gt;</text></g><g transform="translate(50.84,8.46) scale(1.0615,0.8429)"><text font-size="27" font-family='"Liberation Serif", "Times New Roman", serif'>=</text></g><g transform="translate(74.69,9.40) scale(1.0474,1.0474)"><text font-size="27" font-family='"Liberation Sans", Arial, sans-serif'>8</text></g></g>
<path d="M1823.6 566.9L1839.1 575.9L1823.6 584.9Z" fill="none" stroke="#c44b40" stroke-width="1.4"/>
<path d="M1929 575.9H1982.4" stroke="#c44b40" stroke-width="1.7"/>
<g transform="translate(1805.5,778.1) rotate(-90)"><g transform="translate(-2.47,10.88) scale(1.2333,1.0917)"><text font-size="27" font-family='"Liberation Serif", "Times New Roman", serif'>&lt;</text></g><g transform="translate(15.90,10.60) scale(1.2000,1.0053)"><text font-size="27" font-family='"Liberation Serif", "Times New Roman", serif' font-style="italic">k</text></g><g transform="translate(29.76,10.88) scale(1.1385,1.0917)"><text font-size="27" font-family='"Liberation Serif", "Times New Roman", serif'>&gt;</text></g><g transform="translate(50.84,8.46) scale(1.0615,0.8429)"><text font-size="27" font-family='"Liberation Serif", "Times New Roman", serif'>=</text></g><g transform="translate(74.69,9.40) scale(1.0474,1.0474)"><text font-size="27" font-family='"Liberation Sans", Arial, sans-serif'>2</text></g></g>
<g transform="translate(1869.6,778.1) rotate(-90)"><g transform="translate(-2.47,10.88) scale(1.2333,1.0917)"><text font-size="27" font-family='"Liberation Serif", "Times New Roman", serif'>&lt;</text></g><g transform="translate(15.90,10.60) scale(1.2000,1.0053)"><text font-size="27" font-family='"Liberation Serif", "Times New Roman", serif' font-style="italic">k</text></g><g transform="translate(29.76,10.88) scale(1.1385,1.0917)"><text font-size="27" font-family='"Liberation Serif", "Times New Roman", serif'>&gt;</text></g><g transform="translate(50.84,8.46) scale(1.0615,0.8429)"><text font-size="27" font-family='"Liberation Serif", "Times New Roman", serif'>=</text></g><g transform="translate(74.69,9.40) scale(1.0474,1.0474)"><text font-size="27" font-family='"Liberation Sans", Arial, sans-serif'>4</text></g></g>
<g transform="translate(1678.8,801.5)"><g transform="translate(0.00,4.57) scale(1.1000,1.0053)"><text font-size="27" font-family='"Liberation Serif", "Times New Roman", serif'>γ</text></g><g transform="translate(20.22,9.46) scale(1.0769,0.8429)"><text font-size="27" font-family='"Liberation Serif", "Times New Roman", serif'>=</text></g><g transform="translate(45.27,9.60) scale(1.0579,1.0579)"><text font-size="27" font-family='"Liberation Sans", Arial, sans-serif'>3</text></g></g>
<path d="M1796.7 809.3L1806 793.5L1815.3 809.3Z" fill="none" stroke="#3d7cad" stroke-width="1.4"/>
<path d="M1875 789.9L1883.8 801.5L1875 813.1L1866.2 801.5Z" fill="none" stroke="#3d7cad" stroke-width="1.4"/>
<path d="M1929 801.5H1982.4" stroke="#3d7cad" stroke-width="1.7"/>
<g transform="translate(1678.8,851.8)"><g transform="translate(0.00,4.57) scale(1.1000,1.0053)"><text font-size="27" font-family='"Liberation Serif", "Times New Roman", serif'>γ</text></g><g transform="translate(20.22,9.46) scale(1.0769,0.8429)"><text font-size="27" font-family='"Liberation Serif", "Times New Roman", serif'>=</text></g><g transform="translate(45.27,9.60) scale(1.0579,1.0579)"><text font-size="27" font-family='"Liberation Sans", Arial, sans-serif'>5</text></g></g>
<path d="M1796.7 859.6L1806 843.8L1815.3 859.6Z" fill="none" stroke="#c44b40" stroke-width="1.4"/>
<path d="M1875 840.2L1883.8 851.8L1875 863.4L1866.2 851.8Z" fill="none" stroke="#c44b40" stroke-width="1.4"/>
<path d="M1929 851.8H1982.4" stroke="#c44b40" stroke-width="1.7"/>
<text transform="translate(1673.3,950.7) scale(1,1.05)" font-size="27.6" text-anchor="start" font-family='"Liberation Sans", Arial, sans-serif'>Real</text>
<text transform="translate(1768.9,992.3) scale(1,1.03)" font-size="28" text-anchor="start" font-family='"Liberation Sans", Arial, sans-serif'>Regulatory</text>
<text transform="translate(1768.9,1036.8) scale(1,1.03)" font-size="28" text-anchor="start" font-family='"Liberation Sans", Arial, sans-serif'>Trust</text>
<text transform="translate(1768.9,1081.6) scale(1,1.03)" font-size="28" text-anchor="start" font-family='"Liberation Sans", Arial, sans-serif'>Food Web</text>
<text transform="translate(1768.9,1127.3) scale(1,1.03)" font-size="28" text-anchor="start" font-family='"Liberation Sans", Arial, sans-serif'>Electronic circuits</text>
<text transform="translate(1768.9,1171.5) scale(1,1.03)" font-size="28" text-anchor="start" font-family='"Liberation Sans", Arial, sans-serif'>Neuronal</text>
<text transform="translate(1768.9,1215.7) scale(1,1.03)" font-size="28" text-anchor="start" font-family='"Liberation Sans", Arial, sans-serif'>Citation</text>
<text transform="translate(1768.9,1260.8) scale(1,1.03)" font-size="28" text-anchor="start" font-family='"Liberation Sans", Arial, sans-serif'>Internet</text>
<text transform="translate(1768.9,1305.6) scale(1,1.03)" font-size="28" text-anchor="start" font-family='"Liberation Sans", Arial, sans-serif'>Transportation</text>
<g fill="none" stroke="#3d7cad" stroke-width="1.1"><circle cx="1703.3" cy="984.3" r="8"/><rect x="1695.2" y="1020.4" width="16.2" height="16.8"/><path d="M1703.3 1063L1711.2 1073.6L1703.3 1084.2L1695.4 1073.6Z"/><path d="M1694 1125.2L1701.8 1111.9L1709.6 1125.2Z"/><path d="M1695.8 1154.2L1711.4 1163.5L1695.8 1172.6Z"/><path d="M1694.4 1200.1L1712.4 1200.1L1703.4 1215.8Z"/><path d="M1711.4 1243.5L1695.5 1252.8L1711.4 1262Z"/><path d="M1694.1 1297.7L1710.9 1297.7M1696.56 1291.76L1708.44 1303.64M1702.5 1289.3L1702.5 1306.1M1708.44 1291.76L1696.56 1303.64"/></g>
</svg></body></html>
